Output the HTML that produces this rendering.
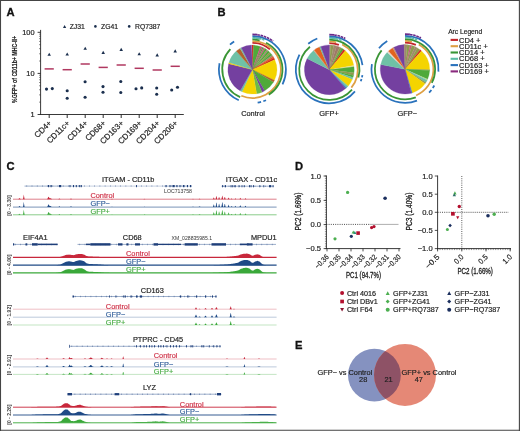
<!DOCTYPE html>
<html><head><meta charset="utf-8"><style>
html,body{margin:0;padding:0;background:#fff;}
svg{display:block;font-family:"Liberation Sans", sans-serif;will-change:transform;filter:blur(0.5px);}
</style></head><body>
<svg width="520" height="431" viewBox="0 0 520 431">
<rect x="0" y="0" width="520" height="431" fill="#fff"/>
<text x="6.5" y="16.1" font-size="11.2" text-anchor="start" fill="#111" font-weight="bold" stroke="#111" stroke-width="0.3">A</text>
<text x="217.5" y="15.9" font-size="11.2" text-anchor="start" fill="#111" font-weight="bold" stroke="#111" stroke-width="0.3">B</text>
<text x="6.6" y="169.6" font-size="11.2" text-anchor="start" fill="#111" font-weight="bold" stroke="#111" stroke-width="0.3">C</text>
<text x="295.1" y="169.7" font-size="11.2" text-anchor="start" fill="#111" font-weight="bold" stroke="#111" stroke-width="0.3">D</text>
<text x="295.1" y="348.6" font-size="11.2" text-anchor="start" fill="#111" font-weight="bold" stroke="#111" stroke-width="0.3">E</text>
<polygon points="62.99999999999999,27.94 66.19999999999999,27.94 64.6,25.06" fill="#1b2f4e"/>
<text x="69.7" y="29.0" font-size="6.8" text-anchor="start" fill="#222" stroke="#222" stroke-width="0.18">ZJ31</text>
<circle cx="95.4" cy="26.4" r="1.3" fill="#1b2f4e"/>
<text x="101" y="29.0" font-size="6.8" text-anchor="start" fill="#222" stroke="#222" stroke-width="0.18">ZG41</text>
<circle cx="129.2" cy="26.4" r="1.3" fill="#1b2f4e"/>
<text x="135" y="29.0" font-size="6.8" text-anchor="start" fill="#222" stroke="#222" stroke-width="0.18">RQ7387</text>
<line x1="40.6" y1="29.9" x2="40.6" y2="114.9" stroke="#222" stroke-width="0.9"/>
<line x1="40.1" y1="114.5" x2="183.8" y2="114.5" stroke="#222" stroke-width="0.9"/>
<line x1="37.6" y1="114.5" x2="40.6" y2="114.5" stroke="#222" stroke-width="0.9"/>
<line x1="37.6" y1="73.4" x2="40.6" y2="73.4" stroke="#222" stroke-width="0.9"/>
<line x1="37.6" y1="32.3" x2="40.6" y2="32.3" stroke="#222" stroke-width="0.9"/>
<line x1="39.1" y1="102.12766717821037" x2="40.6" y2="102.12766717821037" stroke="#333" stroke-width="0.6"/>
<line x1="39.1" y1="94.89031643102187" x2="40.6" y2="94.89031643102187" stroke="#333" stroke-width="0.6"/>
<line x1="39.1" y1="89.75533435642075" x2="40.6" y2="89.75533435642075" stroke="#333" stroke-width="0.6"/>
<line x1="39.1" y1="85.77233282178963" x2="40.6" y2="85.77233282178963" stroke="#333" stroke-width="0.6"/>
<line x1="39.1" y1="82.51798360923225" x2="40.6" y2="82.51798360923225" stroke="#333" stroke-width="0.6"/>
<line x1="39.1" y1="79.76647055541403" x2="40.6" y2="79.76647055541403" stroke="#333" stroke-width="0.6"/>
<line x1="39.1" y1="77.38300153463112" x2="40.6" y2="77.38300153463112" stroke="#333" stroke-width="0.6"/>
<line x1="39.1" y1="75.28063286204375" x2="40.6" y2="75.28063286204375" stroke="#333" stroke-width="0.6"/>
<line x1="39.1" y1="61.027667178210365" x2="40.6" y2="61.027667178210365" stroke="#333" stroke-width="0.6"/>
<line x1="39.1" y1="53.79031643102188" x2="40.6" y2="53.79031643102188" stroke="#333" stroke-width="0.6"/>
<line x1="39.1" y1="48.65533435642074" x2="40.6" y2="48.65533435642074" stroke="#333" stroke-width="0.6"/>
<line x1="39.1" y1="44.672332821789624" x2="40.6" y2="44.672332821789624" stroke="#333" stroke-width="0.6"/>
<line x1="39.1" y1="41.417983609232245" x2="40.6" y2="41.417983609232245" stroke="#333" stroke-width="0.6"/>
<line x1="39.1" y1="38.66647055541404" x2="40.6" y2="38.66647055541404" stroke="#333" stroke-width="0.6"/>
<line x1="39.1" y1="36.28300153463112" x2="40.6" y2="36.28300153463112" stroke="#333" stroke-width="0.6"/>
<line x1="39.1" y1="34.18063286204375" x2="40.6" y2="34.18063286204375" stroke="#333" stroke-width="0.6"/>
<text x="34.6" y="34.9" font-size="7.4" text-anchor="end" fill="#222" stroke="#222" stroke-width="0.18">100</text>
<text x="34.6" y="76.0" font-size="7.4" text-anchor="end" fill="#222" stroke="#222" stroke-width="0.18">10</text>
<text x="34.6" y="117.1" font-size="7.4" text-anchor="end" fill="#222" stroke="#222" stroke-width="0.18">1</text>
<text x="17.3" y="69.4" font-size="7.8" text-anchor="middle" fill="#222" font-weight="bold" transform="rotate(-90 17.3 69.4)" textLength="67" lengthAdjust="spacingAndGlyphs" stroke="#222" stroke-width="0.18">%GFP+ of CD11b+ MHC-II+</text>
<line x1="49.2" y1="114.5" x2="49.2" y2="118.0" stroke="#222" stroke-width="0.95"/>
<polygon points="47.45,55.775000000000006 50.95,55.775000000000006 49.2,52.625" fill="#1b2f4e"/>
<line x1="44.6" y1="68.9" x2="53.800000000000004" y2="68.9" stroke="#b03860" stroke-width="1.5"/>
<circle cx="46.5" cy="89.1" r="1.55" fill="#1b2f4e"/>
<circle cx="52.3" cy="88.6" r="1.55" fill="#1b2f4e"/>
<text x="52.2" y="123.6" font-size="8" text-anchor="end" fill="#222" transform="rotate(-45 52.2 123.6)" stroke="#222" stroke-width="0.18">CD4+</text>
<line x1="67.2" y1="114.5" x2="67.2" y2="118.0" stroke="#222" stroke-width="0.95"/>
<polygon points="65.45,55.575 68.95,55.575 67.2,52.425" fill="#1b2f4e"/>
<line x1="62.6" y1="69.7" x2="71.8" y2="69.7" stroke="#b03860" stroke-width="1.5"/>
<circle cx="67.2" cy="90.8" r="1.55" fill="#1b2f4e"/>
<circle cx="67.2" cy="98.3" r="1.55" fill="#1b2f4e"/>
<text x="70.2" y="123.6" font-size="8" text-anchor="end" fill="#222" transform="rotate(-45 70.2 123.6)" stroke="#222" stroke-width="0.18">CD11c+</text>
<line x1="85.2" y1="114.5" x2="85.2" y2="118.0" stroke="#222" stroke-width="0.95"/>
<polygon points="83.45,49.775000000000006 86.95,49.775000000000006 85.2,46.625" fill="#1b2f4e"/>
<line x1="80.60000000000001" y1="64" x2="89.8" y2="64" stroke="#b03860" stroke-width="1.5"/>
<circle cx="85.1" cy="81.8" r="1.55" fill="#1b2f4e"/>
<circle cx="85.1" cy="97.2" r="1.55" fill="#1b2f4e"/>
<text x="88.2" y="123.6" font-size="8" text-anchor="end" fill="#222" transform="rotate(-45 88.2 123.6)" stroke="#222" stroke-width="0.18">CD14+</text>
<line x1="103.2" y1="114.5" x2="103.2" y2="118.0" stroke="#222" stroke-width="0.95"/>
<polygon points="101.45,53.875 104.95,53.875 103.2,50.724999999999994" fill="#1b2f4e"/>
<line x1="98.60000000000001" y1="67.4" x2="107.8" y2="67.4" stroke="#b03860" stroke-width="1.5"/>
<circle cx="103" cy="86.6" r="1.55" fill="#1b2f4e"/>
<circle cx="103" cy="92.3" r="1.55" fill="#1b2f4e"/>
<text x="106.2" y="123.6" font-size="8" text-anchor="end" fill="#222" transform="rotate(-45 106.2 123.6)" stroke="#222" stroke-width="0.18">CD68+</text>
<line x1="121.2" y1="114.5" x2="121.2" y2="118.0" stroke="#222" stroke-width="0.95"/>
<polygon points="119.45,50.975 122.95,50.975 121.2,47.824999999999996" fill="#1b2f4e"/>
<line x1="116.60000000000001" y1="65" x2="125.8" y2="65" stroke="#b03860" stroke-width="1.5"/>
<circle cx="120.8" cy="81.5" r="1.55" fill="#1b2f4e"/>
<circle cx="120.8" cy="92.5" r="1.55" fill="#1b2f4e"/>
<text x="124.2" y="123.6" font-size="8" text-anchor="end" fill="#222" transform="rotate(-45 124.2 123.6)" stroke="#222" stroke-width="0.18">CD163+</text>
<line x1="139.2" y1="114.5" x2="139.2" y2="118.0" stroke="#222" stroke-width="0.95"/>
<polygon points="137.45,55.275000000000006 140.95,55.275000000000006 139.2,52.125" fill="#1b2f4e"/>
<line x1="134.6" y1="68.3" x2="143.79999999999998" y2="68.3" stroke="#b03860" stroke-width="1.5"/>
<circle cx="136" cy="88.7" r="1.55" fill="#1b2f4e"/>
<circle cx="141.7" cy="87.9" r="1.55" fill="#1b2f4e"/>
<text x="142.2" y="123.6" font-size="8" text-anchor="end" fill="#222" transform="rotate(-45 142.2 123.6)" stroke="#222" stroke-width="0.18">CD169+</text>
<line x1="157.2" y1="114.5" x2="157.2" y2="118.0" stroke="#222" stroke-width="0.95"/>
<polygon points="155.45,56.375 158.95,56.375 157.2,53.224999999999994" fill="#1b2f4e"/>
<line x1="152.6" y1="70" x2="161.79999999999998" y2="70" stroke="#b03860" stroke-width="1.5"/>
<circle cx="156.7" cy="88" r="1.55" fill="#1b2f4e"/>
<circle cx="156.7" cy="94.2" r="1.55" fill="#1b2f4e"/>
<text x="160.2" y="123.6" font-size="8" text-anchor="end" fill="#222" transform="rotate(-45 160.2 123.6)" stroke="#222" stroke-width="0.18">CD204+</text>
<line x1="175.2" y1="114.5" x2="175.2" y2="118.0" stroke="#222" stroke-width="0.95"/>
<polygon points="173.45,52.375 176.95,52.375 175.2,49.224999999999994" fill="#1b2f4e"/>
<line x1="170.6" y1="66.3" x2="179.79999999999998" y2="66.3" stroke="#b03860" stroke-width="1.5"/>
<circle cx="171.7" cy="90" r="1.55" fill="#1b2f4e"/>
<circle cx="177.5" cy="87.3" r="1.55" fill="#1b2f4e"/>
<text x="178.2" y="123.6" font-size="8" text-anchor="end" fill="#222" transform="rotate(-45 178.2 123.6)" stroke="#222" stroke-width="0.18">CD206+</text>
<line x1="326.4" y1="175.5" x2="326.4" y2="249.0" stroke="#222" stroke-width="0.9"/>
<line x1="326.0" y1="248.6" x2="400.5" y2="248.6" stroke="#222" stroke-width="0.9"/>
<line x1="323.59999999999997" y1="176" x2="326.4" y2="176" stroke="#222" stroke-width="0.8"/>
<text x="321.0" y="178.7" font-size="7.6" text-anchor="end" fill="#222" stroke="#222" stroke-width="0.18">1.0</text>
<line x1="323.59999999999997" y1="200.4" x2="326.4" y2="200.4" stroke="#222" stroke-width="0.8"/>
<text x="321.0" y="203.1" font-size="7.6" text-anchor="end" fill="#222" stroke="#222" stroke-width="0.18">0.5</text>
<line x1="323.59999999999997" y1="224.6" x2="326.4" y2="224.6" stroke="#222" stroke-width="0.8"/>
<text x="321.0" y="227.29999999999998" font-size="7.6" text-anchor="end" fill="#222" stroke="#222" stroke-width="0.18">0.0</text>
<line x1="323.59999999999997" y1="248.6" x2="326.4" y2="248.6" stroke="#222" stroke-width="0.8"/>
<text x="321.0" y="251.29999999999998" font-size="7.6" text-anchor="end" fill="#222" stroke="#222" stroke-width="0.18">−0.5</text>
<line x1="324.9" y1="176.0" x2="326.4" y2="176.0" stroke="#222" stroke-width="0.45"/>
<line x1="324.9" y1="178.42" x2="326.4" y2="178.42" stroke="#222" stroke-width="0.45"/>
<line x1="324.9" y1="180.84" x2="326.4" y2="180.84" stroke="#222" stroke-width="0.45"/>
<line x1="324.9" y1="183.26" x2="326.4" y2="183.26" stroke="#222" stroke-width="0.45"/>
<line x1="324.9" y1="185.68" x2="326.4" y2="185.68" stroke="#222" stroke-width="0.45"/>
<line x1="324.9" y1="188.1" x2="326.4" y2="188.1" stroke="#222" stroke-width="0.45"/>
<line x1="324.9" y1="190.52" x2="326.4" y2="190.52" stroke="#222" stroke-width="0.45"/>
<line x1="324.9" y1="192.94" x2="326.4" y2="192.94" stroke="#222" stroke-width="0.45"/>
<line x1="324.9" y1="195.36" x2="326.4" y2="195.36" stroke="#222" stroke-width="0.45"/>
<line x1="324.9" y1="197.78" x2="326.4" y2="197.78" stroke="#222" stroke-width="0.45"/>
<line x1="324.9" y1="200.2" x2="326.4" y2="200.2" stroke="#222" stroke-width="0.45"/>
<line x1="324.9" y1="202.62" x2="326.4" y2="202.62" stroke="#222" stroke-width="0.45"/>
<line x1="324.9" y1="205.04" x2="326.4" y2="205.04" stroke="#222" stroke-width="0.45"/>
<line x1="324.9" y1="207.46" x2="326.4" y2="207.46" stroke="#222" stroke-width="0.45"/>
<line x1="324.9" y1="209.88" x2="326.4" y2="209.88" stroke="#222" stroke-width="0.45"/>
<line x1="324.9" y1="212.3" x2="326.4" y2="212.3" stroke="#222" stroke-width="0.45"/>
<line x1="324.9" y1="214.72" x2="326.4" y2="214.72" stroke="#222" stroke-width="0.45"/>
<line x1="324.9" y1="217.14" x2="326.4" y2="217.14" stroke="#222" stroke-width="0.45"/>
<line x1="324.9" y1="219.56" x2="326.4" y2="219.56" stroke="#222" stroke-width="0.45"/>
<line x1="324.9" y1="221.98" x2="326.4" y2="221.98" stroke="#222" stroke-width="0.45"/>
<line x1="324.9" y1="224.4" x2="326.4" y2="224.4" stroke="#222" stroke-width="0.45"/>
<line x1="324.9" y1="226.82" x2="326.4" y2="226.82" stroke="#222" stroke-width="0.45"/>
<line x1="324.9" y1="229.24" x2="326.4" y2="229.24" stroke="#222" stroke-width="0.45"/>
<line x1="324.9" y1="231.66" x2="326.4" y2="231.66" stroke="#222" stroke-width="0.45"/>
<line x1="324.9" y1="234.07999999999998" x2="326.4" y2="234.07999999999998" stroke="#222" stroke-width="0.45"/>
<line x1="324.9" y1="236.5" x2="326.4" y2="236.5" stroke="#222" stroke-width="0.45"/>
<line x1="324.9" y1="238.92000000000002" x2="326.4" y2="238.92000000000002" stroke="#222" stroke-width="0.45"/>
<line x1="324.9" y1="241.34" x2="326.4" y2="241.34" stroke="#222" stroke-width="0.45"/>
<line x1="324.9" y1="243.76" x2="326.4" y2="243.76" stroke="#222" stroke-width="0.45"/>
<line x1="324.9" y1="246.18" x2="326.4" y2="246.18" stroke="#222" stroke-width="0.45"/>
<line x1="324.9" y1="248.6" x2="326.4" y2="248.6" stroke="#222" stroke-width="0.45"/>
<line x1="327" y1="248.6" x2="327" y2="251.4" stroke="#222" stroke-width="0.8"/>
<text x="329.4" y="257.5" font-size="7.6" text-anchor="end" fill="#222" transform="rotate(-45 329.4 257.5)" textLength="16.5" lengthAdjust="spacingAndGlyphs" stroke="#222" stroke-width="0.18">−0.36</text>
<line x1="339" y1="248.6" x2="339" y2="251.4" stroke="#222" stroke-width="0.8"/>
<text x="341.4" y="257.5" font-size="7.6" text-anchor="end" fill="#222" transform="rotate(-45 341.4 257.5)" textLength="16.5" lengthAdjust="spacingAndGlyphs" stroke="#222" stroke-width="0.18">−0.35</text>
<line x1="351" y1="248.6" x2="351" y2="251.4" stroke="#222" stroke-width="0.8"/>
<text x="353.4" y="257.5" font-size="7.6" text-anchor="end" fill="#222" transform="rotate(-45 353.4 257.5)" textLength="16.5" lengthAdjust="spacingAndGlyphs" stroke="#222" stroke-width="0.18">−0.34</text>
<line x1="363" y1="248.6" x2="363" y2="251.4" stroke="#222" stroke-width="0.8"/>
<text x="365.4" y="257.5" font-size="7.6" text-anchor="end" fill="#222" transform="rotate(-45 365.4 257.5)" textLength="16.5" lengthAdjust="spacingAndGlyphs" stroke="#222" stroke-width="0.18">−0.33</text>
<line x1="375" y1="248.6" x2="375" y2="251.4" stroke="#222" stroke-width="0.8"/>
<text x="377.4" y="257.5" font-size="7.6" text-anchor="end" fill="#222" transform="rotate(-45 377.4 257.5)" textLength="16.5" lengthAdjust="spacingAndGlyphs" stroke="#222" stroke-width="0.18">−0.32</text>
<line x1="387" y1="248.6" x2="387" y2="251.4" stroke="#222" stroke-width="0.8"/>
<text x="389.4" y="257.5" font-size="7.6" text-anchor="end" fill="#222" transform="rotate(-45 389.4 257.5)" textLength="16.5" lengthAdjust="spacingAndGlyphs" stroke="#222" stroke-width="0.18">−0.31</text>
<line x1="399" y1="248.6" x2="399" y2="251.4" stroke="#222" stroke-width="0.8"/>
<text x="401.4" y="257.5" font-size="7.6" text-anchor="end" fill="#222" transform="rotate(-45 401.4 257.5)" textLength="16.5" lengthAdjust="spacingAndGlyphs" stroke="#222" stroke-width="0.18">−0.30</text>
<line x1="326.4" y1="224.4" x2="369.6" y2="224.4" stroke="#222" stroke-width="0.8" stroke-dasharray="1,1.2"/>
<line x1="369.6" y1="224.4" x2="398.5" y2="224.4" stroke="#777" stroke-width="0.6"/>
<text x="301.4" y="211.5" font-size="8.4" text-anchor="middle" fill="#222" transform="rotate(-90 301.4 211.5)" textLength="38" lengthAdjust="spacingAndGlyphs" stroke="#222" stroke-width="0.3">PC2 (1.66%)</text>
<text x="363.5" y="278.4" font-size="8.4" text-anchor="middle" fill="#222" textLength="35" lengthAdjust="spacingAndGlyphs" stroke="#222" stroke-width="0.3">PC1 (94.7%)</text>
<circle cx="347.6" cy="192.4" r="1.6" fill="#4caf50"/>
<circle cx="385.1" cy="198.2" r="1.8" fill="#1b2f5e"/>
<circle cx="371.6" cy="227.6" r="1.6" fill="#b3102e"/>
<circle cx="374" cy="226.6" r="1.6" fill="#b3102e"/>
<polygon points="351.6,233.53 355.0,233.53 353.3,230.47" fill="#4caf50"/>
<polygon points="353.1,234.03 356.5,234.03 354.8,230.97" fill="#2f8f7a"/>
<rect x="356.3" y="231.29999999999998" width="3.6" height="3.6" fill="#b3102e"/>
<circle cx="351.3" cy="236.3" r="1.6" fill="#1b2f5e"/>
<circle cx="335" cy="238.8" r="1.6" fill="#4caf50"/>
<line x1="437.6" y1="175.5" x2="437.6" y2="249.0" stroke="#222" stroke-width="0.9"/>
<line x1="437.20000000000005" y1="248.6" x2="511" y2="248.6" stroke="#222" stroke-width="0.9"/>
<line x1="434.8" y1="176" x2="437.6" y2="176" stroke="#222" stroke-width="0.8"/>
<text x="432.7" y="178.7" font-size="7.6" text-anchor="end" fill="#222" stroke="#222" stroke-width="0.18">1.0</text>
<line x1="434.8" y1="194.2" x2="437.6" y2="194.2" stroke="#222" stroke-width="0.8"/>
<text x="432.7" y="196.89999999999998" font-size="7.6" text-anchor="end" fill="#222" stroke="#222" stroke-width="0.18">0.5</text>
<line x1="434.8" y1="212.3" x2="437.6" y2="212.3" stroke="#222" stroke-width="0.8"/>
<text x="432.7" y="215.0" font-size="7.6" text-anchor="end" fill="#222" stroke="#222" stroke-width="0.18">0.0</text>
<line x1="434.8" y1="230.4" x2="437.6" y2="230.4" stroke="#222" stroke-width="0.8"/>
<text x="432.7" y="233.1" font-size="7.6" text-anchor="end" fill="#222" stroke="#222" stroke-width="0.18">−0.5</text>
<line x1="434.8" y1="248.6" x2="437.6" y2="248.6" stroke="#222" stroke-width="0.8"/>
<text x="432.7" y="251.29999999999998" font-size="7.6" text-anchor="end" fill="#222" stroke="#222" stroke-width="0.18">−1.0</text>
<line x1="437.6" y1="248.6" x2="437.6" y2="251.4" stroke="#222" stroke-width="0.8"/>
<text x="440.0" y="257.5" font-size="7.6" text-anchor="end" fill="#222" transform="rotate(-45 440.0 257.5)" textLength="16.5" lengthAdjust="spacingAndGlyphs" stroke="#222" stroke-width="0.18">−0.5</text>
<line x1="461.8" y1="248.6" x2="461.8" y2="251.4" stroke="#222" stroke-width="0.8"/>
<text x="464.2" y="257.5" font-size="7.6" text-anchor="end" fill="#222" transform="rotate(-45 464.2 257.5)" textLength="10" lengthAdjust="spacingAndGlyphs" stroke="#222" stroke-width="0.18">0.0</text>
<line x1="486" y1="248.6" x2="486" y2="251.4" stroke="#222" stroke-width="0.8"/>
<text x="488.4" y="257.5" font-size="7.6" text-anchor="end" fill="#222" transform="rotate(-45 488.4 257.5)" textLength="10" lengthAdjust="spacingAndGlyphs" stroke="#222" stroke-width="0.18">0.5</text>
<line x1="510.2" y1="248.6" x2="510.2" y2="251.4" stroke="#222" stroke-width="0.8"/>
<text x="512.6" y="257.5" font-size="7.6" text-anchor="end" fill="#222" transform="rotate(-45 512.6 257.5)" textLength="10" lengthAdjust="spacingAndGlyphs" stroke="#222" stroke-width="0.18">1.0</text>
<line x1="437.6" y1="248.6" x2="437.6" y2="250.1" stroke="#222" stroke-width="0.45"/>
<line x1="440.02000000000004" y1="248.6" x2="440.02000000000004" y2="250.1" stroke="#222" stroke-width="0.45"/>
<line x1="442.44" y1="248.6" x2="442.44" y2="250.1" stroke="#222" stroke-width="0.45"/>
<line x1="444.86" y1="248.6" x2="444.86" y2="250.1" stroke="#222" stroke-width="0.45"/>
<line x1="447.28000000000003" y1="248.6" x2="447.28000000000003" y2="250.1" stroke="#222" stroke-width="0.45"/>
<line x1="449.70000000000005" y1="248.6" x2="449.70000000000005" y2="250.1" stroke="#222" stroke-width="0.45"/>
<line x1="452.12" y1="248.6" x2="452.12" y2="250.1" stroke="#222" stroke-width="0.45"/>
<line x1="454.54" y1="248.6" x2="454.54" y2="250.1" stroke="#222" stroke-width="0.45"/>
<line x1="456.96000000000004" y1="248.6" x2="456.96000000000004" y2="250.1" stroke="#222" stroke-width="0.45"/>
<line x1="459.38" y1="248.6" x2="459.38" y2="250.1" stroke="#222" stroke-width="0.45"/>
<line x1="461.8" y1="248.6" x2="461.8" y2="250.1" stroke="#222" stroke-width="0.45"/>
<line x1="464.22" y1="248.6" x2="464.22" y2="250.1" stroke="#222" stroke-width="0.45"/>
<line x1="466.64000000000004" y1="248.6" x2="466.64000000000004" y2="250.1" stroke="#222" stroke-width="0.45"/>
<line x1="469.06" y1="248.6" x2="469.06" y2="250.1" stroke="#222" stroke-width="0.45"/>
<line x1="471.48" y1="248.6" x2="471.48" y2="250.1" stroke="#222" stroke-width="0.45"/>
<line x1="473.90000000000003" y1="248.6" x2="473.90000000000003" y2="250.1" stroke="#222" stroke-width="0.45"/>
<line x1="476.32000000000005" y1="248.6" x2="476.32000000000005" y2="250.1" stroke="#222" stroke-width="0.45"/>
<line x1="478.74" y1="248.6" x2="478.74" y2="250.1" stroke="#222" stroke-width="0.45"/>
<line x1="481.16" y1="248.6" x2="481.16" y2="250.1" stroke="#222" stroke-width="0.45"/>
<line x1="483.58000000000004" y1="248.6" x2="483.58000000000004" y2="250.1" stroke="#222" stroke-width="0.45"/>
<line x1="486.0" y1="248.6" x2="486.0" y2="250.1" stroke="#222" stroke-width="0.45"/>
<line x1="488.42" y1="248.6" x2="488.42" y2="250.1" stroke="#222" stroke-width="0.45"/>
<line x1="490.84000000000003" y1="248.6" x2="490.84000000000003" y2="250.1" stroke="#222" stroke-width="0.45"/>
<line x1="493.26" y1="248.6" x2="493.26" y2="250.1" stroke="#222" stroke-width="0.45"/>
<line x1="495.68" y1="248.6" x2="495.68" y2="250.1" stroke="#222" stroke-width="0.45"/>
<line x1="498.1" y1="248.6" x2="498.1" y2="250.1" stroke="#222" stroke-width="0.45"/>
<line x1="500.52000000000004" y1="248.6" x2="500.52000000000004" y2="250.1" stroke="#222" stroke-width="0.45"/>
<line x1="502.94000000000005" y1="248.6" x2="502.94000000000005" y2="250.1" stroke="#222" stroke-width="0.45"/>
<line x1="505.36" y1="248.6" x2="505.36" y2="250.1" stroke="#222" stroke-width="0.45"/>
<line x1="507.78000000000003" y1="248.6" x2="507.78000000000003" y2="250.1" stroke="#222" stroke-width="0.45"/>
<line x1="510.20000000000005" y1="248.6" x2="510.20000000000005" y2="250.1" stroke="#222" stroke-width="0.45"/>
<line x1="461.8" y1="176" x2="461.8" y2="248.6" stroke="#333" stroke-width="0.8" stroke-dasharray="1,1.2"/>
<line x1="437.6" y1="212.3" x2="462" y2="212.3" stroke="#222" stroke-width="0.8" stroke-dasharray="1,1.2"/>
<line x1="462" y1="212.3" x2="508.5" y2="212.3" stroke="#444" stroke-width="0.7" stroke-dasharray="1.3,0.8"/>
<text x="411.9" y="211.5" font-size="8.4" text-anchor="middle" fill="#222" transform="rotate(-90 411.9 211.5)" textLength="38" lengthAdjust="spacingAndGlyphs" stroke="#222" stroke-width="0.3">PC3 (1.40%)</text>
<text x="475.2" y="273.8" font-size="8.4" text-anchor="middle" fill="#222" textLength="35.5" lengthAdjust="spacingAndGlyphs" stroke="#222" stroke-width="0.3">PC2 (1.66%)</text>
<polygon points="453.2,194.43 456.59999999999997,194.43 454.9,191.37" fill="#4caf50"/>
<polygon points="452.6,196.33 456.0,196.33 454.3,193.27" fill="#2f6f6a"/>
<circle cx="459.3" cy="206.5" r="1.7" fill="#b3102e"/>
<rect x="451.04999999999995" y="211.95000000000002" width="3.7" height="3.7" fill="#b3102e"/>
<polygon points="456.09999999999997,216.26 459.3,216.26 457.7,219.14" fill="#b3102e"/>
<polygon points="450.1,223.7 451.90000000000003,225.5 450.1,227.3 448.3,225.5" fill="#1b2f5e"/>
<circle cx="447.4" cy="229.6" r="1.5" fill="#4caf50"/>
<circle cx="488" cy="215.7" r="1.8" fill="#1b2f5e"/>
<circle cx="494.2" cy="214.3" r="1.7" fill="#4caf50"/>
<text x="346.9" y="295.6" font-size="7.2" text-anchor="start" fill="#222" stroke="#222" stroke-width="0.18">Ctrl 4016</text>
<circle cx="342.1" cy="293.1" r="2.0" fill="#b3102e"/>
<text x="346.9" y="304.0" font-size="7.2" text-anchor="start" fill="#222" stroke="#222" stroke-width="0.18">Ctrl DBv1</text>
<rect x="340.25" y="299.65" width="3.7" height="3.7" fill="#b3102e"/>
<text x="346.9" y="312.3" font-size="7.2" text-anchor="start" fill="#222" stroke="#222" stroke-width="0.18">Ctrl F64</text>
<polygon points="340.1,308.0 344.1,308.0 342.1,311.6" fill="#8a1530"/>
<text x="393.1" y="295.6" font-size="7.2" text-anchor="start" fill="#222" stroke="#222" stroke-width="0.18">GFP+ZJ31</text>
<polygon points="385.7,294.90000000000003 389.7,294.90000000000003 387.7,291.3" fill="#4caf50"/>
<text x="393.1" y="304.0" font-size="7.2" text-anchor="start" fill="#222" stroke="#222" stroke-width="0.18">GFP+ZG41</text>
<polygon points="387.7,299.5 389.7,301.5 387.7,303.5 385.7,301.5" fill="#4caf50"/>
<text x="393.1" y="312.3" font-size="7.2" text-anchor="start" fill="#222" stroke="#222" stroke-width="0.18">GFP+RQ7387</text>
<circle cx="387.7" cy="309.8" r="2.0" fill="#4caf50"/>
<text x="454.6" y="295.6" font-size="7.2" text-anchor="start" fill="#222" stroke="#222" stroke-width="0.18">GFP−ZJ31</text>
<polygon points="447.2,294.90000000000003 451.2,294.90000000000003 449.2,291.3" fill="#1b2f5e"/>
<text x="454.6" y="304.0" font-size="7.2" text-anchor="start" fill="#222" stroke="#222" stroke-width="0.18">GFP−ZG41</text>
<polygon points="449.2,299.5 451.2,301.5 449.2,303.5 447.2,301.5" fill="#1b2f5e"/>
<text x="454.6" y="312.3" font-size="7.2" text-anchor="start" fill="#222" stroke="#222" stroke-width="0.18">GFP−RQ7387</text>
<circle cx="449.2" cy="309.8" r="2.0" fill="#1b2f5e"/>
<defs><clipPath id="vb"><circle cx="374.4" cy="375.2" r="26.4"/></clipPath></defs>
<circle cx="374.4" cy="375.2" r="26.4" fill="#8592c0"/>
<circle cx="405" cy="374.9" r="31" fill="#e58876"/>
<circle cx="405" cy="374.9" r="31" fill="#8e5266" clip-path="url(#vb)"/>
<text x="372.3" y="374.6" font-size="7.4" text-anchor="end" fill="#222" stroke="#222" stroke-width="0.18">GFP− vs Control</text>
<text x="363.2" y="382.0" font-size="7.4" text-anchor="middle" fill="#222" stroke="#222" stroke-width="0.18">28</text>
<text x="388.5" y="382.0" font-size="7.4" text-anchor="middle" fill="#222" stroke="#222" stroke-width="0.18">21</text>
<text x="401.6" y="374.6" font-size="7.4" text-anchor="start" fill="#222" stroke="#222" stroke-width="0.18">GFP+ vs Control</text>
<text x="418.8" y="382.0" font-size="7.4" text-anchor="middle" fill="#222" stroke="#222" stroke-width="0.18">47</text>
<path d="M252.40,69.60 L251.97,45.10 A24.5,24.5 0 0 1 253.68,45.13 Z" fill="#d0281f" stroke="#d0281f" stroke-width="0.25"/>
<path d="M252.40,69.60 L253.68,45.13 A24.5,24.5 0 0 1 260.38,46.43 Z" fill="#4fa93a" stroke="#4fa93a" stroke-width="0.25"/>
<path d="M252.40,69.60 L260.38,46.43 A24.5,24.5 0 0 1 262.37,47.22 Z" fill="#c35a7e" stroke="#c35a7e" stroke-width="0.25"/>
<path d="M252.40,69.60 L262.37,47.22 A24.5,24.5 0 0 1 263.52,47.77 Z" fill="#4fa93a" stroke="#4fa93a" stroke-width="0.25"/>
<path d="M252.40,69.60 L263.52,47.77 A24.5,24.5 0 0 1 265.02,48.60 Z" fill="#c35a7e" stroke="#c35a7e" stroke-width="0.25"/>
<path d="M252.40,69.60 L265.02,48.60 A24.5,24.5 0 0 1 266.80,49.78 Z" fill="#4fa93a" stroke="#4fa93a" stroke-width="0.25"/>
<path d="M252.40,69.60 L266.80,49.78 A24.5,24.5 0 0 1 268.15,50.83 Z" fill="#9f8a6c" stroke="#9f8a6c" stroke-width="0.25"/>
<path d="M252.40,69.60 L268.15,50.83 A24.5,24.5 0 0 1 269.72,52.28 Z" fill="#4fa93a" stroke="#4fa93a" stroke-width="0.25"/>
<path d="M252.40,69.60 L269.72,52.28 A24.5,24.5 0 0 1 270.89,53.53 Z" fill="#8e9b4f" stroke="#8e9b4f" stroke-width="0.25"/>
<path d="M252.40,69.60 L270.89,53.53 A24.5,24.5 0 0 1 272.22,55.20 Z" fill="#4fa93a" stroke="#4fa93a" stroke-width="0.25"/>
<path d="M252.40,69.60 L272.22,55.20 A24.5,24.5 0 0 1 273.18,56.62 Z" fill="#9f8a6c" stroke="#9f8a6c" stroke-width="0.25"/>
<path d="M252.40,69.60 L273.18,56.62 A24.5,24.5 0 0 1 274.03,58.10 Z" fill="#e05a28" stroke="#e05a28" stroke-width="0.25"/>
<path d="M252.40,69.60 L274.03,58.10 A24.5,24.5 0 0 1 274.78,59.63 Z" fill="#d0281f" stroke="#d0281f" stroke-width="0.25"/>
<path d="M252.40,69.60 L274.78,59.63 A24.5,24.5 0 0 1 274.42,80.34 Z" fill="#f4d400" stroke="#f4d400" stroke-width="0.25"/>
<path d="M252.40,69.60 L274.42,80.34 A24.5,24.5 0 0 1 273.40,82.22 Z" fill="#b4622a" stroke="#b4622a" stroke-width="0.25"/>
<path d="M252.40,69.60 L273.40,82.22 A24.5,24.5 0 0 1 264.65,90.82 Z" fill="#4fa93a" stroke="#4fa93a" stroke-width="0.25"/>
<path d="M252.40,69.60 L264.65,90.82 A24.5,24.5 0 0 1 261.97,92.15 Z" fill="#7440a0" stroke="#7440a0" stroke-width="0.25"/>
<path d="M252.40,69.60 L261.97,92.15 A24.5,24.5 0 0 1 256.65,93.73 Z" fill="#6cba48" stroke="#6cba48" stroke-width="0.25"/>
<path d="M252.40,69.60 L256.65,93.73 A24.5,24.5 0 0 1 242.05,91.80 Z" fill="#f4d400" stroke="#f4d400" stroke-width="0.25"/>
<path d="M252.40,69.60 L242.05,91.80 A24.5,24.5 0 0 1 240.15,90.82 Z" fill="#6fc1a6" stroke="#6fc1a6" stroke-width="0.25"/>
<path d="M252.40,69.60 L240.15,90.82 A24.5,24.5 0 0 1 228.63,63.67 Z" fill="#7440a0" stroke="#7440a0" stroke-width="0.25"/>
<path d="M252.40,69.60 L228.63,63.67 A24.5,24.5 0 0 1 228.97,62.44 Z" fill="#f4d400" stroke="#f4d400" stroke-width="0.25"/>
<path d="M252.40,69.60 L228.97,62.44 A24.5,24.5 0 0 1 236.33,51.11 Z" fill="#6fc1a6" stroke="#6fc1a6" stroke-width="0.25"/>
<path d="M252.40,69.60 L236.33,51.11 A24.5,24.5 0 0 1 240.15,48.38 Z" fill="#b4622a" stroke="#b4622a" stroke-width="0.25"/>
<path d="M252.40,69.60 L240.15,48.38 A24.5,24.5 0 0 1 241.28,47.77 Z" fill="#6fc1a6" stroke="#6fc1a6" stroke-width="0.25"/>
<path d="M252.40,69.60 L241.28,47.77 A24.5,24.5 0 0 1 251.54,45.11 Z" fill="#7440a0" stroke="#7440a0" stroke-width="0.25"/>
<path d="M252.40,42.90 A26.7,26.7 0 0 1 269.92,49.45" fill="none" stroke="#c4262a" stroke-width="1.75"/>
<path d="M252.40,41.20 A28.4,28.4 0 1 1 241.30,95.74" fill="none" stroke="#dea044" stroke-width="1.75"/>
<path d="M252.40,39.50 A30.1,30.1 0 0 1 259.68,40.39" fill="none" stroke="#3a9535" stroke-width="1.75"/>
<path d="M266.07,42.78 A30.1,30.1 0 0 1 268.79,94.84" fill="none" stroke="#3a9535" stroke-width="1.75"/>
<path d="M240.16,97.10 A30.1,30.1 0 0 1 230.39,49.07" fill="none" stroke="#3a9535" stroke-width="1.75"/>
<path d="M252.40,37.80 A31.8,31.8 0 0 1 259.01,38.49" fill="none" stroke="#5cbca4" stroke-width="1.75"/>
<path d="M252.40,36.10 A33.5,33.5 0 0 1 282.51,84.29" fill="none" stroke="#2a72bc" stroke-width="1.75"/>
<path d="M238.77,100.20 A33.5,33.5 0 0 1 219.52,63.21" fill="none" stroke="#2a72bc" stroke-width="1.75"/>
<path d="M229.98,44.70 A33.5,33.5 0 0 1 234.15,41.50" fill="none" stroke="#2a72bc" stroke-width="1.75"/>
<path d="M266.03,100.20 A33.5,33.5 0 0 1 263.31,101.27" fill="none" stroke="#2a72bc" stroke-width="1.75"/>
<path d="M261.07,101.96 A33.5,33.5 0 0 1 257.64,102.69" fill="none" stroke="#2a72bc" stroke-width="1.75"/>
<path d="M252.40,34.40 A35.2,35.2 0 0 1 257.30,34.74" fill="none" stroke="#6a2a8a" stroke-width="1.75"/>
<path d="M259.01,38.49 A31.8,31.8 0 0 1 264.31,40.12" fill="none" stroke="#5cbca4" stroke-width="1.6" stroke-dasharray="2.6,0.7"/>
<path d="M257.30,34.74 A35.2,35.2 0 0 1 273.09,41.12" fill="none" stroke="#6a2a8a" stroke-width="1.6" stroke-dasharray="2.6,0.7"/>
<path d="M329.30,69.80 L329.30,44.90 A24.9,24.9 0 0 1 330.60,44.93 Z" fill="#9f8a6c" stroke="#9f8a6c" stroke-width="0.25"/>
<path d="M329.30,69.80 L330.60,44.93 A24.9,24.9 0 0 1 333.62,45.28 Z" fill="#8e9b4f" stroke="#8e9b4f" stroke-width="0.25"/>
<path d="M329.30,69.80 L333.62,45.28 A24.9,24.9 0 0 1 336.58,45.99 Z" fill="#9f8a6c" stroke="#9f8a6c" stroke-width="0.25"/>
<path d="M329.30,69.80 L336.58,45.99 A24.9,24.9 0 0 1 339.82,47.23 Z" fill="#a07868" stroke="#a07868" stroke-width="0.25"/>
<path d="M329.30,69.80 L339.82,47.23 A24.9,24.9 0 0 1 341.75,48.24 Z" fill="#8e9b4f" stroke="#8e9b4f" stroke-width="0.25"/>
<path d="M329.30,69.80 L341.75,48.24 A24.9,24.9 0 0 1 343.58,49.40 Z" fill="#4fa93a" stroke="#4fa93a" stroke-width="0.25"/>
<path d="M329.30,69.80 L343.58,49.40 A24.9,24.9 0 0 1 345.31,50.73 Z" fill="#d0281f" stroke="#d0281f" stroke-width="0.25"/>
<path d="M329.30,69.80 L345.31,50.73 A24.9,24.9 0 0 1 353.82,65.48 Z" fill="#f4d400" stroke="#f4d400" stroke-width="0.25"/>
<path d="M329.30,69.80 L353.82,65.48 A24.9,24.9 0 0 1 354.01,66.77 Z" fill="#e8e0a0" stroke="#e8e0a0" stroke-width="0.25"/>
<path d="M329.30,69.80 L354.01,66.77 A24.9,24.9 0 0 1 354.01,72.83 Z" fill="#4fa93a" stroke="#4fa93a" stroke-width="0.25"/>
<path d="M329.30,69.80 L354.01,72.83 A24.9,24.9 0 0 1 353.56,75.40 Z" fill="#8e9b4f" stroke="#8e9b4f" stroke-width="0.25"/>
<path d="M329.30,69.80 L353.56,75.40 A24.9,24.9 0 0 1 352.98,77.49 Z" fill="#4fa93a" stroke="#4fa93a" stroke-width="0.25"/>
<path d="M329.30,69.80 L352.98,77.49 A24.9,24.9 0 0 1 352.22,79.53 Z" fill="#6fc1a6" stroke="#6fc1a6" stroke-width="0.25"/>
<path d="M329.30,69.80 L352.22,79.53 A24.9,24.9 0 0 1 348.09,86.14 Z" fill="#f4d400" stroke="#f4d400" stroke-width="0.25"/>
<path d="M329.30,69.80 L348.09,86.14 A24.9,24.9 0 0 1 346.60,87.71 Z" fill="#6fc1a6" stroke="#6fc1a6" stroke-width="0.25"/>
<path d="M329.30,69.80 L346.60,87.71 A24.9,24.9 0 0 1 345.64,88.59 Z" fill="#3b7fc6" stroke="#3b7fc6" stroke-width="0.25"/>
<path d="M329.30,69.80 L345.64,88.59 A24.9,24.9 0 0 1 307.11,58.50 Z" fill="#7440a0" stroke="#7440a0" stroke-width="0.25"/>
<path d="M329.30,69.80 L307.11,58.50 A24.9,24.9 0 0 1 313.63,50.45 Z" fill="#6fc1a6" stroke="#6fc1a6" stroke-width="0.25"/>
<path d="M329.30,69.80 L313.63,50.45 A24.9,24.9 0 0 1 314.31,49.91 Z" fill="#e0a080" stroke="#e0a080" stroke-width="0.25"/>
<path d="M329.30,69.80 L314.31,49.91 A24.9,24.9 0 0 1 319.57,46.88 Z" fill="#e3631f" stroke="#e3631f" stroke-width="0.25"/>
<path d="M329.30,69.80 L319.57,46.88 A24.9,24.9 0 0 1 320.78,46.40 Z" fill="#6fc1a6" stroke="#6fc1a6" stroke-width="0.25"/>
<path d="M329.30,69.80 L320.78,46.40 A24.9,24.9 0 0 1 329.30,44.90 Z" fill="#7440a0" stroke="#7440a0" stroke-width="0.25"/>
<path d="M329.30,43.10 A26.7,26.7 0 0 1 338.87,44.87" fill="none" stroke="#c4262a" stroke-width="1.75"/>
<path d="M329.30,41.40 A28.4,28.4 0 0 1 336.17,42.24" fill="none" stroke="#dea044" stroke-width="1.75"/>
<path d="M342.19,44.50 A28.4,28.4 0 0 1 351.37,87.67" fill="none" stroke="#dea044" stroke-width="1.75"/>
<path d="M329.30,39.70 A30.1,30.1 0 0 1 358.37,77.59" fill="none" stroke="#3a9535" stroke-width="1.75"/>
<path d="M352.02,89.55 A30.1,30.1 0 1 1 309.95,46.74" fill="none" stroke="#3a9535" stroke-width="1.75"/>
<path d="M329.30,38.00 A31.8,31.8 0 0 1 335.91,38.69" fill="none" stroke="#5cbca4" stroke-width="1.75"/>
<path d="M329.30,36.30 A33.5,33.5 0 0 1 362.47,65.14" fill="none" stroke="#2a72bc" stroke-width="1.75"/>
<path d="M354.96,91.33 A33.5,33.5 0 0 1 299.45,54.59" fill="none" stroke="#2a72bc" stroke-width="1.75"/>
<path d="M308.22,43.77 A33.5,33.5 0 0 1 317.29,38.53" fill="none" stroke="#2a72bc" stroke-width="1.75"/>
<path d="M362.39,75.04 A33.5,33.5 0 0 1 361.94,77.34" fill="none" stroke="#2a72bc" stroke-width="1.75"/>
<path d="M361.50,79.03 A33.5,33.5 0 0 1 360.78,81.26" fill="none" stroke="#2a72bc" stroke-width="1.75"/>
<path d="M329.30,34.60 A35.2,35.2 0 0 1 334.20,34.94" fill="none" stroke="#6a2a8a" stroke-width="1.75"/>
<path d="M335.91,38.69 A31.8,31.8 0 0 1 342.23,40.75" fill="none" stroke="#5cbca4" stroke-width="1.6" stroke-dasharray="2.6,0.7"/>
<path d="M334.20,34.94 A35.2,35.2 0 0 1 345.28,38.44" fill="none" stroke="#6a2a8a" stroke-width="1.6" stroke-dasharray="2.6,0.7"/>
<path d="M405.00,69.30 L405.00,44.60 A24.7,24.7 0 0 1 407.15,44.69 Z" fill="#9f8a6c" stroke="#9f8a6c" stroke-width="0.25"/>
<path d="M405.00,69.30 L407.15,44.69 A24.7,24.7 0 0 1 410.14,45.14 Z" fill="#8e9b4f" stroke="#8e9b4f" stroke-width="0.25"/>
<path d="M405.00,69.30 L410.14,45.14 A24.7,24.7 0 0 1 411.81,45.56 Z" fill="#c35a7e" stroke="#c35a7e" stroke-width="0.25"/>
<path d="M405.00,69.30 L411.81,45.56 A24.7,24.7 0 0 1 415.05,46.74 Z" fill="#8e9b4f" stroke="#8e9b4f" stroke-width="0.25"/>
<path d="M405.00,69.30 L415.05,46.74 A24.7,24.7 0 0 1 417.35,47.91 Z" fill="#9f8a6c" stroke="#9f8a6c" stroke-width="0.25"/>
<path d="M405.00,69.30 L417.35,47.91 A24.7,24.7 0 0 1 420.21,49.84 Z" fill="#8e9b4f" stroke="#8e9b4f" stroke-width="0.25"/>
<path d="M405.00,69.30 L420.21,49.84 A24.7,24.7 0 0 1 421.53,50.94 Z" fill="#d0281f" stroke="#d0281f" stroke-width="0.25"/>
<path d="M405.00,69.30 L421.53,50.94 A24.7,24.7 0 0 1 429.70,69.73 Z" fill="#f4d400" stroke="#f4d400" stroke-width="0.25"/>
<path d="M405.00,69.30 L429.70,69.73 A24.7,24.7 0 0 1 429.67,70.59 Z" fill="#8e9b4f" stroke="#8e9b4f" stroke-width="0.25"/>
<path d="M405.00,69.30 L429.67,70.59 A24.7,24.7 0 0 1 427.56,79.35 Z" fill="#4fa93a" stroke="#4fa93a" stroke-width="0.25"/>
<path d="M405.00,69.30 L427.56,79.35 A24.7,24.7 0 0 1 427.20,80.13 Z" fill="#b8d890" stroke="#b8d890" stroke-width="0.25"/>
<path d="M405.00,69.30 L427.20,80.13 A24.7,24.7 0 0 1 425.95,82.39 Z" fill="#6fc1a6" stroke="#6fc1a6" stroke-width="0.25"/>
<path d="M405.00,69.30 L425.95,82.39 A24.7,24.7 0 0 1 424.98,83.82 Z" fill="#8e9b4f" stroke="#8e9b4f" stroke-width="0.25"/>
<path d="M405.00,69.30 L424.98,83.82 A24.7,24.7 0 0 1 412.22,92.92 Z" fill="#f4d400" stroke="#f4d400" stroke-width="0.25"/>
<path d="M405.00,69.30 L412.22,92.92 A24.7,24.7 0 0 1 411.39,93.16 Z" fill="#3b7fc6" stroke="#3b7fc6" stroke-width="0.25"/>
<path d="M405.00,69.30 L411.39,93.16 A24.7,24.7 0 0 1 380.75,64.59 Z" fill="#7440a0" stroke="#7440a0" stroke-width="0.25"/>
<path d="M405.00,69.30 L380.75,64.59 A24.7,24.7 0 0 1 387.23,52.14 Z" fill="#6fc1a6" stroke="#6fc1a6" stroke-width="0.25"/>
<path d="M405.00,69.30 L387.23,52.14 A24.7,24.7 0 0 1 388.47,50.94 Z" fill="#e8d8d0" stroke="#e8d8d0" stroke-width="0.25"/>
<path d="M405.00,69.30 L388.47,50.94 A24.7,24.7 0 0 1 392.65,47.91 Z" fill="#e3631f" stroke="#e3631f" stroke-width="0.25"/>
<path d="M405.00,69.30 L392.65,47.91 A24.7,24.7 0 0 1 393.79,47.29 Z" fill="#c89070" stroke="#c89070" stroke-width="0.25"/>
<path d="M405.00,69.30 L393.79,47.29 A24.7,24.7 0 0 1 404.14,44.62 Z" fill="#7440a0" stroke="#7440a0" stroke-width="0.25"/>
<path d="M405.00,69.30 L404.14,44.62 A24.7,24.7 0 0 1 405.00,44.60 Z" fill="#9f8a6c" stroke="#9f8a6c" stroke-width="0.25"/>
<path d="M405.00,42.60 A26.7,26.7 0 0 1 415.86,44.91" fill="none" stroke="#c4262a" stroke-width="1.75"/>
<path d="M405.00,40.90 A28.4,28.4 0 0 1 411.87,41.74" fill="none" stroke="#dea044" stroke-width="1.75"/>
<path d="M418.77,44.46 A28.4,28.4 0 0 1 416.10,95.44" fill="none" stroke="#dea044" stroke-width="1.75"/>
<path d="M405.00,39.20 A30.1,30.1 0 0 1 431.82,82.97" fill="none" stroke="#3a9535" stroke-width="1.75"/>
<path d="M415.79,97.40 A30.1,30.1 0 0 1 381.61,50.36" fill="none" stroke="#3a9535" stroke-width="1.75"/>
<path d="M405.00,37.50 A31.8,31.8 0 0 1 411.61,38.19" fill="none" stroke="#5cbca4" stroke-width="1.75"/>
<path d="M405.00,35.80 A33.5,33.5 0 0 1 438.42,71.64" fill="none" stroke="#2a72bc" stroke-width="1.75"/>
<path d="M417.01,100.57 A33.5,33.5 0 0 1 371.91,64.06" fill="none" stroke="#2a72bc" stroke-width="1.75"/>
<path d="M378.97,48.22 A33.5,33.5 0 0 1 387.25,40.89" fill="none" stroke="#2a72bc" stroke-width="1.75"/>
<path d="M434.30,85.54 A33.5,33.5 0 0 1 432.77,88.03" fill="none" stroke="#2a72bc" stroke-width="1.75"/>
<path d="M431.40,89.92 A33.5,33.5 0 0 1 429.10,92.57" fill="none" stroke="#2a72bc" stroke-width="1.75"/>
<path d="M405.00,34.10 A35.2,35.2 0 0 1 409.90,34.44" fill="none" stroke="#6a2a8a" stroke-width="1.75"/>
<path d="M411.61,38.19 A31.8,31.8 0 0 1 417.93,40.25" fill="none" stroke="#5cbca4" stroke-width="1.6" stroke-dasharray="2.6,0.7"/>
<path d="M409.90,34.44 A35.2,35.2 0 0 1 420.98,37.94" fill="none" stroke="#6a2a8a" stroke-width="1.6" stroke-dasharray="2.6,0.7"/>
<text x="253.1" y="116.2" font-size="7.4" text-anchor="middle" fill="#222" stroke="#222" stroke-width="0.18">Control</text>
<text x="329.0" y="116.2" font-size="7.4" text-anchor="middle" fill="#222" stroke="#222" stroke-width="0.18">GFP+</text>
<text x="407.3" y="116.2" font-size="7.4" text-anchor="middle" fill="#222" stroke="#222" stroke-width="0.18">GFP−</text>
<text x="448.2" y="34.2" font-size="7.0" text-anchor="start" fill="#222" textLength="34" lengthAdjust="spacingAndGlyphs" stroke="#222" stroke-width="0.18">Arc Legend</text>
<line x1="450.6" y1="39.9" x2="458.0" y2="39.9" stroke="#c4262a" stroke-width="2.1"/>
<text x="459" y="42.5" font-size="7.5" text-anchor="start" fill="#222" stroke="#222" stroke-width="0.18">CD4 +</text>
<line x1="450.6" y1="46.199999999999996" x2="458.0" y2="46.199999999999996" stroke="#dea044" stroke-width="2.1"/>
<text x="459" y="48.8" font-size="7.5" text-anchor="start" fill="#222" stroke="#222" stroke-width="0.18">CD11c +</text>
<line x1="450.6" y1="52.5" x2="458.0" y2="52.5" stroke="#3a9535" stroke-width="2.1"/>
<text x="459" y="55.1" font-size="7.5" text-anchor="start" fill="#222" stroke="#222" stroke-width="0.18">CD14 +</text>
<line x1="450.6" y1="58.8" x2="458.0" y2="58.8" stroke="#5cbca4" stroke-width="2.1"/>
<text x="459" y="61.4" font-size="7.5" text-anchor="start" fill="#222" stroke="#222" stroke-width="0.18">CD68 +</text>
<line x1="450.6" y1="65.1" x2="458.0" y2="65.1" stroke="#2a72bc" stroke-width="2.1"/>
<text x="459" y="67.69999999999999" font-size="7.5" text-anchor="start" fill="#222" stroke="#222" stroke-width="0.18">CD163 +</text>
<line x1="450.6" y1="71.4" x2="458.0" y2="71.4" stroke="#8a2a7e" stroke-width="2.1"/>
<text x="459" y="74.0" font-size="7.5" text-anchor="start" fill="#222" stroke="#222" stroke-width="0.18">CD169 +</text>
<text x="102" y="181.9" font-size="7.3" text-anchor="start" fill="#222" textLength="52.4" lengthAdjust="spacingAndGlyphs" stroke="#222" stroke-width="0.18">ITGAM - CD11b</text>
<text x="225.8" y="181.9" font-size="7.3" text-anchor="start" fill="#222" textLength="51.5" lengthAdjust="spacingAndGlyphs" stroke="#222" stroke-width="0.18">ITGAX - CD11c</text>
<line x1="24.5" y1="186.1" x2="82" y2="186.1" stroke="#5a78a8" stroke-width="0.6"/>
<line x1="26.5" y1="186.1" x2="82" y2="186.1" stroke="#1f3f7a" stroke-width="1.5" stroke-dasharray="0.6,4.6" stroke-opacity="0.55"/>
<rect x="48.0" y="185.00" width="1.2" height="2.2" fill="#1f3f7a"/>
<rect x="50.5" y="185.00" width="1.2" height="2.2" fill="#1f3f7a"/>
<rect x="59.0" y="185.00" width="2.2" height="2.2" fill="#1f3f7a"/>
<rect x="69.5" y="185.00" width="1.0" height="2.2" fill="#1f3f7a"/>
<rect x="73.0" y="185.00" width="1.0" height="2.2" fill="#1f3f7a"/>
<rect x="75.8" y="185.00" width="1.0" height="2.2" fill="#1f3f7a"/>
<rect x="79.2" y="185.00" width="1.0" height="2.2" fill="#1f3f7a"/>
<rect x="80.8" y="185.00" width="1.0" height="2.2" fill="#1f3f7a"/>
<line x1="82" y1="186.1" x2="164" y2="186.1" stroke="#8aa0c0" stroke-width="0.5"/>
<line x1="84" y1="186.1" x2="164" y2="186.1" stroke="#1f3f7a" stroke-width="1.5" stroke-dasharray="0.6,4.6" stroke-opacity="0.55"/>
<rect x="136.0" y="185.00" width="0.9" height="2.2" fill="#1f3f7a"/>
<line x1="164" y1="186.1" x2="192" y2="186.1" stroke="#5a78a8" stroke-width="0.6"/>
<line x1="166" y1="186.1" x2="192" y2="186.1" stroke="#1f3f7a" stroke-width="1.5" stroke-dasharray="0.6,4.6" stroke-opacity="0.55"/>
<rect x="165.5" y="185.00" width="1.0" height="2.2" fill="#1f3f7a"/>
<rect x="169.5" y="185.00" width="1.0" height="2.2" fill="#1f3f7a"/>
<rect x="172.5" y="185.00" width="2.2" height="2.2" fill="#1f3f7a"/>
<rect x="176.5" y="185.00" width="1.0" height="2.2" fill="#1f3f7a"/>
<rect x="179.5" y="185.00" width="1.0" height="2.2" fill="#1f3f7a"/>
<rect x="183.0" y="185.00" width="1.5" height="2.2" fill="#1f3f7a"/>
<rect x="187.0" y="185.00" width="1.0" height="2.2" fill="#1f3f7a"/>
<rect x="190.0" y="185.00" width="1.2" height="2.2" fill="#1f3f7a"/>
<line x1="221.5" y1="186.2" x2="274" y2="186.2" stroke="#5a78a8" stroke-width="0.6"/>
<line x1="223.5" y1="186.2" x2="274" y2="186.2" stroke="#1f3f7a" stroke-width="1.5" stroke-dasharray="0.6,4.6" stroke-opacity="0.55"/>
<rect x="222.0" y="185.10" width="0.9" height="2.2" fill="#1f3f7a"/>
<rect x="224.8" y="185.10" width="1.2" height="2.2" fill="#1f3f7a"/>
<rect x="230.6" y="185.10" width="0.9" height="2.2" fill="#1f3f7a"/>
<rect x="232.3" y="185.10" width="0.9" height="2.2" fill="#1f3f7a"/>
<rect x="234.5" y="185.10" width="1.2" height="2.2" fill="#1f3f7a"/>
<rect x="238.6" y="185.10" width="0.8" height="2.2" fill="#1f3f7a"/>
<rect x="241.6" y="185.10" width="0.8" height="2.2" fill="#1f3f7a"/>
<rect x="243.8" y="185.10" width="0.8" height="2.2" fill="#1f3f7a"/>
<rect x="249.0" y="185.10" width="0.9" height="2.2" fill="#1f3f7a"/>
<rect x="250.6" y="185.10" width="0.9" height="2.2" fill="#1f3f7a"/>
<rect x="253.0" y="185.10" width="0.9" height="2.2" fill="#1f3f7a"/>
<rect x="259.4" y="185.10" width="0.8" height="2.2" fill="#1f3f7a"/>
<rect x="263.4" y="185.10" width="0.8" height="2.2" fill="#1f3f7a"/>
<rect x="269.0" y="185.10" width="2.2" height="2.2" fill="#1f3f7a"/>
<rect x="272.6" y="185.10" width="0.9" height="2.2" fill="#1f3f7a"/>
<text x="164" y="192.6" font-size="4.6" text-anchor="start" fill="#333" textLength="28" lengthAdjust="spacingAndGlyphs">LOC713758</text>
<polygon points="13.0,199.20 13.0,199.20 13.4,199.20 13.8,199.20 14.2,199.20 14.6,199.20 15.0,199.20 15.4,199.20 15.8,199.20 16.2,199.20 16.6,199.20 17.0,199.20 17.4,199.20 17.8,199.20 18.2,199.17 18.6,199.01 19.0,198.60 19.4,198.22 19.8,198.37 20.2,198.83 20.6,199.12 21.0,199.19 21.4,199.20 21.8,199.20 22.2,199.20 22.6,199.20 23.0,199.00 23.4,197.02 23.8,194.40 24.2,197.02 24.6,199.00 25.0,199.20 25.4,199.20 25.8,199.20 26.2,199.20 26.6,199.20 27.0,199.20 27.4,199.20 27.8,199.20 28.2,199.20 28.6,199.20 29.0,199.20 29.4,199.20 29.8,199.20 30.2,199.20 30.6,199.20 31.0,199.20 31.4,199.20 31.8,199.20 32.2,199.20 32.6,199.20 33.0,199.20 33.4,199.20 33.8,199.20 34.2,199.20 34.6,199.20 35.0,199.20 35.4,199.20 35.8,199.20 36.2,199.20 36.6,199.20 37.0,199.20 37.4,199.20 37.8,199.20 38.2,199.20 38.6,199.20 39.0,199.20 39.4,199.20 39.8,199.20 40.2,199.20 40.6,199.20 41.0,199.20 41.4,199.20 41.8,199.20 42.2,199.20 42.6,199.20 43.0,199.20 43.4,199.20 43.8,199.20 44.2,199.20 44.6,199.20 45.0,199.20 45.4,199.20 45.8,199.20 46.2,199.20 46.6,199.19 47.0,199.13 47.4,198.83 47.8,198.07 48.2,197.05 48.6,196.67 49.0,197.21 49.4,197.88 49.8,198.13 50.2,198.17 50.6,198.30 51.0,198.56 51.4,198.83 51.8,199.03 52.2,199.14 52.6,199.18 53.0,199.20 53.4,199.20 53.8,199.20 54.2,199.20 54.6,199.20 55.0,199.20 55.4,199.20 55.8,199.20 56.2,199.20 56.6,199.20 57.0,199.20 57.4,199.20 57.8,199.20 58.2,199.19 58.6,199.08 59.0,198.75 59.4,198.50 59.8,198.75 60.2,199.08 60.6,199.19 61.0,199.20 61.4,199.20 61.8,199.20 62.2,199.20 62.6,199.20 63.0,199.20 63.4,199.20 63.8,199.20 64.2,199.20 64.6,199.20 65.0,199.20 65.4,199.20 65.8,199.20 66.2,199.20 66.6,199.20 67.0,199.20 67.4,199.20 67.8,199.20 68.2,199.20 68.6,199.20 69.0,199.20 69.4,199.20 69.8,199.19 70.2,199.06 70.6,198.69 71.0,198.40 71.4,198.69 71.8,199.06 72.2,199.19 72.6,199.20 73.0,199.20 73.4,199.20 73.8,199.20 74.2,199.20 74.6,199.20 75.0,199.20 75.4,199.20 75.8,199.20 76.2,199.20 76.6,199.20 77.0,199.20 77.4,199.20 77.8,199.20 78.2,199.20 78.6,199.20 79.0,199.20 79.4,199.20 79.8,199.20 80.2,199.20 80.6,199.20 81.0,199.20 81.4,199.20 81.8,199.20 82.2,199.20 82.6,199.20 83.0,199.20 83.4,199.20 83.8,199.20 84.2,199.20 84.6,199.20 85.0,199.20 85.4,199.20 85.8,199.20 86.2,199.20 86.6,199.20 87.0,199.20 87.4,199.20 87.8,199.20 88.2,199.20 88.6,199.20 89.0,199.20 89.4,199.20 89.8,199.20 90.2,199.20 90.6,199.20 91.0,199.20 91.4,199.20 91.8,199.20 92.2,199.20 92.6,199.20 93.0,199.20 93.4,199.20 93.8,199.20 94.2,199.20 94.6,199.20 95.0,199.20 95.4,199.20 95.8,199.20 96.2,199.20 96.6,199.20 97.0,199.20 97.4,199.20 97.8,199.20 98.2,199.20 98.6,199.20 99.0,199.20 99.4,199.20 99.8,199.20 100.2,199.20 100.6,199.20 101.0,199.20 101.4,199.20 101.8,199.20 102.2,199.20 102.6,199.20 103.0,199.20 103.4,199.20 103.8,199.20 104.2,199.20 104.6,199.20 105.0,199.20 105.4,199.20 105.8,199.20 106.2,199.20 106.6,199.20 107.0,199.20 107.4,199.20 107.8,199.20 108.2,199.20 108.6,199.20 109.0,199.20 109.4,199.20 109.8,199.20 110.2,199.20 110.6,199.20 111.0,199.18 111.4,199.05 111.8,198.84 112.2,198.84 112.6,199.05 113.0,199.18 113.4,199.20 113.8,199.20 114.2,199.20 114.6,199.20 115.0,199.20 115.4,199.20 115.8,199.20 116.2,199.20 116.6,199.20 117.0,199.20 117.4,199.20 117.8,199.20 118.2,199.20 118.6,199.20 119.0,199.20 119.4,199.20 119.8,199.20 120.2,199.20 120.6,199.20 121.0,199.20 121.4,199.20 121.8,199.20 122.2,199.20 122.6,199.20 123.0,199.20 123.4,199.20 123.8,199.20 124.2,199.20 124.6,199.20 125.0,199.20 125.4,199.20 125.8,199.20 126.2,199.20 126.6,199.20 127.0,199.20 127.4,199.20 127.8,199.20 128.2,199.20 128.6,199.20 129.0,199.20 129.4,199.20 129.8,199.20 130.2,199.20 130.6,199.20 131.0,199.20 131.4,199.20 131.8,199.20 132.2,199.20 132.6,199.20 133.0,199.20 133.4,199.20 133.8,199.20 134.2,199.20 134.6,199.20 135.0,199.20 135.4,199.20 135.8,199.20 136.2,199.20 136.6,199.20 137.0,199.20 137.4,199.20 137.8,199.20 138.2,199.20 138.6,199.20 139.0,199.20 139.4,199.20 139.8,199.20 140.2,199.20 140.6,199.20 141.0,199.20 141.4,199.20 141.8,199.20 142.2,199.20 142.6,199.20 143.0,199.20 143.4,199.19 143.8,199.10 144.2,198.89 144.6,198.81 145.0,199.00 145.4,199.16 145.8,199.20 146.2,199.20 146.6,199.20 147.0,199.20 147.4,199.20 147.8,199.20 148.2,199.20 148.6,199.20 149.0,199.20 149.4,199.20 149.8,199.20 150.2,199.20 150.6,199.20 151.0,199.20 151.4,199.20 151.8,199.20 152.2,199.20 152.6,199.20 153.0,199.20 153.4,199.20 153.8,199.20 154.2,199.20 154.6,199.20 155.0,199.20 155.4,199.20 155.8,199.20 156.2,199.20 156.6,199.20 157.0,199.20 157.4,199.20 157.8,199.20 158.2,199.20 158.6,199.20 159.0,199.20 159.4,199.20 159.8,199.20 160.2,199.20 160.6,199.20 161.0,199.20 161.4,199.20 161.8,199.20 162.2,199.20 162.6,199.20 163.0,199.20 163.4,199.20 163.8,199.20 164.2,199.20 164.6,199.20 165.0,199.20 165.4,199.20 165.8,199.20 166.2,199.20 166.6,199.20 167.0,199.20 167.4,199.20 167.8,199.20 168.2,199.20 168.6,199.20 169.0,199.20 169.4,199.20 169.8,199.20 170.2,199.20 170.6,199.20 171.0,199.20 171.4,199.20 171.8,199.20 172.2,199.20 172.6,199.20 173.0,199.20 173.4,199.20 173.8,199.20 174.2,199.20 174.6,199.20 175.0,199.20 175.4,199.20 175.8,199.20 176.2,199.20 176.6,199.20 177.0,199.20 177.4,199.20 177.8,199.20 178.2,199.20 178.6,199.20 179.0,199.20 179.4,199.20 179.8,199.20 180.2,199.20 180.6,199.20 181.0,199.20 181.4,199.20 181.8,199.20 182.2,199.20 182.6,199.20 183.0,199.20 183.4,199.20 183.8,199.20 184.2,199.20 184.6,199.20 185.0,199.20 185.4,199.20 185.8,199.20 186.2,199.20 186.6,199.20 187.0,199.20 187.4,199.20 187.8,199.20 188.2,199.20 188.6,199.20 189.0,199.20 189.4,199.20 189.8,199.20 190.2,199.20 190.6,199.20 191.0,199.20 191.4,199.20 191.8,199.19 192.2,199.13 192.6,198.94 193.0,198.80 193.4,198.94 193.8,199.13 194.2,199.19 194.6,199.20 195.0,199.20 195.4,199.20 195.8,199.20 196.2,199.20 196.6,199.20 197.0,199.20 197.4,199.20 197.8,199.20 198.2,199.20 198.6,199.16 199.0,198.98 199.4,198.66 199.8,198.66 200.2,198.98 200.6,199.16 201.0,199.20 201.4,199.20 201.8,199.20 202.2,199.20 202.6,199.20 203.0,199.20 203.4,199.20 203.8,199.20 204.2,199.20 204.6,199.20 205.0,199.20 205.4,199.20 205.8,199.20 206.2,199.20 206.6,199.20 207.0,199.20 207.4,199.20 207.8,199.20 208.2,199.20 208.6,199.20 209.0,199.20 209.4,199.20 209.8,199.20 210.2,199.20 210.6,199.20 211.0,199.20 211.4,199.20 211.8,199.20 212.2,199.20 212.6,199.19 213.0,199.05 213.4,198.15 213.8,197.20 214.2,198.15 214.6,199.05 215.0,199.19 215.4,199.14 215.8,198.37 216.2,196.22 216.6,196.22 217.0,198.37 217.4,199.14 217.8,199.20 218.2,199.10 218.6,198.24 219.0,196.70 219.4,197.39 219.8,198.83 220.2,199.18 220.6,199.20 221.0,199.19 221.4,198.95 221.8,197.58 222.2,195.62 222.6,196.45 223.0,198.47 223.4,199.13 223.8,199.15 224.2,198.58 224.6,196.98 225.0,196.98 225.4,198.58 225.8,199.15 226.2,199.20 226.6,199.20 227.0,199.20 227.4,199.19 227.8,199.06 228.2,198.25 228.6,197.40 229.0,198.25 229.4,199.06 229.8,199.19 230.2,199.20 230.6,199.19 231.0,199.03 231.4,198.60 231.8,198.60 232.2,199.03 232.6,199.19 233.0,199.20 233.4,199.20 233.8,199.20 234.2,199.20 234.6,199.13 235.0,198.73 235.4,198.30 235.8,198.73 236.2,199.13 236.6,199.20 237.0,199.20 237.4,199.20 237.8,199.20 238.2,199.20 238.6,199.20 239.0,199.20 239.4,199.15 239.8,198.68 240.2,197.85 240.6,198.22 241.0,199.00 241.4,199.19 241.8,199.20 242.2,199.20 242.6,199.20 243.0,199.20 243.4,199.20 243.8,199.20 244.2,199.20 244.6,199.16 245.0,198.83 245.4,198.24 245.8,198.50 246.2,199.06 246.6,199.19 247.0,199.20 247.4,199.20 247.8,199.20 248.2,199.20 248.6,199.20 249.0,199.20 249.4,199.20 249.8,199.20 250.2,199.20 250.6,199.20 251.0,199.20 251.4,199.20 251.8,199.20 252.2,199.20 252.6,199.20 253.0,199.20 253.4,199.20 253.8,199.20 254.2,199.20 254.6,199.20 255.0,199.20 255.4,199.20 255.8,199.20 256.2,199.20 256.6,199.20 257.0,199.20 257.4,199.20 257.8,199.20 258.2,199.20 258.6,199.20 259.0,199.20 259.4,199.20 259.8,199.20 260.2,199.20 260.6,199.20 261.0,199.20 261.4,199.20 261.8,199.20 262.2,199.20 262.6,199.20 263.0,199.20 263.4,199.20 263.8,199.20 264.2,199.20 264.6,199.20 265.0,199.20 265.4,199.20 265.8,199.20 266.2,199.20 266.6,199.20 267.0,199.20 267.4,199.20 267.8,199.20 268.2,199.20 268.6,199.20 269.0,199.20 269.4,199.20 269.8,199.20 270.2,199.20 270.6,199.20 271.0,199.20 271.4,199.20 271.8,199.20 272.2,199.20 272.6,199.20 273.0,199.20 273.4,199.20 273.8,199.20 274.2,199.20 274.6,199.20 275.0,199.20 275.4,199.20 275.8,199.20 276.2,199.20 276.6,199.20" fill="#c8283c"/>
<line x1="13" y1="199.2" x2="276.6" y2="199.2" stroke="#c8283c" stroke-width="0.6" stroke-opacity="1.0"/>
<polygon points="13.0,207.10 13.0,207.10 13.4,207.10 13.8,207.10 14.2,207.10 14.6,207.10 15.0,207.10 15.4,207.10 15.8,207.10 16.2,207.10 16.6,207.10 17.0,207.10 17.4,207.10 17.8,207.10 18.2,207.07 18.6,206.89 19.0,206.44 19.4,206.02 19.8,206.18 20.2,206.70 20.6,207.01 21.0,207.09 21.4,207.10 21.8,207.10 22.2,207.10 22.6,207.10 23.0,206.88 23.4,204.70 23.8,201.82 24.2,204.70 24.6,206.88 25.0,207.10 25.4,207.10 25.8,207.10 26.2,207.10 26.6,207.10 27.0,207.10 27.4,207.10 27.8,207.10 28.2,207.10 28.6,207.10 29.0,207.10 29.4,207.10 29.8,207.10 30.2,207.10 30.6,207.10 31.0,207.10 31.4,207.10 31.8,207.10 32.2,207.10 32.6,207.10 33.0,207.10 33.4,207.10 33.8,207.10 34.2,207.10 34.6,207.10 35.0,207.10 35.4,207.10 35.8,207.10 36.2,207.10 36.6,207.10 37.0,207.10 37.4,207.10 37.8,207.10 38.2,207.10 38.6,207.10 39.0,207.10 39.4,207.10 39.8,207.10 40.2,207.10 40.6,207.10 41.0,207.10 41.4,207.10 41.8,207.10 42.2,207.10 42.6,207.10 43.0,207.10 43.4,207.10 43.8,207.10 44.2,207.10 44.6,207.10 45.0,207.10 45.4,207.10 45.8,207.10 46.2,207.10 46.6,207.09 47.0,207.02 47.4,206.70 47.8,205.85 48.2,204.74 48.6,204.32 49.0,204.91 49.4,205.65 49.8,205.93 50.2,205.97 50.6,206.11 51.0,206.39 51.4,206.70 51.8,206.91 52.2,207.03 52.6,207.08 53.0,207.10 53.4,207.10 53.8,207.10 54.2,207.10 54.6,207.10 55.0,207.10 55.4,207.10 55.8,207.10 56.2,207.10 56.6,207.10 57.0,207.10 57.4,207.10 57.8,207.10 58.2,207.09 58.6,206.97 59.0,206.61 59.4,206.33 59.8,206.61 60.2,206.97 60.6,207.09 61.0,207.10 61.4,207.10 61.8,207.10 62.2,207.10 62.6,207.10 63.0,207.10 63.4,207.10 63.8,207.10 64.2,207.10 64.6,207.10 65.0,207.10 65.4,207.10 65.8,207.10 66.2,207.10 66.6,207.10 67.0,207.10 67.4,207.10 67.8,207.10 68.2,207.10 68.6,207.10 69.0,207.10 69.4,207.10 69.8,207.08 70.2,206.95 70.6,206.54 71.0,206.22 71.4,206.54 71.8,206.95 72.2,207.08 72.6,207.10 73.0,207.10 73.4,207.10 73.8,207.10 74.2,207.10 74.6,207.10 75.0,207.10 75.4,207.10 75.8,207.10 76.2,207.10 76.6,207.10 77.0,207.10 77.4,207.10 77.8,207.10 78.2,207.10 78.6,207.10 79.0,207.10 79.4,207.10 79.8,207.10 80.2,207.10 80.6,207.10 81.0,207.10 81.4,207.10 81.8,207.10 82.2,207.10 82.6,207.10 83.0,207.10 83.4,207.10 83.8,207.10 84.2,207.10 84.6,207.10 85.0,207.10 85.4,207.10 85.8,207.10 86.2,207.10 86.6,207.10 87.0,207.10 87.4,207.10 87.8,207.10 88.2,207.10 88.6,207.10 89.0,207.10 89.4,207.10 89.8,207.10 90.2,207.10 90.6,207.10 91.0,207.10 91.4,207.10 91.8,207.10 92.2,207.10 92.6,207.10 93.0,207.10 93.4,207.10 93.8,207.10 94.2,207.10 94.6,207.10 95.0,207.10 95.4,207.10 95.8,207.10 96.2,207.10 96.6,207.10 97.0,207.10 97.4,207.10 97.8,207.10 98.2,207.10 98.6,207.10 99.0,207.10 99.4,207.10 99.8,207.10 100.2,207.10 100.6,207.10 101.0,207.10 101.4,207.10 101.8,207.10 102.2,207.10 102.6,207.10 103.0,207.10 103.4,207.10 103.8,207.10 104.2,207.10 104.6,207.10 105.0,207.10 105.4,207.10 105.8,207.10 106.2,207.10 106.6,207.10 107.0,207.10 107.4,207.10 107.8,207.10 108.2,207.10 108.6,207.10 109.0,207.10 109.4,207.10 109.8,207.10 110.2,207.10 110.6,207.10 111.0,207.07 111.4,206.94 111.8,206.71 112.2,206.71 112.6,206.94 113.0,207.07 113.4,207.10 113.8,207.10 114.2,207.10 114.6,207.10 115.0,207.10 115.4,207.10 115.8,207.10 116.2,207.10 116.6,207.10 117.0,207.10 117.4,207.10 117.8,207.10 118.2,207.10 118.6,207.10 119.0,207.10 119.4,207.10 119.8,207.10 120.2,207.10 120.6,207.10 121.0,207.10 121.4,207.10 121.8,207.10 122.2,207.10 122.6,207.10 123.0,207.10 123.4,207.10 123.8,207.10 124.2,207.10 124.6,207.10 125.0,207.10 125.4,207.10 125.8,207.10 126.2,207.10 126.6,207.10 127.0,207.10 127.4,207.10 127.8,207.10 128.2,207.10 128.6,207.10 129.0,207.10 129.4,207.10 129.8,207.10 130.2,207.10 130.6,207.10 131.0,207.10 131.4,207.10 131.8,207.10 132.2,207.10 132.6,207.10 133.0,207.10 133.4,207.10 133.8,207.10 134.2,207.10 134.6,207.10 135.0,207.10 135.4,207.10 135.8,207.10 136.2,207.10 136.6,207.10 137.0,207.10 137.4,207.10 137.8,207.10 138.2,207.10 138.6,207.10 139.0,207.10 139.4,207.10 139.8,207.10 140.2,207.10 140.6,207.10 141.0,207.10 141.4,207.10 141.8,207.10 142.2,207.10 142.6,207.10 143.0,207.10 143.4,207.08 143.8,206.99 144.2,206.76 144.6,206.67 145.0,206.88 145.4,207.05 145.8,207.10 146.2,207.10 146.6,207.10 147.0,207.10 147.4,207.10 147.8,207.10 148.2,207.10 148.6,207.10 149.0,207.10 149.4,207.10 149.8,207.10 150.2,207.10 150.6,207.10 151.0,207.10 151.4,207.10 151.8,207.10 152.2,207.10 152.6,207.10 153.0,207.10 153.4,207.10 153.8,207.10 154.2,207.10 154.6,207.10 155.0,207.10 155.4,207.10 155.8,207.10 156.2,207.10 156.6,207.10 157.0,207.10 157.4,207.10 157.8,207.10 158.2,207.10 158.6,207.10 159.0,207.10 159.4,207.10 159.8,207.10 160.2,207.10 160.6,207.10 161.0,207.10 161.4,207.10 161.8,207.10 162.2,207.10 162.6,207.10 163.0,207.10 163.4,207.10 163.8,207.10 164.2,207.10 164.6,207.10 165.0,207.10 165.4,207.10 165.8,207.10 166.2,207.10 166.6,207.10 167.0,207.10 167.4,207.10 167.8,207.10 168.2,207.10 168.6,207.10 169.0,207.10 169.4,207.10 169.8,207.10 170.2,207.10 170.6,207.10 171.0,207.10 171.4,207.10 171.8,207.10 172.2,207.10 172.6,207.10 173.0,207.10 173.4,207.10 173.8,207.10 174.2,207.10 174.6,207.10 175.0,207.10 175.4,207.10 175.8,207.10 176.2,207.10 176.6,207.10 177.0,207.10 177.4,207.10 177.8,207.10 178.2,207.10 178.6,207.10 179.0,207.10 179.4,207.10 179.8,207.10 180.2,207.10 180.6,207.10 181.0,207.10 181.4,207.10 181.8,207.10 182.2,207.10 182.6,207.10 183.0,207.10 183.4,207.10 183.8,207.10 184.2,207.10 184.6,207.10 185.0,207.10 185.4,207.10 185.8,207.10 186.2,207.10 186.6,207.10 187.0,207.10 187.4,207.10 187.8,207.10 188.2,207.10 188.6,207.10 189.0,207.10 189.4,207.10 189.8,207.10 190.2,207.10 190.6,207.10 191.0,207.10 191.4,207.10 191.8,207.09 192.2,207.03 192.6,206.82 193.0,206.66 193.4,206.82 193.8,207.03 194.2,207.09 194.6,207.10 195.0,207.10 195.4,207.10 195.8,207.10 196.2,207.10 196.6,207.10 197.0,207.10 197.4,207.10 197.8,207.10 198.2,207.10 198.6,207.06 199.0,206.86 199.4,206.51 199.8,206.51 200.2,206.86 200.6,207.06 201.0,207.10 201.4,207.10 201.8,207.10 202.2,207.10 202.6,207.10 203.0,207.10 203.4,207.10 203.8,207.10 204.2,207.10 204.6,207.10 205.0,207.10 205.4,207.10 205.8,207.10 206.2,207.10 206.6,207.10 207.0,207.10 207.4,207.10 207.8,207.10 208.2,207.10 208.6,207.10 209.0,207.10 209.4,207.10 209.8,207.10 210.2,207.10 210.6,207.10 211.0,207.10 211.4,207.10 211.8,207.10 212.2,207.10 212.6,207.09 213.0,206.88 213.4,205.57 213.8,204.20 214.2,205.57 214.6,206.88 215.0,207.09 215.4,207.01 215.8,205.90 216.2,202.78 216.6,202.78 217.0,205.90 217.4,207.01 217.8,207.09 218.2,206.95 218.6,205.71 219.0,203.48 219.4,204.47 219.8,206.57 220.2,207.07 220.6,207.10 221.0,207.08 221.4,206.73 221.8,204.75 222.2,201.91 222.6,203.12 223.0,206.04 223.4,207.00 223.8,207.03 224.2,206.21 224.6,203.89 225.0,203.89 225.4,206.21 225.8,207.03 226.2,207.10 226.6,207.10 227.0,207.10 227.4,207.09 227.8,206.90 228.2,205.72 228.6,204.49 229.0,205.72 229.4,206.90 229.8,207.09 230.2,207.10 230.6,207.08 231.0,206.86 231.4,206.24 231.8,206.24 232.2,206.86 232.6,207.08 233.0,207.10 233.4,207.10 233.8,207.10 234.2,207.10 234.6,207.00 235.0,206.41 235.4,205.79 235.8,206.41 236.2,207.00 236.6,207.10 237.0,207.10 237.4,207.10 237.8,207.10 238.2,207.10 238.6,207.10 239.0,207.10 239.4,207.02 239.8,206.35 240.2,205.15 240.6,205.68 241.0,206.81 241.4,207.08 241.8,207.10 242.2,207.10 242.6,207.10 243.0,207.10 243.4,207.10 243.8,207.10 244.2,207.10 244.6,207.04 245.0,206.57 245.4,205.71 245.8,206.09 246.2,206.90 246.6,207.09 247.0,207.10 247.4,207.10 247.8,207.10 248.2,207.10 248.6,207.10 249.0,207.10 249.4,207.10 249.8,207.10 250.2,207.10 250.6,207.10 251.0,207.10 251.4,207.10 251.8,207.10 252.2,207.10 252.6,207.10 253.0,207.10 253.4,207.10 253.8,207.10 254.2,207.10 254.6,207.10 255.0,207.10 255.4,207.10 255.8,207.10 256.2,207.10 256.6,207.10 257.0,207.10 257.4,207.10 257.8,207.10 258.2,207.10 258.6,207.10 259.0,207.10 259.4,207.10 259.8,207.10 260.2,207.10 260.6,207.10 261.0,207.10 261.4,207.10 261.8,207.10 262.2,207.10 262.6,207.10 263.0,207.10 263.4,207.10 263.8,207.10 264.2,207.10 264.6,207.10 265.0,207.10 265.4,207.10 265.8,207.10 266.2,207.10 266.6,207.10 267.0,207.10 267.4,207.10 267.8,207.10 268.2,207.10 268.6,207.10 269.0,207.10 269.4,207.10 269.8,207.10 270.2,207.10 270.6,207.10 271.0,207.10 271.4,207.10 271.8,207.10 272.2,207.10 272.6,207.10 273.0,207.10 273.4,207.10 273.8,207.10 274.2,207.10 274.6,207.10 275.0,207.10 275.4,207.10 275.8,207.10 276.2,207.10 276.6,207.10" fill="#1f4a86"/>
<line x1="13" y1="207.1" x2="276.6" y2="207.1" stroke="#1f4a86" stroke-width="0.6" stroke-opacity="1.0"/>
<polygon points="13.0,214.80 13.0,214.80 13.4,214.80 13.8,214.80 14.2,214.80 14.6,214.80 15.0,214.80 15.4,214.80 15.8,214.80 16.2,214.80 16.6,214.80 17.0,214.80 17.4,214.80 17.8,214.80 18.2,214.77 18.6,214.59 19.0,214.14 19.4,213.72 19.8,213.88 20.2,214.40 20.6,214.71 21.0,214.79 21.4,214.80 21.8,214.80 22.2,214.80 22.6,214.80 23.0,214.58 23.4,212.40 23.8,209.52 24.2,212.40 24.6,214.58 25.0,214.80 25.4,214.80 25.8,214.80 26.2,214.80 26.6,214.80 27.0,214.80 27.4,214.80 27.8,214.80 28.2,214.80 28.6,214.80 29.0,214.80 29.4,214.80 29.8,214.80 30.2,214.80 30.6,214.80 31.0,214.80 31.4,214.80 31.8,214.80 32.2,214.80 32.6,214.80 33.0,214.80 33.4,214.80 33.8,214.80 34.2,214.80 34.6,214.80 35.0,214.80 35.4,214.80 35.8,214.80 36.2,214.80 36.6,214.80 37.0,214.80 37.4,214.80 37.8,214.80 38.2,214.80 38.6,214.80 39.0,214.80 39.4,214.80 39.8,214.80 40.2,214.80 40.6,214.80 41.0,214.80 41.4,214.80 41.8,214.80 42.2,214.80 42.6,214.80 43.0,214.80 43.4,214.80 43.8,214.80 44.2,214.80 44.6,214.80 45.0,214.80 45.4,214.80 45.8,214.80 46.2,214.80 46.6,214.79 47.0,214.72 47.4,214.40 47.8,213.55 48.2,212.44 48.6,212.02 49.0,212.61 49.4,213.35 49.8,213.63 50.2,213.67 50.6,213.81 51.0,214.09 51.4,214.40 51.8,214.61 52.2,214.73 52.6,214.78 53.0,214.80 53.4,214.80 53.8,214.80 54.2,214.80 54.6,214.80 55.0,214.80 55.4,214.80 55.8,214.80 56.2,214.80 56.6,214.80 57.0,214.80 57.4,214.80 57.8,214.80 58.2,214.79 58.6,214.67 59.0,214.31 59.4,214.03 59.8,214.31 60.2,214.67 60.6,214.79 61.0,214.80 61.4,214.80 61.8,214.80 62.2,214.80 62.6,214.80 63.0,214.80 63.4,214.80 63.8,214.80 64.2,214.80 64.6,214.80 65.0,214.80 65.4,214.80 65.8,214.80 66.2,214.80 66.6,214.80 67.0,214.80 67.4,214.80 67.8,214.80 68.2,214.80 68.6,214.80 69.0,214.80 69.4,214.80 69.8,214.78 70.2,214.65 70.6,214.24 71.0,213.92 71.4,214.24 71.8,214.65 72.2,214.78 72.6,214.80 73.0,214.80 73.4,214.80 73.8,214.80 74.2,214.80 74.6,214.80 75.0,214.80 75.4,214.80 75.8,214.80 76.2,214.80 76.6,214.80 77.0,214.80 77.4,214.80 77.8,214.80 78.2,214.80 78.6,214.80 79.0,214.80 79.4,214.80 79.8,214.80 80.2,214.80 80.6,214.80 81.0,214.80 81.4,214.80 81.8,214.80 82.2,214.80 82.6,214.80 83.0,214.80 83.4,214.80 83.8,214.80 84.2,214.80 84.6,214.80 85.0,214.80 85.4,214.80 85.8,214.80 86.2,214.80 86.6,214.80 87.0,214.80 87.4,214.80 87.8,214.80 88.2,214.80 88.6,214.80 89.0,214.80 89.4,214.80 89.8,214.80 90.2,214.80 90.6,214.80 91.0,214.80 91.4,214.80 91.8,214.80 92.2,214.80 92.6,214.80 93.0,214.80 93.4,214.80 93.8,214.80 94.2,214.80 94.6,214.80 95.0,214.80 95.4,214.80 95.8,214.80 96.2,214.80 96.6,214.80 97.0,214.80 97.4,214.80 97.8,214.80 98.2,214.80 98.6,214.80 99.0,214.80 99.4,214.80 99.8,214.80 100.2,214.80 100.6,214.80 101.0,214.80 101.4,214.80 101.8,214.80 102.2,214.80 102.6,214.80 103.0,214.80 103.4,214.80 103.8,214.80 104.2,214.80 104.6,214.80 105.0,214.80 105.4,214.80 105.8,214.80 106.2,214.80 106.6,214.80 107.0,214.80 107.4,214.80 107.8,214.80 108.2,214.80 108.6,214.80 109.0,214.80 109.4,214.80 109.8,214.80 110.2,214.80 110.6,214.80 111.0,214.77 111.4,214.64 111.8,214.41 112.2,214.41 112.6,214.64 113.0,214.77 113.4,214.80 113.8,214.80 114.2,214.80 114.6,214.80 115.0,214.80 115.4,214.80 115.8,214.80 116.2,214.80 116.6,214.80 117.0,214.80 117.4,214.80 117.8,214.80 118.2,214.80 118.6,214.80 119.0,214.80 119.4,214.80 119.8,214.80 120.2,214.80 120.6,214.80 121.0,214.80 121.4,214.80 121.8,214.80 122.2,214.80 122.6,214.80 123.0,214.80 123.4,214.80 123.8,214.80 124.2,214.80 124.6,214.80 125.0,214.80 125.4,214.80 125.8,214.80 126.2,214.80 126.6,214.80 127.0,214.80 127.4,214.80 127.8,214.80 128.2,214.80 128.6,214.80 129.0,214.80 129.4,214.80 129.8,214.80 130.2,214.80 130.6,214.80 131.0,214.80 131.4,214.80 131.8,214.80 132.2,214.80 132.6,214.80 133.0,214.80 133.4,214.80 133.8,214.80 134.2,214.80 134.6,214.80 135.0,214.80 135.4,214.80 135.8,214.80 136.2,214.80 136.6,214.80 137.0,214.80 137.4,214.80 137.8,214.80 138.2,214.80 138.6,214.80 139.0,214.80 139.4,214.80 139.8,214.80 140.2,214.80 140.6,214.80 141.0,214.80 141.4,214.80 141.8,214.80 142.2,214.80 142.6,214.80 143.0,214.80 143.4,214.78 143.8,214.69 144.2,214.46 144.6,214.37 145.0,214.58 145.4,214.75 145.8,214.80 146.2,214.80 146.6,214.80 147.0,214.80 147.4,214.80 147.8,214.80 148.2,214.80 148.6,214.80 149.0,214.80 149.4,214.80 149.8,214.80 150.2,214.80 150.6,214.80 151.0,214.80 151.4,214.80 151.8,214.80 152.2,214.80 152.6,214.80 153.0,214.80 153.4,214.80 153.8,214.80 154.2,214.80 154.6,214.80 155.0,214.80 155.4,214.80 155.8,214.80 156.2,214.80 156.6,214.80 157.0,214.80 157.4,214.80 157.8,214.80 158.2,214.80 158.6,214.80 159.0,214.80 159.4,214.80 159.8,214.80 160.2,214.80 160.6,214.80 161.0,214.80 161.4,214.80 161.8,214.80 162.2,214.80 162.6,214.80 163.0,214.80 163.4,214.80 163.8,214.80 164.2,214.80 164.6,214.80 165.0,214.80 165.4,214.80 165.8,214.80 166.2,214.80 166.6,214.80 167.0,214.80 167.4,214.80 167.8,214.80 168.2,214.80 168.6,214.80 169.0,214.80 169.4,214.80 169.8,214.80 170.2,214.80 170.6,214.80 171.0,214.80 171.4,214.80 171.8,214.80 172.2,214.80 172.6,214.80 173.0,214.80 173.4,214.80 173.8,214.80 174.2,214.80 174.6,214.80 175.0,214.80 175.4,214.80 175.8,214.80 176.2,214.80 176.6,214.80 177.0,214.80 177.4,214.80 177.8,214.80 178.2,214.80 178.6,214.80 179.0,214.80 179.4,214.80 179.8,214.80 180.2,214.80 180.6,214.80 181.0,214.80 181.4,214.80 181.8,214.80 182.2,214.80 182.6,214.80 183.0,214.80 183.4,214.80 183.8,214.80 184.2,214.80 184.6,214.80 185.0,214.80 185.4,214.80 185.8,214.80 186.2,214.80 186.6,214.80 187.0,214.80 187.4,214.80 187.8,214.80 188.2,214.80 188.6,214.80 189.0,214.80 189.4,214.80 189.8,214.80 190.2,214.80 190.6,214.80 191.0,214.80 191.4,214.80 191.8,214.79 192.2,214.73 192.6,214.52 193.0,214.36 193.4,214.52 193.8,214.73 194.2,214.79 194.6,214.80 195.0,214.80 195.4,214.80 195.8,214.80 196.2,214.80 196.6,214.80 197.0,214.80 197.4,214.80 197.8,214.80 198.2,214.80 198.6,214.76 199.0,214.56 199.4,214.21 199.8,214.21 200.2,214.56 200.6,214.76 201.0,214.80 201.4,214.80 201.8,214.80 202.2,214.80 202.6,214.80 203.0,214.80 203.4,214.80 203.8,214.80 204.2,214.80 204.6,214.80 205.0,214.80 205.4,214.80 205.8,214.80 206.2,214.80 206.6,214.80 207.0,214.80 207.4,214.80 207.8,214.80 208.2,214.80 208.6,214.80 209.0,214.80 209.4,214.80 209.8,214.80 210.2,214.80 210.6,214.80 211.0,214.80 211.4,214.80 211.8,214.80 212.2,214.80 212.6,214.79 213.0,214.58 213.4,213.32 213.8,212.00 214.2,213.32 214.6,214.58 215.0,214.79 215.4,214.71 215.8,213.64 216.2,210.62 216.6,210.62 217.0,213.64 217.4,214.71 217.8,214.79 218.2,214.66 218.6,213.46 219.0,211.30 219.4,212.26 219.8,214.29 220.2,214.77 220.6,214.80 221.0,214.78 221.4,214.44 221.8,212.53 222.2,209.79 222.6,210.95 223.0,213.77 223.4,214.70 223.8,214.73 224.2,213.94 224.6,211.70 225.0,211.70 225.4,213.94 225.8,214.73 226.2,214.80 226.6,214.80 227.0,214.80 227.4,214.79 227.8,214.61 228.2,213.47 228.6,212.28 229.0,213.47 229.4,214.61 229.8,214.79 230.2,214.80 230.6,214.78 231.0,214.57 231.4,213.96 231.8,213.96 232.2,214.57 232.6,214.78 233.0,214.80 233.4,214.80 233.8,214.80 234.2,214.80 234.6,214.70 235.0,214.14 235.4,213.54 235.8,214.14 236.2,214.70 236.6,214.80 237.0,214.80 237.4,214.80 237.8,214.80 238.2,214.80 238.6,214.80 239.0,214.80 239.4,214.72 239.8,214.08 240.2,212.92 240.6,213.43 241.0,214.52 241.4,214.78 241.8,214.80 242.2,214.80 242.6,214.80 243.0,214.80 243.4,214.80 243.8,214.80 244.2,214.80 244.6,214.75 245.0,214.28 245.4,213.45 245.8,213.82 246.2,214.60 246.6,214.79 247.0,214.80 247.4,214.80 247.8,214.80 248.2,214.80 248.6,214.80 249.0,214.80 249.4,214.80 249.8,214.80 250.2,214.80 250.6,214.80 251.0,214.80 251.4,214.80 251.8,214.80 252.2,214.80 252.6,214.80 253.0,214.80 253.4,214.80 253.8,214.80 254.2,214.80 254.6,214.80 255.0,214.80 255.4,214.80 255.8,214.80 256.2,214.80 256.6,214.80 257.0,214.80 257.4,214.80 257.8,214.80 258.2,214.80 258.6,214.80 259.0,214.80 259.4,214.80 259.8,214.80 260.2,214.80 260.6,214.80 261.0,214.80 261.4,214.80 261.8,214.80 262.2,214.80 262.6,214.80 263.0,214.80 263.4,214.80 263.8,214.80 264.2,214.80 264.6,214.80 265.0,214.80 265.4,214.80 265.8,214.80 266.2,214.80 266.6,214.80 267.0,214.80 267.4,214.80 267.8,214.80 268.2,214.80 268.6,214.80 269.0,214.80 269.4,214.80 269.8,214.80 270.2,214.80 270.6,214.80 271.0,214.80 271.4,214.80 271.8,214.80 272.2,214.80 272.6,214.80 273.0,214.80 273.4,214.80 273.8,214.80 274.2,214.80 274.6,214.80 275.0,214.80 275.4,214.80 275.8,214.80 276.2,214.80 276.6,214.80" fill="#3aa83a"/>
<line x1="13" y1="214.8" x2="276.6" y2="214.8" stroke="#3aa83a" stroke-width="0.6" stroke-opacity="1.0"/>
<text x="90.4" y="198.29999999999998" font-size="7.4" text-anchor="start" fill="#d0364c" stroke="#d0364c" stroke-width="0.18">Control</text>
<text x="90.4" y="206.0" font-size="7.4" text-anchor="start" fill="#38649e" stroke="#38649e" stroke-width="0.18">GFP−</text>
<text x="90.4" y="214.4" font-size="7.4" text-anchor="start" fill="#4cae48" stroke="#4cae48" stroke-width="0.18">GFP+</text>
<text x="11.4" y="205.5" font-size="5.0" text-anchor="middle" fill="#444" font-weight="bold" transform="rotate(-90 11.4 205.5)">[0 - 3.30]</text>
<text x="23" y="240.0" font-size="7.4" text-anchor="start" fill="#222" stroke="#222" stroke-width="0.18">EIF4A1</text>
<text x="122.8" y="239.6" font-size="7.4" text-anchor="start" fill="#222" stroke="#222" stroke-width="0.18">CD68</text>
<text x="171.6" y="240.3" font-size="5.4" text-anchor="start" fill="#333" textLength="40.4" lengthAdjust="spacingAndGlyphs">XM_028835985.1</text>
<text x="250.9" y="239.6" font-size="7.4" text-anchor="start" fill="#222" textLength="25.8" lengthAdjust="spacingAndGlyphs" stroke="#222" stroke-width="0.18">MPDU1</text>
<line x1="13" y1="244.4" x2="57.6" y2="244.4" stroke="#5a78a8" stroke-width="0.6"/>
<line x1="15" y1="244.4" x2="57.6" y2="244.4" stroke="#1f3f7a" stroke-width="1.5" stroke-dasharray="0.6,4.6" stroke-opacity="0.55"/>
<rect x="13.0" y="243.30" width="1.2" height="2.2" fill="#1f3f7a"/>
<rect x="25.6" y="243.30" width="1.7" height="2.2" fill="#1f3f7a"/>
<rect x="32.0" y="243.20" width="5.7" height="2.4" fill="#1f3f7a"/>
<rect x="37.7" y="243.65" width="19.9" height="1.5" fill="#1f3f7a"/>
<line x1="77.5" y1="244.4" x2="276" y2="244.4" stroke="#5a78a8" stroke-width="0.6"/>
<line x1="79.5" y1="244.4" x2="276" y2="244.4" stroke="#1f3f7a" stroke-width="1.5" stroke-dasharray="0.6,4.6" stroke-opacity="0.55"/>
<rect x="86.0" y="243.65" width="4.4" height="1.5" fill="#1f3f7a"/>
<rect x="90.4" y="243.20" width="20.1" height="2.4" fill="#1f3f7a"/>
<rect x="118.0" y="243.30" width="4.5" height="2.2" fill="#1f3f7a"/>
<rect x="126.5" y="243.30" width="2.0" height="2.2" fill="#1f3f7a"/>
<rect x="135.0" y="243.30" width="5.0" height="2.2" fill="#1f3f7a"/>
<rect x="153.5" y="243.20" width="4.5" height="2.4" fill="#1f3f7a"/>
<rect x="158.0" y="243.75" width="23.0" height="1.3" fill="#1f3f7a"/>
<rect x="184.6" y="243.20" width="13.2" height="2.4" fill="#1f3f7a"/>
<rect x="211.5" y="243.20" width="14.5" height="2.4" fill="#1f3f7a"/>
<rect x="239.8" y="243.60" width="9.0" height="1.6" fill="#1f3f7a"/>
<rect x="247.0" y="243.30" width="5.6" height="2.2" fill="#1f3f7a"/>
<polygon points="13.0,257.40 13.0,257.40 13.5,257.40 14.0,257.40 14.5,257.40 15.0,257.40 15.5,257.40 16.0,257.40 16.5,257.40 17.0,257.40 17.5,257.40 18.0,257.40 18.5,257.40 19.0,257.40 19.5,257.40 20.0,257.40 20.5,257.40 21.0,257.40 21.5,257.40 22.0,257.40 22.5,257.40 23.0,257.40 23.5,257.40 24.0,257.40 24.5,257.40 25.0,257.40 25.5,257.40 26.0,257.40 26.5,257.40 27.0,257.40 27.5,257.40 28.0,257.40 28.5,257.40 29.0,257.40 29.5,257.40 30.0,257.40 30.5,257.40 31.0,257.40 31.5,257.40 32.0,257.40 32.5,257.40 33.0,257.40 33.5,257.40 34.0,257.40 34.5,257.40 35.0,257.40 35.5,257.40 36.0,257.40 36.5,257.40 37.0,257.40 37.5,257.40 38.0,257.40 38.5,257.40 39.0,257.40 39.5,257.40 40.0,257.40 40.5,257.40 41.0,257.40 41.5,257.40 42.0,257.40 42.5,257.40 43.0,257.40 43.5,257.40 44.0,257.40 44.5,257.40 45.0,257.40 45.5,257.40 46.0,257.40 46.5,257.40 47.0,257.40 47.5,257.40 48.0,257.40 48.5,257.40 49.0,257.40 49.5,257.40 50.0,257.40 50.5,257.40 51.0,257.40 51.5,257.40 52.0,257.40 52.5,257.40 53.0,257.40 53.5,257.40 54.0,257.40 54.5,257.40 55.0,257.40 55.5,257.40 56.0,257.40 56.5,257.35 57.0,257.30 57.5,257.25 58.0,257.20 58.5,257.15 59.0,257.10 59.5,257.05 60.0,257.00 60.5,256.83 61.0,256.67 61.5,256.50 62.0,256.33 62.5,256.17 63.0,256.00 63.5,255.82 64.0,255.63 64.5,255.45 65.0,255.27 65.5,255.08 66.0,254.90 66.5,254.85 67.0,254.80 67.5,254.75 68.0,254.70 68.5,254.65 69.0,254.60 69.5,254.66 70.0,254.72 70.5,254.78 71.0,254.84 71.5,254.90 72.0,254.97 72.5,255.05 73.0,255.12 73.5,255.20 74.0,255.04 74.5,254.88 75.0,254.72 75.5,254.56 76.0,254.40 76.5,254.32 77.0,254.23 77.5,254.15 78.0,254.07 78.5,253.98 79.0,253.90 79.5,253.92 80.0,253.93 80.5,253.95 81.0,253.97 81.5,253.98 82.0,254.00 82.5,254.16 83.0,254.32 83.5,254.48 84.0,254.64 84.5,254.80 85.0,255.10 85.5,255.40 86.0,255.70 86.5,256.00 87.0,256.10 87.5,256.20 88.0,256.30 88.5,256.40 89.0,256.50 89.5,256.52 90.0,256.53 90.5,256.55 91.0,256.57 91.5,256.58 92.0,256.60 92.5,256.62 93.0,256.63 93.5,256.65 94.0,256.67 94.5,256.68 95.0,256.70 95.5,256.72 96.0,256.74 96.5,256.76 97.0,256.78 97.5,256.80 98.0,256.82 98.5,256.84 99.0,256.86 99.5,256.88 100.0,256.90 100.5,256.94 101.0,256.97 101.5,257.01 102.0,257.05 102.5,257.09 103.0,257.12 103.5,257.16 104.0,257.20 104.5,257.22 105.0,257.23 105.5,257.25 106.0,257.27 106.5,257.28 107.0,257.30 107.5,257.32 108.0,257.33 108.5,257.35 109.0,257.37 109.5,257.38 110.0,257.40 110.5,257.40 111.0,257.40 111.5,257.40 112.0,257.40 112.5,257.40 113.0,257.40 113.5,257.40 114.0,257.40 114.5,257.40 115.0,257.40 115.5,257.40 116.0,257.40 116.5,257.40 117.0,257.40 117.5,257.40 118.0,257.40 118.5,257.40 119.0,257.40 119.5,257.40 120.0,257.40 120.5,257.40 121.0,257.40 121.5,257.40 122.0,257.40 122.5,257.40 123.0,257.40 123.5,257.40 124.0,257.40 124.5,257.40 125.0,257.40 125.5,257.40 126.0,257.40 126.5,257.40 127.0,257.40 127.5,257.40 128.0,257.40 128.5,257.40 129.0,257.40 129.5,257.40 130.0,257.40 130.5,257.40 131.0,257.40 131.5,257.40 132.0,257.40 132.5,257.40 133.0,257.40 133.5,257.40 134.0,257.40 134.5,257.40 135.0,257.40 135.5,257.40 136.0,257.40 136.5,257.40 137.0,257.40 137.5,257.40 138.0,257.40 138.5,257.40 139.0,257.40 139.5,257.40 140.0,257.40 140.5,257.40 141.0,257.40 141.5,257.40 142.0,257.40 142.5,257.40 143.0,257.40 143.5,257.40 144.0,257.40 144.5,257.40 145.0,257.40 145.5,257.40 146.0,257.40 146.5,257.40 147.0,257.40 147.5,257.40 148.0,257.40 148.5,257.40 149.0,257.40 149.5,257.40 150.0,257.40 150.5,257.40 151.0,257.40 151.5,257.40 152.0,257.40 152.5,257.40 153.0,257.40 153.5,257.40 154.0,257.40 154.5,257.40 155.0,257.40 155.5,257.40 156.0,257.40 156.5,257.40 157.0,257.40 157.5,257.40 158.0,257.40 158.5,257.40 159.0,257.40 159.5,257.40 160.0,257.40 160.5,257.40 161.0,257.40 161.5,257.40 162.0,257.40 162.5,257.40 163.0,257.40 163.5,257.40 164.0,257.40 164.5,257.40 165.0,257.40 165.5,257.40 166.0,257.40 166.5,257.40 167.0,257.40 167.5,257.40 168.0,257.40 168.5,257.40 169.0,257.40 169.5,257.40 170.0,257.40 170.5,257.40 171.0,257.40 171.5,257.40 172.0,257.40 172.5,257.40 173.0,257.40 173.5,257.40 174.0,257.40 174.5,257.40 175.0,257.40 175.5,257.40 176.0,257.40 176.5,257.40 177.0,257.40 177.5,257.40 178.0,257.40 178.5,257.40 179.0,257.40 179.5,257.40 180.0,257.40 180.5,257.40 181.0,257.40 181.5,257.40 182.0,257.40 182.5,257.40 183.0,257.40 183.5,257.40 184.0,257.40 184.5,257.40 185.0,257.40 185.5,257.40 186.0,257.40 186.5,257.40 187.0,257.40 187.5,257.40 188.0,257.40 188.5,257.40 189.0,257.40 189.5,257.40 190.0,257.40 190.5,257.40 191.0,257.40 191.5,257.40 192.0,257.40 192.5,257.40 193.0,257.40 193.5,257.40 194.0,257.40 194.5,257.40 195.0,257.40 195.5,257.40 196.0,257.40 196.5,257.40 197.0,257.40 197.5,257.40 198.0,257.40 198.5,257.40 199.0,257.40 199.5,257.40 200.0,257.40 200.5,257.40 201.0,257.40 201.5,257.40 202.0,257.40 202.5,257.40 203.0,257.40 203.5,257.40 204.0,257.40 204.5,257.40 205.0,257.40 205.5,257.40 206.0,257.40 206.5,257.40 207.0,257.40 207.5,257.40 208.0,257.40 208.5,257.40 209.0,257.40 209.5,257.40 210.0,257.40 210.5,257.40 211.0,257.40 211.5,257.40 212.0,257.40 212.5,257.38 213.0,257.37 213.5,257.35 214.0,257.34 214.5,257.32 215.0,257.31 215.5,257.29 216.0,257.28 216.5,257.26 217.0,257.25 217.5,257.23 218.0,257.22 218.5,257.20 219.0,257.19 219.5,257.17 220.0,257.16 220.5,257.14 221.0,257.13 221.5,257.11 222.0,257.10 222.5,257.07 223.0,257.05 223.5,257.02 224.0,257.00 224.5,256.97 225.0,256.95 225.5,256.92 226.0,256.90 226.5,256.88 227.0,256.85 227.5,256.82 228.0,256.80 228.5,256.75 229.0,256.70 229.5,256.65 230.0,256.60 230.5,256.55 231.0,256.50 231.5,256.45 232.0,256.40 232.5,256.35 233.0,256.30 233.5,256.25 234.0,256.20 234.5,256.12 235.0,256.05 235.5,255.97 236.0,255.90 236.5,255.82 237.0,255.75 237.5,255.67 238.0,255.60 238.5,255.40 239.0,255.20 239.5,255.00 240.0,254.80 240.5,254.60 241.0,254.40 241.5,254.28 242.0,254.17 242.5,254.05 243.0,253.93 243.5,253.82 244.0,253.70 244.5,253.68 245.0,253.67 245.5,253.65 246.0,253.63 246.5,253.62 247.0,253.60 247.5,253.72 248.0,253.84 248.5,253.96 249.0,254.08 249.5,254.20 250.0,254.50 250.5,254.80 251.0,255.10 251.5,255.40 252.0,255.53 252.5,255.67 253.0,255.80 253.5,255.55 254.0,255.30 254.5,255.05 255.0,254.80 255.5,254.70 256.0,254.60 256.5,254.50 257.0,254.40 257.5,254.30 258.0,254.42 258.5,254.55 259.0,254.67 259.5,254.80 260.0,255.15 260.5,255.50 261.0,255.85 261.5,256.20 262.0,256.42 262.5,256.65 263.0,256.88 263.5,257.10 264.0,257.16 264.5,257.22 265.0,257.28 265.5,257.34 266.0,257.40 266.5,257.40 267.0,257.40 267.5,257.40 268.0,257.40 268.5,257.40 269.0,257.40 269.5,257.40 270.0,257.40 270.5,257.40 271.0,257.40 271.5,257.40 272.0,257.40 272.5,257.40 273.0,257.40 273.5,257.40 274.0,257.40 274.5,257.40 275.0,257.40 275.5,257.40 276.0,257.40 276.5,257.40 276.6,257.40" fill="#c8283c"/>
<line x1="13" y1="257.4" x2="276.6" y2="257.4" stroke="#c8283c" stroke-width="1.2" stroke-opacity="1.0"/>
<polygon points="13.0,265.20 13.0,265.20 13.5,265.20 14.0,265.20 14.5,265.20 15.0,265.20 15.5,265.20 16.0,265.20 16.5,265.20 17.0,265.20 17.5,265.20 18.0,265.20 18.5,265.20 19.0,265.20 19.5,265.20 20.0,265.20 20.5,265.20 21.0,265.20 21.5,265.20 22.0,265.20 22.5,265.20 23.0,265.20 23.5,265.20 24.0,265.20 24.5,265.20 25.0,265.20 25.5,265.20 26.0,265.20 26.5,265.20 27.0,265.20 27.5,265.20 28.0,265.20 28.5,265.20 29.0,265.20 29.5,265.20 30.0,265.20 30.5,265.20 31.0,265.20 31.5,265.20 32.0,265.20 32.5,265.20 33.0,265.20 33.5,265.20 34.0,265.20 34.5,265.20 35.0,265.20 35.5,265.20 36.0,265.20 36.5,265.20 37.0,265.20 37.5,265.20 38.0,265.20 38.5,265.20 39.0,265.20 39.5,265.20 40.0,265.20 40.5,265.20 41.0,265.20 41.5,265.20 42.0,265.20 42.5,265.20 43.0,265.20 43.5,265.20 44.0,265.20 44.5,265.20 45.0,265.20 45.5,265.20 46.0,265.20 46.5,265.20 47.0,265.20 47.5,265.20 48.0,265.20 48.5,265.20 49.0,265.20 49.5,265.20 50.0,265.20 50.5,265.20 51.0,265.20 51.5,265.20 52.0,265.20 52.5,265.20 53.0,265.20 53.5,265.20 54.0,265.20 54.5,265.20 55.0,265.20 55.5,265.20 56.0,265.20 56.5,265.13 57.0,265.06 57.5,264.99 58.0,264.92 58.5,264.85 59.0,264.78 59.5,264.71 60.0,264.64 60.5,264.41 61.0,264.17 61.5,263.94 62.0,263.71 62.5,263.47 63.0,263.24 63.5,262.98 64.0,262.73 64.5,262.47 65.0,262.21 65.5,261.96 66.0,261.70 66.5,261.63 67.0,261.56 67.5,261.49 68.0,261.42 68.5,261.35 69.0,261.28 69.5,261.36 70.0,261.45 70.5,261.53 71.0,261.62 71.5,261.70 72.0,261.81 72.5,261.91 73.0,262.01 73.5,262.12 74.0,261.90 74.5,261.67 75.0,261.45 75.5,261.22 76.0,261.00 76.5,260.88 77.0,260.77 77.5,260.65 78.0,260.53 78.5,260.42 79.0,260.30 79.5,260.32 80.0,260.35 80.5,260.37 81.0,260.39 81.5,260.42 82.0,260.44 82.5,260.66 83.0,260.89 83.5,261.11 84.0,261.34 84.5,261.56 85.0,261.98 85.5,262.40 86.0,262.82 86.5,263.24 87.0,263.38 87.5,263.52 88.0,263.66 88.5,263.80 89.0,263.94 89.5,263.96 90.0,263.99 90.5,264.01 91.0,264.03 91.5,264.06 92.0,264.08 92.5,264.10 93.0,264.13 93.5,264.15 94.0,264.17 94.5,264.20 95.0,264.22 95.5,264.25 96.0,264.28 96.5,264.30 97.0,264.33 97.5,264.36 98.0,264.39 98.5,264.42 99.0,264.44 99.5,264.47 100.0,264.50 100.5,264.55 101.0,264.60 101.5,264.66 102.0,264.71 102.5,264.76 103.0,264.81 103.5,264.87 104.0,264.92 104.5,264.94 105.0,264.97 105.5,264.99 106.0,265.01 106.5,265.04 107.0,265.06 107.5,265.08 108.0,265.11 108.5,265.13 109.0,265.15 109.5,265.18 110.0,265.20 110.5,265.20 111.0,265.20 111.5,265.20 112.0,265.20 112.5,265.20 113.0,265.20 113.5,265.20 114.0,265.20 114.5,265.20 115.0,265.20 115.5,265.20 116.0,265.20 116.5,265.20 117.0,265.20 117.5,265.20 118.0,265.20 118.5,265.20 119.0,265.20 119.5,265.20 120.0,265.20 120.5,265.20 121.0,265.20 121.5,265.20 122.0,265.20 122.5,265.20 123.0,265.20 123.5,265.20 124.0,265.20 124.5,265.20 125.0,265.20 125.5,265.20 126.0,265.20 126.5,265.20 127.0,265.20 127.5,265.20 128.0,265.20 128.5,265.20 129.0,265.20 129.5,265.20 130.0,265.20 130.5,265.20 131.0,265.20 131.5,265.20 132.0,265.20 132.5,265.20 133.0,265.20 133.5,265.20 134.0,265.20 134.5,265.20 135.0,265.20 135.5,265.20 136.0,265.20 136.5,265.20 137.0,265.20 137.5,265.20 138.0,265.20 138.5,265.20 139.0,265.20 139.5,265.20 140.0,265.20 140.5,265.20 141.0,265.20 141.5,265.20 142.0,265.20 142.5,265.20 143.0,265.20 143.5,265.20 144.0,265.20 144.5,265.20 145.0,265.20 145.5,265.20 146.0,265.20 146.5,265.20 147.0,265.20 147.5,265.20 148.0,265.20 148.5,265.20 149.0,265.20 149.5,265.20 150.0,265.20 150.5,265.20 151.0,265.20 151.5,265.20 152.0,265.20 152.5,265.20 153.0,265.20 153.5,265.20 154.0,265.20 154.5,265.20 155.0,265.20 155.5,265.20 156.0,265.20 156.5,265.20 157.0,265.20 157.5,265.20 158.0,265.20 158.5,265.20 159.0,265.20 159.5,265.20 160.0,265.20 160.5,265.20 161.0,265.20 161.5,265.20 162.0,265.20 162.5,265.20 163.0,265.20 163.5,265.20 164.0,265.20 164.5,265.20 165.0,265.20 165.5,265.20 166.0,265.20 166.5,265.20 167.0,265.20 167.5,265.20 168.0,265.20 168.5,265.20 169.0,265.20 169.5,265.20 170.0,265.20 170.5,265.20 171.0,265.20 171.5,265.20 172.0,265.20 172.5,265.20 173.0,265.20 173.5,265.20 174.0,265.20 174.5,265.20 175.0,265.20 175.5,265.20 176.0,265.20 176.5,265.20 177.0,265.20 177.5,265.20 178.0,265.20 178.5,265.20 179.0,265.20 179.5,265.20 180.0,265.20 180.5,265.20 181.0,265.20 181.5,265.20 182.0,265.20 182.5,265.20 183.0,265.20 183.5,265.20 184.0,265.20 184.5,265.20 185.0,265.20 185.5,265.20 186.0,265.20 186.5,265.20 187.0,265.20 187.5,265.20 188.0,265.20 188.5,265.20 189.0,265.20 189.5,265.20 190.0,265.20 190.5,265.20 191.0,265.20 191.5,265.20 192.0,265.20 192.5,265.20 193.0,265.20 193.5,265.20 194.0,265.20 194.5,265.20 195.0,265.20 195.5,265.20 196.0,265.20 196.5,265.20 197.0,265.20 197.5,265.20 198.0,265.20 198.5,265.20 199.0,265.20 199.5,265.20 200.0,265.20 200.5,265.20 201.0,265.20 201.5,265.20 202.0,265.20 202.5,265.20 203.0,265.20 203.5,265.20 204.0,265.20 204.5,265.20 205.0,265.20 205.5,265.20 206.0,265.20 206.5,265.20 207.0,265.20 207.5,265.20 208.0,265.20 208.5,265.20 209.0,265.20 209.5,265.20 210.0,265.20 210.5,265.20 211.0,265.20 211.5,265.20 212.0,265.20 212.5,265.18 213.0,265.16 213.5,265.14 214.0,265.12 214.5,265.09 215.0,265.07 215.5,265.05 216.0,265.03 216.5,265.01 217.0,264.99 217.5,264.97 218.0,264.95 218.5,264.93 219.0,264.91 219.5,264.88 220.0,264.86 220.5,264.84 221.0,264.82 221.5,264.80 222.0,264.78 222.5,264.75 223.0,264.71 223.5,264.68 224.0,264.64 224.5,264.60 225.0,264.57 225.5,264.53 226.0,264.50 226.5,264.46 227.0,264.43 227.5,264.39 228.0,264.36 228.5,264.29 229.0,264.22 229.5,264.15 230.0,264.08 230.5,264.01 231.0,263.94 231.5,263.87 232.0,263.80 232.5,263.73 233.0,263.66 233.5,263.59 234.0,263.52 234.5,263.41 235.0,263.31 235.5,263.20 236.0,263.10 236.5,263.00 237.0,262.89 237.5,262.78 238.0,262.68 238.5,262.40 239.0,262.12 239.5,261.84 240.0,261.56 240.5,261.28 241.0,261.00 241.5,260.84 242.0,260.67 242.5,260.51 243.0,260.35 243.5,260.18 244.0,260.02 244.5,260.00 245.0,259.97 245.5,259.95 246.0,259.93 246.5,259.90 247.0,259.88 247.5,260.05 248.0,260.22 248.5,260.38 249.0,260.55 249.5,260.72 250.0,261.14 250.5,261.56 251.0,261.98 251.5,262.40 252.0,262.59 252.5,262.77 253.0,262.96 253.5,262.61 254.0,262.26 254.5,261.91 255.0,261.56 255.5,261.42 256.0,261.28 256.5,261.14 257.0,261.00 257.5,260.86 258.0,261.03 258.5,261.21 259.0,261.38 259.5,261.56 260.0,262.05 260.5,262.54 261.0,263.03 261.5,263.52 262.0,263.83 262.5,264.15 263.0,264.46 263.5,264.78 264.0,264.86 264.5,264.95 265.0,265.03 265.5,265.12 266.0,265.20 266.5,265.20 267.0,265.20 267.5,265.20 268.0,265.20 268.5,265.20 269.0,265.20 269.5,265.20 270.0,265.20 270.5,265.20 271.0,265.20 271.5,265.20 272.0,265.20 272.5,265.20 273.0,265.20 273.5,265.20 274.0,265.20 274.5,265.20 275.0,265.20 275.5,265.20 276.0,265.20 276.5,265.20 276.6,265.20" fill="#1f4a86"/>
<line x1="13" y1="265.2" x2="276.6" y2="265.2" stroke="#1f4a86" stroke-width="1.2" stroke-opacity="1.0"/>
<polygon points="13.0,272.90 13.0,272.90 13.5,272.90 14.0,272.90 14.5,272.90 15.0,272.90 15.5,272.90 16.0,272.90 16.5,272.90 17.0,272.90 17.5,272.90 18.0,272.90 18.5,272.90 19.0,272.90 19.5,272.90 20.0,272.90 20.5,272.90 21.0,272.90 21.5,272.90 22.0,272.90 22.5,272.90 23.0,272.90 23.5,272.90 24.0,272.90 24.5,272.90 25.0,272.90 25.5,272.90 26.0,272.90 26.5,272.90 27.0,272.90 27.5,272.90 28.0,272.90 28.5,272.90 29.0,272.90 29.5,272.90 30.0,272.90 30.5,272.90 31.0,272.90 31.5,272.90 32.0,272.90 32.5,272.90 33.0,272.90 33.5,272.90 34.0,272.90 34.5,272.90 35.0,272.90 35.5,272.90 36.0,272.90 36.5,272.90 37.0,272.90 37.5,272.90 38.0,272.90 38.5,272.90 39.0,272.90 39.5,272.90 40.0,272.90 40.5,272.90 41.0,272.90 41.5,272.90 42.0,272.90 42.5,272.90 43.0,272.90 43.5,272.90 44.0,272.90 44.5,272.90 45.0,272.90 45.5,272.90 46.0,272.90 46.5,272.90 47.0,272.90 47.5,272.90 48.0,272.90 48.5,272.90 49.0,272.90 49.5,272.90 50.0,272.90 50.5,272.90 51.0,272.90 51.5,272.90 52.0,272.90 52.5,272.90 53.0,272.90 53.5,272.90 54.0,272.90 54.5,272.90 55.0,272.90 55.5,272.90 56.0,272.90 56.5,272.83 57.0,272.76 57.5,272.70 58.0,272.63 58.5,272.56 59.0,272.50 59.5,272.43 60.0,272.36 60.5,272.13 61.0,271.91 61.5,271.69 62.0,271.46 62.5,271.23 63.0,271.01 63.5,270.76 64.0,270.51 64.5,270.27 65.0,270.02 65.5,269.77 66.0,269.52 66.5,269.46 67.0,269.39 67.5,269.32 68.0,269.25 68.5,269.19 69.0,269.12 69.5,269.20 70.0,269.28 70.5,269.36 71.0,269.44 71.5,269.52 72.0,269.63 72.5,269.73 73.0,269.83 73.5,269.93 74.0,269.71 74.5,269.50 75.0,269.28 75.5,269.07 76.0,268.85 76.5,268.74 77.0,268.62 77.5,268.51 78.0,268.40 78.5,268.29 79.0,268.17 79.5,268.20 80.0,268.22 80.5,268.24 81.0,268.26 81.5,268.29 82.0,268.31 82.5,268.53 83.0,268.74 83.5,268.96 84.0,269.17 84.5,269.39 85.0,269.79 85.5,270.20 86.0,270.60 86.5,271.01 87.0,271.14 87.5,271.28 88.0,271.41 88.5,271.55 89.0,271.69 89.5,271.71 90.0,271.73 90.5,271.75 91.0,271.77 91.5,271.80 92.0,271.82 92.5,271.84 93.0,271.86 93.5,271.89 94.0,271.91 94.5,271.93 95.0,271.95 95.5,271.98 96.0,272.01 96.5,272.04 97.0,272.06 97.5,272.09 98.0,272.12 98.5,272.14 99.0,272.17 99.5,272.20 100.0,272.22 100.5,272.28 101.0,272.33 101.5,272.38 102.0,272.43 102.5,272.48 103.0,272.53 103.5,272.58 104.0,272.63 104.5,272.65 105.0,272.67 105.5,272.70 106.0,272.72 106.5,272.74 107.0,272.76 107.5,272.79 108.0,272.81 108.5,272.83 109.0,272.85 109.5,272.88 110.0,272.90 110.5,272.90 111.0,272.90 111.5,272.90 112.0,272.90 112.5,272.90 113.0,272.90 113.5,272.90 114.0,272.90 114.5,272.90 115.0,272.90 115.5,272.90 116.0,272.90 116.5,272.90 117.0,272.90 117.5,272.90 118.0,272.90 118.5,272.90 119.0,272.90 119.5,272.90 120.0,272.90 120.5,272.90 121.0,272.90 121.5,272.90 122.0,272.90 122.5,272.90 123.0,272.90 123.5,272.90 124.0,272.90 124.5,272.90 125.0,272.90 125.5,272.90 126.0,272.90 126.5,272.90 127.0,272.90 127.5,272.90 128.0,272.90 128.5,272.90 129.0,272.90 129.5,272.90 130.0,272.90 130.5,272.90 131.0,272.90 131.5,272.90 132.0,272.90 132.5,272.90 133.0,272.90 133.5,272.90 134.0,272.90 134.5,272.90 135.0,272.90 135.5,272.90 136.0,272.90 136.5,272.90 137.0,272.90 137.5,272.90 138.0,272.90 138.5,272.90 139.0,272.90 139.5,272.90 140.0,272.90 140.5,272.90 141.0,272.90 141.5,272.90 142.0,272.90 142.5,272.90 143.0,272.90 143.5,272.90 144.0,272.90 144.5,272.90 145.0,272.90 145.5,272.90 146.0,272.90 146.5,272.90 147.0,272.90 147.5,272.90 148.0,272.90 148.5,272.90 149.0,272.90 149.5,272.90 150.0,272.90 150.5,272.90 151.0,272.90 151.5,272.90 152.0,272.90 152.5,272.90 153.0,272.90 153.5,272.90 154.0,272.90 154.5,272.90 155.0,272.90 155.5,272.90 156.0,272.90 156.5,272.90 157.0,272.90 157.5,272.90 158.0,272.90 158.5,272.90 159.0,272.90 159.5,272.90 160.0,272.90 160.5,272.90 161.0,272.90 161.5,272.90 162.0,272.90 162.5,272.90 163.0,272.90 163.5,272.90 164.0,272.90 164.5,272.90 165.0,272.90 165.5,272.90 166.0,272.90 166.5,272.90 167.0,272.90 167.5,272.90 168.0,272.90 168.5,272.90 169.0,272.90 169.5,272.90 170.0,272.90 170.5,272.90 171.0,272.90 171.5,272.90 172.0,272.90 172.5,272.90 173.0,272.90 173.5,272.90 174.0,272.90 174.5,272.90 175.0,272.90 175.5,272.90 176.0,272.90 176.5,272.90 177.0,272.90 177.5,272.90 178.0,272.90 178.5,272.90 179.0,272.90 179.5,272.90 180.0,272.90 180.5,272.90 181.0,272.90 181.5,272.90 182.0,272.90 182.5,272.90 183.0,272.90 183.5,272.90 184.0,272.90 184.5,272.90 185.0,272.90 185.5,272.90 186.0,272.90 186.5,272.90 187.0,272.90 187.5,272.90 188.0,272.90 188.5,272.90 189.0,272.90 189.5,272.90 190.0,272.90 190.5,272.90 191.0,272.90 191.5,272.90 192.0,272.90 192.5,272.90 193.0,272.90 193.5,272.90 194.0,272.90 194.5,272.90 195.0,272.90 195.5,272.90 196.0,272.90 196.5,272.90 197.0,272.90 197.5,272.90 198.0,272.90 198.5,272.90 199.0,272.90 199.5,272.90 200.0,272.90 200.5,272.90 201.0,272.90 201.5,272.90 202.0,272.90 202.5,272.90 203.0,272.90 203.5,272.90 204.0,272.90 204.5,272.90 205.0,272.90 205.5,272.90 206.0,272.90 206.5,272.90 207.0,272.90 207.5,272.90 208.0,272.90 208.5,272.90 209.0,272.90 209.5,272.90 210.0,272.90 210.5,272.90 211.0,272.90 211.5,272.90 212.0,272.90 212.5,272.88 213.0,272.86 213.5,272.84 214.0,272.82 214.5,272.80 215.0,272.78 215.5,272.76 216.0,272.74 216.5,272.72 217.0,272.70 217.5,272.68 218.0,272.66 218.5,272.64 219.0,272.62 219.5,272.60 220.0,272.58 220.5,272.56 221.0,272.54 221.5,272.52 222.0,272.50 222.5,272.46 223.0,272.43 223.5,272.39 224.0,272.36 224.5,272.33 225.0,272.29 225.5,272.26 226.0,272.22 226.5,272.19 227.0,272.16 227.5,272.12 228.0,272.09 228.5,272.02 229.0,271.95 229.5,271.89 230.0,271.82 230.5,271.75 231.0,271.69 231.5,271.62 232.0,271.55 232.5,271.48 233.0,271.41 233.5,271.35 234.0,271.28 234.5,271.18 235.0,271.08 235.5,270.98 236.0,270.88 236.5,270.77 237.0,270.67 237.5,270.57 238.0,270.47 238.5,270.20 239.0,269.93 239.5,269.66 240.0,269.39 240.5,269.12 241.0,268.85 241.5,268.69 242.0,268.53 242.5,268.38 243.0,268.22 243.5,268.06 244.0,267.90 244.5,267.88 245.0,267.86 245.5,267.84 246.0,267.81 246.5,267.79 247.0,267.77 247.5,267.93 248.0,268.09 248.5,268.26 249.0,268.42 249.5,268.58 250.0,268.98 250.5,269.39 251.0,269.79 251.5,270.20 252.0,270.38 252.5,270.56 253.0,270.74 253.5,270.40 254.0,270.06 254.5,269.73 255.0,269.39 255.5,269.25 256.0,269.12 256.5,268.98 257.0,268.85 257.5,268.71 258.0,268.88 258.5,269.05 259.0,269.22 259.5,269.39 260.0,269.86 260.5,270.33 261.0,270.81 261.5,271.28 262.0,271.58 262.5,271.89 263.0,272.19 263.5,272.50 264.0,272.58 264.5,272.66 265.0,272.74 265.5,272.82 266.0,272.90 266.5,272.90 267.0,272.90 267.5,272.90 268.0,272.90 268.5,272.90 269.0,272.90 269.5,272.90 270.0,272.90 270.5,272.90 271.0,272.90 271.5,272.90 272.0,272.90 272.5,272.90 273.0,272.90 273.5,272.90 274.0,272.90 274.5,272.90 275.0,272.90 275.5,272.90 276.0,272.90 276.5,272.90 276.6,272.90" fill="#3aa83a"/>
<line x1="13" y1="272.9" x2="276.6" y2="272.9" stroke="#3aa83a" stroke-width="1.2" stroke-opacity="1.0"/>
<text x="126" y="255.79999999999998" font-size="7.4" text-anchor="start" fill="#d0364c" stroke="#d0364c" stroke-width="0.18">Control</text>
<text x="126" y="263.8" font-size="7.4" text-anchor="start" fill="#38649e" stroke="#38649e" stroke-width="0.18">GFP−</text>
<text x="126" y="272.1" font-size="7.4" text-anchor="start" fill="#4cae48" stroke="#4cae48" stroke-width="0.18">GFP+</text>
<text x="11.4" y="264.7" font-size="5.0" text-anchor="middle" fill="#444" font-weight="bold" transform="rotate(-90 11.4 264.7)">[0 - 4.00]</text>
<text x="140.8" y="293.3" font-size="7.4" text-anchor="start" fill="#222" stroke="#222" stroke-width="0.18">CD163</text>
<line x1="73" y1="296.5" x2="216.5" y2="296.5" stroke="#5a78a8" stroke-width="0.6"/>
<line x1="75" y1="296.5" x2="216.5" y2="296.5" stroke="#1f3f7a" stroke-width="1.5" stroke-dasharray="0.6,4.6" stroke-opacity="0.55"/>
<rect x="72.5" y="295.50" width="1.6" height="2" fill="#1f3f7a"/>
<rect x="109.0" y="295.40" width="0.8" height="2.2" fill="#1f3f7a"/>
<rect x="115.5" y="295.40" width="0.8" height="2.2" fill="#1f3f7a"/>
<rect x="123.3" y="295.40" width="1.0" height="2.2" fill="#1f3f7a"/>
<rect x="124.8" y="295.40" width="1.0" height="2.2" fill="#1f3f7a"/>
<rect x="130.5" y="295.40" width="1.2" height="2.2" fill="#1f3f7a"/>
<rect x="136.0" y="295.40" width="1.5" height="2.2" fill="#1f3f7a"/>
<rect x="139.8" y="295.40" width="2.2" height="2.2" fill="#1f3f7a"/>
<rect x="180.0" y="295.40" width="1.2" height="2.2" fill="#1f3f7a"/>
<rect x="187.3" y="295.40" width="1.2" height="2.2" fill="#1f3f7a"/>
<rect x="196.0" y="295.40" width="1.2" height="2.2" fill="#1f3f7a"/>
<rect x="205.0" y="295.40" width="1.2" height="2.2" fill="#1f3f7a"/>
<rect x="212.0" y="295.40" width="1.0" height="2.2" fill="#1f3f7a"/>
<rect x="215.5" y="295.40" width="1.0" height="2.2" fill="#1f3f7a"/>
<polygon points="13.0,309.20 13.0,309.20 13.4,309.20 13.8,309.20 14.2,309.20 14.6,309.20 15.0,309.20 15.4,309.20 15.8,309.20 16.2,309.20 16.6,309.20 17.0,309.20 17.4,309.20 17.8,309.20 18.2,309.20 18.6,309.20 19.0,309.20 19.4,309.20 19.8,309.20 20.2,309.20 20.6,309.20 21.0,309.20 21.4,309.20 21.8,309.20 22.2,309.20 22.6,309.20 23.0,309.20 23.4,309.20 23.8,309.20 24.2,309.20 24.6,309.20 25.0,309.20 25.4,309.20 25.8,309.20 26.2,309.20 26.6,309.20 27.0,309.20 27.4,309.20 27.8,309.20 28.2,309.20 28.6,309.20 29.0,309.20 29.4,309.20 29.8,309.20 30.2,309.20 30.6,309.20 31.0,309.20 31.4,309.20 31.8,309.20 32.2,309.20 32.6,309.20 33.0,309.20 33.4,309.20 33.8,309.20 34.2,309.20 34.6,309.20 35.0,309.20 35.4,309.20 35.8,309.20 36.2,309.20 36.6,309.20 37.0,309.20 37.4,309.20 37.8,309.20 38.2,309.20 38.6,309.20 39.0,309.20 39.4,309.20 39.8,309.20 40.2,309.20 40.6,309.20 41.0,309.20 41.4,309.20 41.8,309.20 42.2,309.20 42.6,309.20 43.0,309.20 43.4,309.20 43.8,309.20 44.2,309.20 44.6,309.20 45.0,309.20 45.4,309.20 45.8,309.20 46.2,309.20 46.6,309.20 47.0,309.20 47.4,309.20 47.8,309.20 48.2,309.20 48.6,309.20 49.0,309.20 49.4,309.20 49.8,309.20 50.2,309.20 50.6,309.20 51.0,309.20 51.4,309.20 51.8,309.20 52.2,309.20 52.6,309.20 53.0,309.20 53.4,309.20 53.8,309.20 54.2,309.20 54.6,309.20 55.0,309.20 55.4,309.20 55.8,309.20 56.2,309.20 56.6,309.20 57.0,309.20 57.4,309.20 57.8,309.20 58.2,309.20 58.6,309.20 59.0,309.20 59.4,309.20 59.8,309.20 60.2,309.20 60.6,309.20 61.0,309.20 61.4,309.20 61.8,309.20 62.2,309.20 62.6,309.20 63.0,309.20 63.4,309.20 63.8,309.20 64.2,309.20 64.6,309.20 65.0,309.20 65.4,309.20 65.8,309.20 66.2,309.20 66.6,309.20 67.0,309.20 67.4,309.20 67.8,309.20 68.2,309.20 68.6,309.20 69.0,309.20 69.4,309.20 69.8,309.20 70.2,309.20 70.6,309.20 71.0,309.20 71.4,309.20 71.8,309.20 72.2,309.20 72.6,309.20 73.0,309.20 73.4,309.20 73.8,309.20 74.2,309.20 74.6,309.20 75.0,309.20 75.4,309.20 75.8,309.20 76.2,309.20 76.6,309.20 77.0,309.20 77.4,309.20 77.8,309.20 78.2,309.20 78.6,309.20 79.0,309.20 79.4,309.20 79.8,309.20 80.2,309.20 80.6,309.20 81.0,309.20 81.4,309.20 81.8,309.20 82.2,309.20 82.6,309.20 83.0,309.20 83.4,309.20 83.8,309.20 84.2,309.20 84.6,309.20 85.0,309.20 85.4,309.20 85.8,309.20 86.2,309.20 86.6,309.20 87.0,309.20 87.4,309.20 87.8,309.20 88.2,309.20 88.6,309.20 89.0,309.20 89.4,309.20 89.8,309.20 90.2,309.20 90.6,309.20 91.0,309.20 91.4,309.20 91.8,309.20 92.2,309.20 92.6,309.20 93.0,309.20 93.4,309.20 93.8,309.20 94.2,309.20 94.6,309.20 95.0,309.20 95.4,309.20 95.8,309.20 96.2,309.20 96.6,309.20 97.0,309.20 97.4,309.20 97.8,309.20 98.2,309.20 98.6,309.20 99.0,309.20 99.4,309.20 99.8,309.20 100.2,309.20 100.6,309.20 101.0,309.20 101.4,309.20 101.8,309.20 102.2,309.20 102.6,309.20 103.0,309.20 103.4,309.20 103.8,309.20 104.2,309.20 104.6,309.20 105.0,309.20 105.4,309.20 105.8,309.20 106.2,309.20 106.6,309.20 107.0,309.20 107.4,309.20 107.8,309.20 108.2,309.20 108.6,309.20 109.0,309.20 109.4,309.20 109.8,309.20 110.2,309.20 110.6,309.20 111.0,309.20 111.4,309.20 111.8,309.20 112.2,309.20 112.6,309.20 113.0,309.20 113.4,309.20 113.8,309.20 114.2,309.20 114.6,309.20 115.0,309.20 115.4,309.20 115.8,309.20 116.2,309.20 116.6,309.20 117.0,309.20 117.4,309.20 117.8,309.20 118.2,309.20 118.6,309.20 119.0,309.20 119.4,309.20 119.8,309.20 120.2,309.20 120.6,309.20 121.0,309.20 121.4,309.20 121.8,309.20 122.2,309.20 122.6,309.20 123.0,309.20 123.4,309.20 123.8,309.20 124.2,309.20 124.6,309.20 125.0,309.20 125.4,309.20 125.8,309.20 126.2,309.20 126.6,309.20 127.0,309.20 127.4,309.20 127.8,309.20 128.2,309.20 128.6,309.20 129.0,309.20 129.4,309.20 129.8,309.20 130.2,309.20 130.6,309.20 131.0,309.20 131.4,309.20 131.8,309.20 132.2,309.20 132.6,309.20 133.0,309.20 133.4,309.20 133.8,309.20 134.2,309.20 134.6,309.20 135.0,309.20 135.4,309.20 135.8,309.20 136.2,309.20 136.6,309.20 137.0,309.20 137.4,309.20 137.8,309.20 138.2,309.20 138.6,309.20 139.0,309.20 139.4,309.20 139.8,309.20 140.2,309.20 140.6,309.20 141.0,309.20 141.4,309.20 141.8,309.20 142.2,309.20 142.6,309.20 143.0,309.20 143.4,309.20 143.8,309.20 144.2,309.20 144.6,309.20 145.0,309.20 145.4,309.20 145.8,309.20 146.2,309.20 146.6,309.20 147.0,309.20 147.4,309.20 147.8,309.20 148.2,309.20 148.6,309.20 149.0,309.20 149.4,309.20 149.8,309.20 150.2,309.20 150.6,309.20 151.0,309.20 151.4,309.20 151.8,309.20 152.2,309.20 152.6,309.20 153.0,309.20 153.4,309.20 153.8,309.20 154.2,309.20 154.6,309.20 155.0,309.20 155.4,309.20 155.8,309.20 156.2,309.20 156.6,309.20 157.0,309.20 157.4,309.20 157.8,309.20 158.2,309.20 158.6,309.20 159.0,309.20 159.4,309.20 159.8,309.20 160.2,309.20 160.6,309.20 161.0,309.20 161.4,309.20 161.8,309.20 162.2,309.20 162.6,309.20 163.0,309.20 163.4,309.20 163.8,309.20 164.2,309.20 164.6,309.20 165.0,309.20 165.4,309.20 165.8,309.20 166.2,309.20 166.6,309.20 167.0,309.20 167.4,309.20 167.8,309.20 168.2,309.20 168.6,309.20 169.0,309.20 169.4,309.20 169.8,309.20 170.2,309.20 170.6,309.20 171.0,309.20 171.4,309.20 171.8,309.20 172.2,309.20 172.6,309.20 173.0,309.20 173.4,309.20 173.8,309.20 174.2,309.20 174.6,309.20 175.0,309.20 175.4,309.20 175.8,309.20 176.2,309.20 176.6,309.20 177.0,309.20 177.4,309.20 177.8,309.20 178.2,309.20 178.6,309.20 179.0,309.20 179.4,309.20 179.8,309.20 180.2,309.20 180.6,309.20 181.0,309.20 181.4,309.20 181.8,309.20 182.2,309.20 182.6,309.20 183.0,309.20 183.4,309.20 183.8,309.20 184.2,309.20 184.6,309.20 185.0,309.20 185.4,309.20 185.8,309.20 186.2,309.20 186.6,309.20 187.0,309.20 187.4,309.20 187.8,309.20 188.2,309.20 188.6,309.20 189.0,309.20 189.4,309.20 189.8,309.20 190.2,309.20 190.6,309.20 191.0,309.20 191.4,309.20 191.8,309.20 192.2,309.20 192.6,309.20 193.0,309.20 193.4,309.20 193.8,309.20 194.2,309.19 194.6,309.14 195.0,308.89 195.4,308.24 195.8,307.50 196.2,307.50 196.6,308.24 197.0,308.89 197.4,309.14 197.8,309.19 198.2,309.19 198.6,309.13 199.0,308.93 199.4,308.68 199.8,308.68 200.2,308.93 200.6,309.13 201.0,309.19 201.4,309.20 201.8,309.20 202.2,309.20 202.6,309.20 203.0,309.20 203.4,309.20 203.8,309.19 204.2,309.14 204.6,308.93 205.0,308.48 205.4,308.10 205.8,308.25 206.2,308.73 206.6,309.07 207.0,309.18 207.4,309.20 207.8,309.20 208.2,309.20 208.6,309.20 209.0,309.20 209.4,309.20 209.8,309.20 210.2,309.20 210.6,309.16 211.0,308.99 211.4,308.54 211.8,308.03 212.2,308.03 212.6,308.54 213.0,308.99 213.4,309.16 213.8,309.20 214.2,309.20 214.6,309.19 215.0,309.14 215.4,308.85 215.8,308.09 216.2,307.24 216.6,307.24 217.0,308.09 217.4,308.85 217.8,309.14 218.2,309.19 218.6,309.20 219.0,309.20 219.4,309.20 219.8,309.20 220.2,309.20 220.6,309.20 221.0,309.20 221.4,309.20 221.8,309.20 222.2,309.20 222.6,309.20 223.0,309.20 223.4,309.20 223.8,309.20 224.2,309.20 224.6,309.20 225.0,309.20 225.4,309.20 225.8,309.20 226.2,309.20 226.6,309.20 227.0,309.20 227.4,309.20 227.8,309.20 228.2,309.20 228.6,309.20 229.0,309.20 229.4,309.17 229.8,308.87 230.2,307.63 230.6,306.14 231.0,306.75 231.4,308.39 231.8,309.09 232.2,309.19 232.6,309.19 233.0,309.13 233.4,308.93 233.8,308.68 234.2,308.68 234.6,308.93 235.0,309.13 235.4,309.19 235.8,309.20 236.2,309.20 236.6,309.20 237.0,309.20 237.4,309.20 237.8,309.20 238.2,309.20 238.6,309.20 239.0,309.20 239.4,309.20 239.8,309.20 240.2,309.20 240.6,309.20 241.0,309.20 241.4,309.20 241.8,309.20 242.2,309.20 242.6,309.20 243.0,309.20 243.4,309.20 243.8,309.20 244.2,309.20 244.6,309.20 245.0,309.20 245.4,309.20 245.8,309.20 246.2,309.20 246.6,309.20 247.0,309.20 247.4,309.20 247.8,309.20 248.2,309.20 248.6,309.20 249.0,309.20 249.4,309.20 249.8,309.20 250.2,309.20 250.6,309.20 251.0,309.20 251.4,309.20 251.8,309.20 252.2,309.20 252.6,309.20 253.0,309.20 253.4,309.20 253.8,309.20 254.2,309.20 254.6,309.20 255.0,309.20 255.4,309.20 255.8,309.20 256.2,309.20 256.6,309.20 257.0,309.20 257.4,309.20 257.8,309.20 258.2,309.20 258.6,309.20 259.0,309.20 259.4,309.20 259.8,309.20 260.2,309.20 260.6,309.20 261.0,309.20 261.4,309.20 261.8,309.20 262.2,309.20 262.6,309.20 263.0,309.20 263.4,309.20 263.8,309.20 264.2,309.20 264.6,309.20 265.0,309.20 265.4,309.20 265.8,309.20 266.2,309.20 266.6,309.20 267.0,309.20 267.4,309.20 267.8,309.20 268.2,309.20 268.6,309.20 269.0,309.20 269.4,309.20 269.8,309.20 270.2,309.20 270.6,309.20 271.0,309.20 271.4,309.20 271.8,309.20 272.2,309.20 272.6,309.20 273.0,309.20 273.4,309.20 273.8,309.20 274.2,309.20 274.6,309.20 275.0,309.20 275.4,309.20 275.8,309.20 276.2,309.20 276.6,309.20" fill="#c8283c"/>
<line x1="13" y1="309.2" x2="276.6" y2="309.2" stroke="#c8283c" stroke-width="0.5" stroke-opacity="0.6"/>
<polygon points="13.0,317.20 13.0,317.20 13.4,317.20 13.8,317.20 14.2,317.20 14.6,317.20 15.0,317.20 15.4,317.20 15.8,317.20 16.2,317.20 16.6,317.20 17.0,317.20 17.4,317.20 17.8,317.20 18.2,317.20 18.6,317.20 19.0,317.20 19.4,317.20 19.8,317.20 20.2,317.20 20.6,317.20 21.0,317.20 21.4,317.20 21.8,317.20 22.2,317.20 22.6,317.20 23.0,317.20 23.4,317.20 23.8,317.20 24.2,317.20 24.6,317.20 25.0,317.20 25.4,317.20 25.8,317.20 26.2,317.20 26.6,317.20 27.0,317.20 27.4,317.20 27.8,317.20 28.2,317.20 28.6,317.20 29.0,317.20 29.4,317.20 29.8,317.20 30.2,317.20 30.6,317.20 31.0,317.20 31.4,317.20 31.8,317.20 32.2,317.20 32.6,317.20 33.0,317.20 33.4,317.20 33.8,317.20 34.2,317.20 34.6,317.20 35.0,317.20 35.4,317.20 35.8,317.20 36.2,317.20 36.6,317.20 37.0,317.20 37.4,317.20 37.8,317.20 38.2,317.20 38.6,317.20 39.0,317.20 39.4,317.20 39.8,317.20 40.2,317.20 40.6,317.20 41.0,317.20 41.4,317.20 41.8,317.20 42.2,317.20 42.6,317.20 43.0,317.20 43.4,317.20 43.8,317.20 44.2,317.20 44.6,317.20 45.0,317.20 45.4,317.20 45.8,317.20 46.2,317.20 46.6,317.20 47.0,317.20 47.4,317.20 47.8,317.20 48.2,317.20 48.6,317.20 49.0,317.20 49.4,317.20 49.8,317.20 50.2,317.20 50.6,317.20 51.0,317.20 51.4,317.20 51.8,317.20 52.2,317.20 52.6,317.20 53.0,317.20 53.4,317.20 53.8,317.20 54.2,317.20 54.6,317.20 55.0,317.20 55.4,317.20 55.8,317.20 56.2,317.20 56.6,317.20 57.0,317.20 57.4,317.20 57.8,317.20 58.2,317.20 58.6,317.20 59.0,317.20 59.4,317.20 59.8,317.20 60.2,317.20 60.6,317.20 61.0,317.20 61.4,317.20 61.8,317.20 62.2,317.20 62.6,317.20 63.0,317.20 63.4,317.20 63.8,317.20 64.2,317.20 64.6,317.20 65.0,317.20 65.4,317.20 65.8,317.20 66.2,317.20 66.6,317.20 67.0,317.20 67.4,317.20 67.8,317.20 68.2,317.20 68.6,317.20 69.0,317.20 69.4,317.20 69.8,317.20 70.2,317.20 70.6,317.20 71.0,317.20 71.4,317.20 71.8,317.20 72.2,317.20 72.6,317.20 73.0,317.20 73.4,317.20 73.8,317.20 74.2,317.20 74.6,317.20 75.0,317.20 75.4,317.20 75.8,317.20 76.2,317.20 76.6,317.20 77.0,317.20 77.4,317.20 77.8,317.20 78.2,317.20 78.6,317.20 79.0,317.20 79.4,317.20 79.8,317.20 80.2,317.20 80.6,317.20 81.0,317.20 81.4,317.20 81.8,317.20 82.2,317.20 82.6,317.20 83.0,317.20 83.4,317.20 83.8,317.20 84.2,317.20 84.6,317.20 85.0,317.20 85.4,317.20 85.8,317.20 86.2,317.20 86.6,317.20 87.0,317.20 87.4,317.20 87.8,317.20 88.2,317.20 88.6,317.20 89.0,317.20 89.4,317.20 89.8,317.20 90.2,317.20 90.6,317.20 91.0,317.20 91.4,317.20 91.8,317.20 92.2,317.20 92.6,317.20 93.0,317.20 93.4,317.20 93.8,317.20 94.2,317.20 94.6,317.20 95.0,317.20 95.4,317.20 95.8,317.20 96.2,317.20 96.6,317.20 97.0,317.20 97.4,317.20 97.8,317.20 98.2,317.20 98.6,317.20 99.0,317.20 99.4,317.20 99.8,317.20 100.2,317.20 100.6,317.20 101.0,317.20 101.4,317.20 101.8,317.20 102.2,317.20 102.6,317.20 103.0,317.20 103.4,317.20 103.8,317.20 104.2,317.20 104.6,317.20 105.0,317.20 105.4,317.20 105.8,317.20 106.2,317.20 106.6,317.20 107.0,317.20 107.4,317.20 107.8,317.20 108.2,317.20 108.6,317.20 109.0,317.20 109.4,317.20 109.8,317.20 110.2,317.20 110.6,317.20 111.0,317.20 111.4,317.20 111.8,317.20 112.2,317.20 112.6,317.20 113.0,317.20 113.4,317.20 113.8,317.20 114.2,317.20 114.6,317.20 115.0,317.20 115.4,317.20 115.8,317.20 116.2,317.20 116.6,317.20 117.0,317.20 117.4,317.20 117.8,317.20 118.2,317.20 118.6,317.20 119.0,317.20 119.4,317.20 119.8,317.20 120.2,317.20 120.6,317.20 121.0,317.20 121.4,317.20 121.8,317.20 122.2,317.20 122.6,317.20 123.0,317.20 123.4,317.20 123.8,317.20 124.2,317.20 124.6,317.20 125.0,317.20 125.4,317.20 125.8,317.20 126.2,317.20 126.6,317.20 127.0,317.20 127.4,317.20 127.8,317.20 128.2,317.20 128.6,317.20 129.0,317.20 129.4,317.20 129.8,317.20 130.2,317.20 130.6,317.20 131.0,317.20 131.4,317.20 131.8,317.20 132.2,317.20 132.6,317.20 133.0,317.20 133.4,317.20 133.8,317.20 134.2,317.20 134.6,317.20 135.0,317.20 135.4,317.20 135.8,317.20 136.2,317.20 136.6,317.20 137.0,317.20 137.4,317.20 137.8,317.20 138.2,317.20 138.6,317.20 139.0,317.20 139.4,317.20 139.8,317.20 140.2,317.20 140.6,317.20 141.0,317.20 141.4,317.20 141.8,317.20 142.2,317.20 142.6,317.20 143.0,317.20 143.4,317.20 143.8,317.20 144.2,317.20 144.6,317.20 145.0,317.20 145.4,317.20 145.8,317.20 146.2,317.20 146.6,317.20 147.0,317.20 147.4,317.20 147.8,317.20 148.2,317.20 148.6,317.20 149.0,317.20 149.4,317.20 149.8,317.20 150.2,317.20 150.6,317.20 151.0,317.20 151.4,317.20 151.8,317.20 152.2,317.20 152.6,317.20 153.0,317.20 153.4,317.20 153.8,317.20 154.2,317.20 154.6,317.20 155.0,317.20 155.4,317.20 155.8,317.20 156.2,317.20 156.6,317.20 157.0,317.20 157.4,317.20 157.8,317.20 158.2,317.20 158.6,317.20 159.0,317.20 159.4,317.20 159.8,317.20 160.2,317.20 160.6,317.20 161.0,317.20 161.4,317.20 161.8,317.20 162.2,317.20 162.6,317.20 163.0,317.20 163.4,317.20 163.8,317.20 164.2,317.20 164.6,317.20 165.0,317.20 165.4,317.20 165.8,317.20 166.2,317.20 166.6,317.20 167.0,317.20 167.4,317.20 167.8,317.20 168.2,317.20 168.6,317.20 169.0,317.20 169.4,317.20 169.8,317.20 170.2,317.20 170.6,317.20 171.0,317.20 171.4,317.20 171.8,317.20 172.2,317.20 172.6,317.20 173.0,317.20 173.4,317.20 173.8,317.20 174.2,317.20 174.6,317.20 175.0,317.20 175.4,317.20 175.8,317.20 176.2,317.20 176.6,317.20 177.0,317.20 177.4,317.20 177.8,317.20 178.2,317.20 178.6,317.20 179.0,317.20 179.4,317.20 179.8,317.20 180.2,317.20 180.6,317.20 181.0,317.20 181.4,317.20 181.8,317.20 182.2,317.20 182.6,317.20 183.0,317.20 183.4,317.20 183.8,317.20 184.2,317.20 184.6,317.20 185.0,317.20 185.4,317.20 185.8,317.20 186.2,317.20 186.6,317.20 187.0,317.20 187.4,317.20 187.8,317.20 188.2,317.20 188.6,317.20 189.0,317.20 189.4,317.20 189.8,317.20 190.2,317.20 190.6,317.20 191.0,317.20 191.4,317.20 191.8,317.20 192.2,317.20 192.6,317.20 193.0,317.20 193.4,317.20 193.8,317.20 194.2,317.19 194.6,317.12 195.0,316.76 195.4,315.83 195.8,314.78 196.2,314.78 196.6,315.83 197.0,316.76 197.4,317.12 197.8,317.19 198.2,317.18 198.6,317.10 199.0,316.82 199.4,316.46 199.8,316.46 200.2,316.82 200.6,317.10 201.0,317.19 201.4,317.20 201.8,317.20 202.2,317.20 202.6,317.20 203.0,317.20 203.4,317.20 203.8,317.19 204.2,317.12 204.6,316.82 205.0,316.17 205.4,315.63 205.8,315.84 206.2,316.53 206.6,317.01 207.0,317.17 207.4,317.20 207.8,317.20 208.2,317.20 208.6,317.20 209.0,317.20 209.4,317.20 209.8,317.20 210.2,317.19 210.6,317.14 211.0,316.90 211.4,316.25 211.8,315.52 212.2,315.52 212.6,316.25 213.0,316.90 213.4,317.14 213.8,317.19 214.2,317.20 214.6,317.19 215.0,317.11 215.4,316.69 215.8,315.62 216.2,314.41 216.6,314.41 217.0,315.62 217.4,316.69 217.8,317.11 218.2,317.19 218.6,317.20 219.0,317.20 219.4,317.20 219.8,317.20 220.2,317.20 220.6,317.20 221.0,317.20 221.4,317.20 221.8,317.20 222.2,317.20 222.6,317.20 223.0,317.20 223.4,317.20 223.8,317.20 224.2,317.20 224.6,317.20 225.0,317.20 225.4,317.20 225.8,317.20 226.2,317.20 226.6,317.20 227.0,317.20 227.4,317.20 227.8,317.20 228.2,317.20 228.6,317.20 229.0,317.20 229.4,317.16 229.8,316.73 230.2,314.95 230.6,312.82 231.0,313.70 231.4,316.05 231.8,317.04 232.2,317.19 232.6,317.19 233.0,317.10 233.4,316.82 233.8,316.46 234.2,316.46 234.6,316.82 235.0,317.10 235.4,317.19 235.8,317.20 236.2,317.20 236.6,317.20 237.0,317.20 237.4,317.20 237.8,317.20 238.2,317.20 238.6,317.20 239.0,317.20 239.4,317.20 239.8,317.20 240.2,317.20 240.6,317.20 241.0,317.20 241.4,317.20 241.8,317.20 242.2,317.20 242.6,317.20 243.0,317.20 243.4,317.20 243.8,317.20 244.2,317.20 244.6,317.20 245.0,317.20 245.4,317.20 245.8,317.20 246.2,317.20 246.6,317.20 247.0,317.20 247.4,317.20 247.8,317.20 248.2,317.20 248.6,317.20 249.0,317.20 249.4,317.20 249.8,317.20 250.2,317.20 250.6,317.20 251.0,317.20 251.4,317.20 251.8,317.20 252.2,317.20 252.6,317.20 253.0,317.20 253.4,317.20 253.8,317.20 254.2,317.20 254.6,317.20 255.0,317.20 255.4,317.20 255.8,317.20 256.2,317.20 256.6,317.20 257.0,317.20 257.4,317.20 257.8,317.20 258.2,317.20 258.6,317.20 259.0,317.20 259.4,317.20 259.8,317.20 260.2,317.20 260.6,317.20 261.0,317.20 261.4,317.20 261.8,317.20 262.2,317.20 262.6,317.20 263.0,317.20 263.4,317.20 263.8,317.20 264.2,317.20 264.6,317.20 265.0,317.20 265.4,317.20 265.8,317.20 266.2,317.20 266.6,317.20 267.0,317.20 267.4,317.20 267.8,317.20 268.2,317.20 268.6,317.20 269.0,317.20 269.4,317.20 269.8,317.20 270.2,317.20 270.6,317.20 271.0,317.20 271.4,317.20 271.8,317.20 272.2,317.20 272.6,317.20 273.0,317.20 273.4,317.20 273.8,317.20 274.2,317.20 274.6,317.20 275.0,317.20 275.4,317.20 275.8,317.20 276.2,317.20 276.6,317.20" fill="#1f4a86"/>
<line x1="13" y1="317.2" x2="276.6" y2="317.2" stroke="#1f4a86" stroke-width="0.5" stroke-opacity="0.6"/>
<polygon points="13.0,325.00 13.0,325.00 13.4,325.00 13.8,325.00 14.2,325.00 14.6,325.00 15.0,325.00 15.4,325.00 15.8,325.00 16.2,325.00 16.6,325.00 17.0,325.00 17.4,325.00 17.8,325.00 18.2,325.00 18.6,325.00 19.0,325.00 19.4,325.00 19.8,325.00 20.2,325.00 20.6,325.00 21.0,325.00 21.4,325.00 21.8,325.00 22.2,325.00 22.6,325.00 23.0,325.00 23.4,325.00 23.8,325.00 24.2,325.00 24.6,325.00 25.0,325.00 25.4,325.00 25.8,325.00 26.2,325.00 26.6,325.00 27.0,325.00 27.4,325.00 27.8,325.00 28.2,325.00 28.6,325.00 29.0,325.00 29.4,325.00 29.8,325.00 30.2,325.00 30.6,325.00 31.0,325.00 31.4,325.00 31.8,325.00 32.2,325.00 32.6,325.00 33.0,325.00 33.4,325.00 33.8,325.00 34.2,325.00 34.6,325.00 35.0,325.00 35.4,325.00 35.8,325.00 36.2,325.00 36.6,325.00 37.0,325.00 37.4,325.00 37.8,325.00 38.2,325.00 38.6,325.00 39.0,325.00 39.4,325.00 39.8,325.00 40.2,325.00 40.6,325.00 41.0,325.00 41.4,325.00 41.8,325.00 42.2,325.00 42.6,325.00 43.0,325.00 43.4,325.00 43.8,325.00 44.2,325.00 44.6,325.00 45.0,325.00 45.4,325.00 45.8,325.00 46.2,325.00 46.6,325.00 47.0,325.00 47.4,325.00 47.8,325.00 48.2,325.00 48.6,325.00 49.0,325.00 49.4,325.00 49.8,325.00 50.2,325.00 50.6,325.00 51.0,325.00 51.4,325.00 51.8,325.00 52.2,325.00 52.6,325.00 53.0,325.00 53.4,325.00 53.8,325.00 54.2,325.00 54.6,325.00 55.0,325.00 55.4,325.00 55.8,325.00 56.2,325.00 56.6,325.00 57.0,325.00 57.4,325.00 57.8,325.00 58.2,325.00 58.6,325.00 59.0,325.00 59.4,325.00 59.8,325.00 60.2,325.00 60.6,325.00 61.0,325.00 61.4,325.00 61.8,325.00 62.2,325.00 62.6,325.00 63.0,325.00 63.4,325.00 63.8,325.00 64.2,325.00 64.6,325.00 65.0,325.00 65.4,325.00 65.8,325.00 66.2,325.00 66.6,325.00 67.0,325.00 67.4,325.00 67.8,325.00 68.2,325.00 68.6,325.00 69.0,325.00 69.4,325.00 69.8,325.00 70.2,325.00 70.6,325.00 71.0,325.00 71.4,325.00 71.8,325.00 72.2,325.00 72.6,325.00 73.0,325.00 73.4,325.00 73.8,325.00 74.2,325.00 74.6,325.00 75.0,325.00 75.4,325.00 75.8,325.00 76.2,325.00 76.6,325.00 77.0,325.00 77.4,325.00 77.8,325.00 78.2,325.00 78.6,325.00 79.0,325.00 79.4,325.00 79.8,325.00 80.2,325.00 80.6,325.00 81.0,325.00 81.4,325.00 81.8,325.00 82.2,325.00 82.6,325.00 83.0,325.00 83.4,325.00 83.8,325.00 84.2,325.00 84.6,325.00 85.0,325.00 85.4,325.00 85.8,325.00 86.2,325.00 86.6,325.00 87.0,325.00 87.4,325.00 87.8,325.00 88.2,325.00 88.6,325.00 89.0,325.00 89.4,325.00 89.8,325.00 90.2,325.00 90.6,325.00 91.0,325.00 91.4,325.00 91.8,325.00 92.2,325.00 92.6,325.00 93.0,325.00 93.4,325.00 93.8,325.00 94.2,325.00 94.6,325.00 95.0,325.00 95.4,325.00 95.8,325.00 96.2,325.00 96.6,325.00 97.0,325.00 97.4,325.00 97.8,325.00 98.2,325.00 98.6,325.00 99.0,325.00 99.4,325.00 99.8,325.00 100.2,325.00 100.6,325.00 101.0,325.00 101.4,325.00 101.8,325.00 102.2,325.00 102.6,325.00 103.0,325.00 103.4,325.00 103.8,325.00 104.2,325.00 104.6,325.00 105.0,325.00 105.4,325.00 105.8,325.00 106.2,325.00 106.6,325.00 107.0,325.00 107.4,325.00 107.8,325.00 108.2,325.00 108.6,325.00 109.0,325.00 109.4,325.00 109.8,325.00 110.2,325.00 110.6,325.00 111.0,325.00 111.4,325.00 111.8,325.00 112.2,325.00 112.6,325.00 113.0,325.00 113.4,325.00 113.8,325.00 114.2,325.00 114.6,325.00 115.0,325.00 115.4,325.00 115.8,325.00 116.2,325.00 116.6,325.00 117.0,325.00 117.4,325.00 117.8,325.00 118.2,325.00 118.6,325.00 119.0,325.00 119.4,325.00 119.8,325.00 120.2,325.00 120.6,325.00 121.0,325.00 121.4,325.00 121.8,325.00 122.2,325.00 122.6,325.00 123.0,325.00 123.4,325.00 123.8,325.00 124.2,325.00 124.6,325.00 125.0,325.00 125.4,325.00 125.8,325.00 126.2,325.00 126.6,325.00 127.0,325.00 127.4,325.00 127.8,325.00 128.2,325.00 128.6,325.00 129.0,325.00 129.4,325.00 129.8,325.00 130.2,325.00 130.6,325.00 131.0,325.00 131.4,325.00 131.8,325.00 132.2,325.00 132.6,325.00 133.0,325.00 133.4,325.00 133.8,325.00 134.2,325.00 134.6,325.00 135.0,325.00 135.4,325.00 135.8,325.00 136.2,325.00 136.6,325.00 137.0,325.00 137.4,325.00 137.8,325.00 138.2,325.00 138.6,325.00 139.0,325.00 139.4,325.00 139.8,325.00 140.2,325.00 140.6,325.00 141.0,325.00 141.4,325.00 141.8,325.00 142.2,325.00 142.6,325.00 143.0,325.00 143.4,325.00 143.8,325.00 144.2,325.00 144.6,325.00 145.0,325.00 145.4,325.00 145.8,325.00 146.2,325.00 146.6,325.00 147.0,325.00 147.4,325.00 147.8,325.00 148.2,325.00 148.6,325.00 149.0,325.00 149.4,325.00 149.8,325.00 150.2,325.00 150.6,325.00 151.0,325.00 151.4,325.00 151.8,325.00 152.2,325.00 152.6,325.00 153.0,325.00 153.4,325.00 153.8,325.00 154.2,325.00 154.6,325.00 155.0,325.00 155.4,325.00 155.8,325.00 156.2,325.00 156.6,325.00 157.0,325.00 157.4,325.00 157.8,325.00 158.2,325.00 158.6,325.00 159.0,325.00 159.4,325.00 159.8,325.00 160.2,325.00 160.6,325.00 161.0,325.00 161.4,325.00 161.8,325.00 162.2,325.00 162.6,325.00 163.0,325.00 163.4,325.00 163.8,325.00 164.2,325.00 164.6,325.00 165.0,325.00 165.4,325.00 165.8,325.00 166.2,325.00 166.6,325.00 167.0,325.00 167.4,325.00 167.8,325.00 168.2,325.00 168.6,325.00 169.0,325.00 169.4,325.00 169.8,325.00 170.2,325.00 170.6,325.00 171.0,325.00 171.4,325.00 171.8,325.00 172.2,325.00 172.6,325.00 173.0,325.00 173.4,325.00 173.8,325.00 174.2,325.00 174.6,325.00 175.0,325.00 175.4,325.00 175.8,325.00 176.2,325.00 176.6,325.00 177.0,325.00 177.4,325.00 177.8,325.00 178.2,325.00 178.6,325.00 179.0,325.00 179.4,325.00 179.8,325.00 180.2,325.00 180.6,325.00 181.0,325.00 181.4,325.00 181.8,325.00 182.2,325.00 182.6,325.00 183.0,325.00 183.4,325.00 183.8,325.00 184.2,325.00 184.6,325.00 185.0,325.00 185.4,325.00 185.8,325.00 186.2,325.00 186.6,325.00 187.0,325.00 187.4,325.00 187.8,325.00 188.2,325.00 188.6,325.00 189.0,325.00 189.4,325.00 189.8,325.00 190.2,325.00 190.6,325.00 191.0,325.00 191.4,325.00 191.8,325.00 192.2,325.00 192.6,325.00 193.0,325.00 193.4,325.00 193.8,325.00 194.2,324.99 194.6,324.93 195.0,324.60 195.4,323.77 195.8,322.82 196.2,322.82 196.6,323.77 197.0,324.60 197.4,324.93 197.8,324.99 198.2,324.99 198.6,324.91 199.0,324.65 199.4,324.34 199.8,324.34 200.2,324.65 200.6,324.91 201.0,324.99 201.4,325.00 201.8,325.00 202.2,325.00 202.6,325.00 203.0,325.00 203.4,325.00 203.8,324.99 204.2,324.93 204.6,324.66 205.0,324.08 205.4,323.59 205.8,323.77 206.2,324.40 206.6,324.83 207.0,324.97 207.4,325.00 207.8,325.00 208.2,325.00 208.6,325.00 209.0,325.00 209.4,325.00 209.8,325.00 210.2,324.99 210.6,324.95 211.0,324.73 211.4,324.15 211.8,323.49 212.2,323.49 212.6,324.15 213.0,324.73 213.4,324.95 213.8,324.99 214.2,325.00 214.6,324.99 215.0,324.92 215.4,324.54 215.8,323.58 216.2,322.49 216.6,322.49 217.0,323.58 217.4,324.54 217.8,324.92 218.2,324.99 218.6,325.00 219.0,325.00 219.4,325.00 219.8,325.00 220.2,325.00 220.6,325.00 221.0,325.00 221.4,325.00 221.8,325.00 222.2,325.00 222.6,325.00 223.0,325.00 223.4,325.00 223.8,325.00 224.2,325.00 224.6,325.00 225.0,325.00 225.4,325.00 225.8,325.00 226.2,325.00 226.6,325.00 227.0,325.00 227.4,325.00 227.8,325.00 228.2,325.00 228.6,325.00 229.0,325.00 229.4,324.96 229.8,324.57 230.2,322.98 230.6,321.06 231.0,321.85 231.4,323.96 231.8,324.86 232.2,324.99 232.6,324.99 233.0,324.91 233.4,324.65 233.8,324.34 234.2,324.34 234.6,324.65 235.0,324.91 235.4,324.99 235.8,325.00 236.2,325.00 236.6,325.00 237.0,325.00 237.4,325.00 237.8,325.00 238.2,325.00 238.6,325.00 239.0,325.00 239.4,325.00 239.8,325.00 240.2,325.00 240.6,325.00 241.0,325.00 241.4,325.00 241.8,325.00 242.2,325.00 242.6,325.00 243.0,325.00 243.4,325.00 243.8,325.00 244.2,325.00 244.6,325.00 245.0,325.00 245.4,325.00 245.8,325.00 246.2,325.00 246.6,325.00 247.0,325.00 247.4,325.00 247.8,325.00 248.2,325.00 248.6,325.00 249.0,325.00 249.4,325.00 249.8,325.00 250.2,325.00 250.6,325.00 251.0,325.00 251.4,325.00 251.8,325.00 252.2,325.00 252.6,325.00 253.0,325.00 253.4,325.00 253.8,325.00 254.2,325.00 254.6,325.00 255.0,325.00 255.4,325.00 255.8,325.00 256.2,325.00 256.6,325.00 257.0,325.00 257.4,325.00 257.8,325.00 258.2,325.00 258.6,325.00 259.0,325.00 259.4,325.00 259.8,325.00 260.2,325.00 260.6,325.00 261.0,325.00 261.4,325.00 261.8,325.00 262.2,325.00 262.6,325.00 263.0,325.00 263.4,325.00 263.8,325.00 264.2,325.00 264.6,325.00 265.0,325.00 265.4,325.00 265.8,325.00 266.2,325.00 266.6,325.00 267.0,325.00 267.4,325.00 267.8,325.00 268.2,325.00 268.6,325.00 269.0,325.00 269.4,325.00 269.8,325.00 270.2,325.00 270.6,325.00 271.0,325.00 271.4,325.00 271.8,325.00 272.2,325.00 272.6,325.00 273.0,325.00 273.4,325.00 273.8,325.00 274.2,325.00 274.6,325.00 275.0,325.00 275.4,325.00 275.8,325.00 276.2,325.00 276.6,325.00" fill="#3aa83a"/>
<line x1="13" y1="325.0" x2="276.6" y2="325.0" stroke="#3aa83a" stroke-width="0.5" stroke-opacity="0.6"/>
<text x="105.8" y="308.6" font-size="7.4" text-anchor="start" fill="#d0364c" stroke="#d0364c" stroke-width="0.18">Control</text>
<text x="105.8" y="316.6" font-size="7.4" text-anchor="start" fill="#38649e" stroke="#38649e" stroke-width="0.18">GFP−</text>
<text x="105.8" y="324.6" font-size="7.4" text-anchor="start" fill="#4cae48" stroke="#4cae48" stroke-width="0.18">GFP+</text>
<text x="11.4" y="315.3" font-size="5.0" text-anchor="middle" fill="#444" font-weight="bold" transform="rotate(-90 11.4 315.3)">[0 - 1.92]</text>
<text x="132.9" y="342.2" font-size="7.4" text-anchor="start" fill="#222" textLength="50.3" lengthAdjust="spacingAndGlyphs" stroke="#222" stroke-width="0.18">PTPRC - CD45</text>
<line x1="69.5" y1="346.3" x2="221" y2="346.3" stroke="#5a78a8" stroke-width="0.6"/>
<line x1="71.5" y1="346.3" x2="221" y2="346.3" stroke="#1f3f7a" stroke-width="1.5" stroke-dasharray="0.6,4.6" stroke-opacity="0.55"/>
<rect x="69.2" y="344.80" width="0.7" height="3" fill="#1f3f7a"/>
<rect x="136.0" y="345.20" width="0.9" height="2.2" fill="#1f3f7a"/>
<rect x="140.0" y="345.20" width="0.9" height="2.2" fill="#1f3f7a"/>
<rect x="143.5" y="345.20" width="0.9" height="2.2" fill="#1f3f7a"/>
<rect x="146.0" y="345.20" width="0.9" height="2.2" fill="#1f3f7a"/>
<rect x="149.0" y="345.20" width="0.9" height="2.2" fill="#1f3f7a"/>
<rect x="151.5" y="345.20" width="0.9" height="2.2" fill="#1f3f7a"/>
<rect x="154.0" y="345.20" width="0.9" height="2.2" fill="#1f3f7a"/>
<rect x="158.0" y="345.20" width="0.9" height="2.2" fill="#1f3f7a"/>
<rect x="160.5" y="345.20" width="0.9" height="2.2" fill="#1f3f7a"/>
<rect x="163.0" y="345.20" width="0.9" height="2.2" fill="#1f3f7a"/>
<rect x="166.5" y="345.20" width="0.9" height="2.2" fill="#1f3f7a"/>
<rect x="170.0" y="345.20" width="0.9" height="2.2" fill="#1f3f7a"/>
<rect x="173.0" y="345.20" width="0.9" height="2.2" fill="#1f3f7a"/>
<rect x="176.0" y="345.20" width="0.9" height="2.2" fill="#1f3f7a"/>
<rect x="179.0" y="345.20" width="0.9" height="2.2" fill="#1f3f7a"/>
<rect x="186.0" y="345.20" width="0.9" height="2.2" fill="#1f3f7a"/>
<rect x="190.5" y="345.20" width="0.9" height="2.2" fill="#1f3f7a"/>
<rect x="192.3" y="345.20" width="0.9" height="2.2" fill="#1f3f7a"/>
<rect x="201.5" y="345.20" width="0.9" height="2.2" fill="#1f3f7a"/>
<rect x="203.3" y="345.20" width="0.9" height="2.2" fill="#1f3f7a"/>
<rect x="208.8" y="345.20" width="0.9" height="2.2" fill="#1f3f7a"/>
<rect x="213.3" y="345.20" width="0.9" height="2.2" fill="#1f3f7a"/>
<rect x="216.4" y="345.20" width="0.9" height="2.2" fill="#1f3f7a"/>
<rect x="219.5" y="345.20" width="0.9" height="2.2" fill="#1f3f7a"/>
<polygon points="13.0,359.00 13.0,359.00 13.4,359.00 13.8,359.00 14.2,359.00 14.6,359.00 15.0,359.00 15.4,359.00 15.8,359.00 16.2,359.00 16.6,359.00 17.0,359.00 17.4,359.00 17.8,359.00 18.2,359.00 18.6,359.00 19.0,359.00 19.4,359.00 19.8,359.00 20.2,359.00 20.6,359.00 21.0,359.00 21.4,359.00 21.8,359.00 22.2,359.00 22.6,359.00 23.0,359.00 23.4,359.00 23.8,359.00 24.2,359.00 24.6,359.00 25.0,359.00 25.4,359.00 25.8,359.00 26.2,359.00 26.6,359.00 27.0,359.00 27.4,359.00 27.8,359.00 28.2,359.00 28.6,359.00 29.0,359.00 29.4,359.00 29.8,359.00 30.2,359.00 30.6,359.00 31.0,359.00 31.4,359.00 31.8,359.00 32.2,359.00 32.6,359.00 33.0,359.00 33.4,359.00 33.8,359.00 34.2,359.00 34.6,359.00 35.0,359.00 35.4,359.00 35.8,358.99 36.2,358.96 36.6,358.85 37.0,358.69 37.4,358.60 37.8,358.69 38.2,358.85 38.6,358.96 39.0,358.99 39.4,359.00 39.8,359.00 40.2,359.00 40.6,359.00 41.0,359.00 41.4,359.00 41.8,359.00 42.2,359.00 42.6,359.00 43.0,359.00 43.4,359.00 43.8,359.00 44.2,359.00 44.6,359.00 45.0,359.00 45.4,358.97 45.8,358.83 46.2,358.41 46.6,357.75 47.0,357.40 47.4,357.75 47.8,358.41 48.2,358.83 48.6,358.97 49.0,359.00 49.4,359.00 49.8,359.00 50.2,359.00 50.6,359.00 51.0,359.00 51.4,359.00 51.8,359.00 52.2,359.00 52.6,359.00 53.0,359.00 53.4,359.00 53.8,359.00 54.2,359.00 54.6,359.00 55.0,359.00 55.4,359.00 55.8,359.00 56.2,359.00 56.6,359.00 57.0,359.00 57.4,359.00 57.8,359.00 58.2,359.00 58.6,359.00 59.0,359.00 59.4,359.00 59.8,359.00 60.2,359.00 60.6,359.00 61.0,359.00 61.4,359.00 61.8,358.99 62.2,358.96 62.6,358.83 63.0,358.54 63.4,358.25 63.8,358.25 64.2,358.54 64.6,358.83 65.0,358.96 65.4,358.99 65.8,359.00 66.2,359.00 66.6,359.00 67.0,359.00 67.4,359.00 67.8,358.99 68.2,358.92 68.6,358.63 69.0,358.00 69.4,357.35 69.8,357.33 70.2,357.92 70.6,358.32 71.0,358.16 71.4,357.89 71.8,358.03 72.2,358.48 72.6,358.83 73.0,358.97 73.4,359.00 73.8,359.00 74.2,359.00 74.6,359.00 75.0,359.00 75.4,359.00 75.8,359.00 76.2,359.00 76.6,359.00 77.0,359.00 77.4,359.00 77.8,359.00 78.2,359.00 78.6,359.00 79.0,359.00 79.4,359.00 79.8,359.00 80.2,359.00 80.6,359.00 81.0,359.00 81.4,359.00 81.8,359.00 82.2,359.00 82.6,359.00 83.0,359.00 83.4,358.99 83.8,358.94 84.2,358.79 84.6,358.56 85.0,358.44 85.4,358.56 85.8,358.79 86.2,358.94 86.6,358.99 87.0,359.00 87.4,359.00 87.8,358.98 88.2,358.95 88.6,358.86 89.0,358.69 89.4,358.41 89.8,358.04 90.2,357.67 90.6,357.43 91.0,357.43 91.4,357.67 91.8,358.04 92.2,358.41 92.6,358.69 93.0,358.86 93.4,358.95 93.8,358.98 94.2,359.00 94.6,359.00 95.0,359.00 95.4,359.00 95.8,359.00 96.2,359.00 96.6,359.00 97.0,359.00 97.4,359.00 97.8,359.00 98.2,359.00 98.6,359.00 99.0,359.00 99.4,359.00 99.8,358.99 100.2,358.93 100.6,358.78 101.0,358.47 101.4,358.07 101.8,357.81 102.2,357.90 102.6,358.26 103.0,358.64 103.4,358.87 103.8,358.97 104.2,358.99 104.6,359.00 105.0,359.00 105.4,358.99 105.8,358.95 106.2,358.82 106.6,358.63 107.0,358.52 107.4,358.63 107.8,358.82 108.2,358.95 108.6,358.99 109.0,359.00 109.4,359.00 109.8,359.00 110.2,358.98 110.6,358.90 111.0,358.73 111.4,358.55 111.8,358.55 112.2,358.73 112.6,358.90 113.0,358.98 113.4,359.00 113.8,359.00 114.2,359.00 114.6,359.00 115.0,359.00 115.4,359.00 115.8,359.00 116.2,359.00 116.6,359.00 117.0,359.00 117.4,359.00 117.8,359.00 118.2,359.00 118.6,359.00 119.0,359.00 119.4,359.00 119.8,359.00 120.2,359.00 120.6,359.00 121.0,359.00 121.4,359.00 121.8,359.00 122.2,358.99 122.6,358.66 123.0,356.51 123.4,356.51 123.8,358.66 124.2,358.99 124.6,359.00 125.0,359.00 125.4,359.00 125.8,359.00 126.2,359.00 126.6,359.00 127.0,359.00 127.4,359.00 127.8,359.00 128.2,359.00 128.6,359.00 129.0,359.00 129.4,359.00 129.8,359.00 130.2,359.00 130.6,359.00 131.0,359.00 131.4,359.00 131.8,359.00 132.2,359.00 132.6,359.00 133.0,359.00 133.4,359.00 133.8,359.00 134.2,359.00 134.6,359.00 135.0,359.00 135.4,359.00 135.8,359.00 136.2,359.00 136.6,359.00 137.0,359.00 137.4,359.00 137.8,359.00 138.2,359.00 138.6,359.00 139.0,359.00 139.4,359.00 139.8,359.00 140.2,359.00 140.6,359.00 141.0,359.00 141.4,359.00 141.8,359.00 142.2,359.00 142.6,359.00 143.0,359.00 143.4,359.00 143.8,359.00 144.2,359.00 144.6,359.00 145.0,359.00 145.4,359.00 145.8,359.00 146.2,359.00 146.6,359.00 147.0,359.00 147.4,359.00 147.8,359.00 148.2,359.00 148.6,359.00 149.0,359.00 149.4,359.00 149.8,359.00 150.2,359.00 150.6,359.00 151.0,359.00 151.4,359.00 151.8,359.00 152.2,359.00 152.6,359.00 153.0,359.00 153.4,359.00 153.8,359.00 154.2,359.00 154.6,359.00 155.0,359.00 155.4,359.00 155.8,359.00 156.2,359.00 156.6,359.00 157.0,359.00 157.4,359.00 157.8,359.00 158.2,359.00 158.6,359.00 159.0,359.00 159.4,359.00 159.8,359.00 160.2,359.00 160.6,359.00 161.0,359.00 161.4,359.00 161.8,359.00 162.2,359.00 162.6,359.00 163.0,359.00 163.4,359.00 163.8,359.00 164.2,359.00 164.6,359.00 165.0,359.00 165.4,359.00 165.8,359.00 166.2,359.00 166.6,359.00 167.0,359.00 167.4,359.00 167.8,359.00 168.2,359.00 168.6,359.00 169.0,359.00 169.4,359.00 169.8,359.00 170.2,359.00 170.6,359.00 171.0,359.00 171.4,359.00 171.8,359.00 172.2,359.00 172.6,359.00 173.0,359.00 173.4,359.00 173.8,359.00 174.2,359.00 174.6,359.00 175.0,359.00 175.4,359.00 175.8,359.00 176.2,359.00 176.6,359.00 177.0,359.00 177.4,359.00 177.8,359.00 178.2,359.00 178.6,359.00 179.0,359.00 179.4,359.00 179.8,359.00 180.2,359.00 180.6,359.00 181.0,359.00 181.4,359.00 181.8,359.00 182.2,359.00 182.6,359.00 183.0,359.00 183.4,359.00 183.8,359.00 184.2,359.00 184.6,359.00 185.0,359.00 185.4,359.00 185.8,359.00 186.2,359.00 186.6,359.00 187.0,359.00 187.4,359.00 187.8,359.00 188.2,359.00 188.6,359.00 189.0,359.00 189.4,359.00 189.8,359.00 190.2,359.00 190.6,359.00 191.0,359.00 191.4,359.00 191.8,359.00 192.2,359.00 192.6,359.00 193.0,359.00 193.4,359.00 193.8,359.00 194.2,359.00 194.6,359.00 195.0,359.00 195.4,359.00 195.8,359.00 196.2,359.00 196.6,359.00 197.0,359.00 197.4,359.00 197.8,359.00 198.2,359.00 198.6,359.00 199.0,359.00 199.4,359.00 199.8,359.00 200.2,359.00 200.6,359.00 201.0,359.00 201.4,359.00 201.8,359.00 202.2,359.00 202.6,359.00 203.0,359.00 203.4,359.00 203.8,359.00 204.2,359.00 204.6,359.00 205.0,359.00 205.4,359.00 205.8,359.00 206.2,359.00 206.6,359.00 207.0,359.00 207.4,359.00 207.8,359.00 208.2,359.00 208.6,359.00 209.0,359.00 209.4,359.00 209.8,359.00 210.2,359.00 210.6,359.00 211.0,359.00 211.4,359.00 211.8,359.00 212.2,359.00 212.6,359.00 213.0,359.00 213.4,359.00 213.8,359.00 214.2,359.00 214.6,359.00 215.0,359.00 215.4,359.00 215.8,359.00 216.2,359.00 216.6,359.00 217.0,359.00 217.4,359.00 217.8,359.00 218.2,359.00 218.6,359.00 219.0,359.00 219.4,359.00 219.8,359.00 220.2,359.00 220.6,359.00 221.0,359.00 221.4,359.00 221.8,359.00 222.2,359.00 222.6,359.00 223.0,359.00 223.4,359.00 223.8,359.00 224.2,359.00 224.6,359.00 225.0,359.00 225.4,358.99 225.8,358.96 226.2,358.85 226.6,358.69 227.0,358.60 227.4,358.69 227.8,358.85 228.2,358.96 228.6,358.99 229.0,359.00 229.4,359.00 229.8,359.00 230.2,359.00 230.6,359.00 231.0,359.00 231.4,359.00 231.8,359.00 232.2,359.00 232.6,359.00 233.0,359.00 233.4,359.00 233.8,359.00 234.2,359.00 234.6,359.00 235.0,359.00 235.4,359.00 235.8,359.00 236.2,359.00 236.6,359.00 237.0,359.00 237.4,359.00 237.8,359.00 238.2,359.00 238.6,359.00 239.0,359.00 239.4,359.00 239.8,359.00 240.2,359.00 240.6,359.00 241.0,359.00 241.4,359.00 241.8,359.00 242.2,359.00 242.6,359.00 243.0,359.00 243.4,358.98 243.8,358.59 244.2,357.03 244.6,357.03 245.0,358.59 245.4,358.98 245.8,359.00 246.2,359.00 246.6,359.00 247.0,359.00 247.4,359.00 247.8,359.00 248.2,359.00 248.6,359.00 249.0,359.00 249.4,359.00 249.8,359.00 250.2,359.00 250.6,359.00 251.0,359.00 251.4,359.00 251.8,359.00 252.2,359.00 252.6,359.00 253.0,359.00 253.4,359.00 253.8,359.00 254.2,359.00 254.6,359.00 255.0,359.00 255.4,359.00 255.8,359.00 256.2,359.00 256.6,359.00 257.0,359.00 257.4,358.99 257.8,358.96 258.2,358.85 258.6,358.69 259.0,358.60 259.4,358.69 259.8,358.85 260.2,358.96 260.6,358.99 261.0,359.00 261.4,359.00 261.8,359.00 262.2,359.00 262.6,359.00 263.0,359.00 263.4,359.00 263.8,359.00 264.2,359.00 264.6,359.00 265.0,359.00 265.4,359.00 265.8,359.00 266.2,359.00 266.6,359.00 267.0,359.00 267.4,359.00 267.8,359.00 268.2,359.00 268.6,359.00 269.0,359.00 269.4,359.00 269.8,359.00 270.2,359.00 270.6,359.00 271.0,359.00 271.4,359.00 271.8,359.00 272.2,359.00 272.6,359.00 273.0,359.00 273.4,359.00 273.8,359.00 274.2,359.00 274.6,359.00 275.0,359.00 275.4,359.00 275.8,359.00 276.2,359.00 276.6,359.00" fill="#c8283c"/>
<line x1="13" y1="359.0" x2="276.6" y2="359.0" stroke="#c8283c" stroke-width="0.5" stroke-opacity="0.6"/>
<polygon points="13.0,366.90 13.0,366.90 13.4,366.90 13.8,366.90 14.2,366.90 14.6,366.90 15.0,366.90 15.4,366.90 15.8,366.90 16.2,366.90 16.6,366.90 17.0,366.90 17.4,366.90 17.8,366.90 18.2,366.90 18.6,366.90 19.0,366.90 19.4,366.90 19.8,366.90 20.2,366.90 20.6,366.90 21.0,366.90 21.4,366.90 21.8,366.90 22.2,366.90 22.6,366.90 23.0,366.90 23.4,366.90 23.8,366.90 24.2,366.90 24.6,366.90 25.0,366.90 25.4,366.90 25.8,366.90 26.2,366.90 26.6,366.90 27.0,366.90 27.4,366.90 27.8,366.90 28.2,366.90 28.6,366.90 29.0,366.90 29.4,366.90 29.8,366.90 30.2,366.90 30.6,366.90 31.0,366.90 31.4,366.90 31.8,366.90 32.2,366.90 32.6,366.90 33.0,366.90 33.4,366.90 33.8,366.90 34.2,366.90 34.6,366.90 35.0,366.90 35.4,366.90 35.8,366.89 36.2,366.85 36.6,366.72 37.0,366.51 37.4,366.40 37.8,366.51 38.2,366.72 38.6,366.85 39.0,366.89 39.4,366.90 39.8,366.90 40.2,366.90 40.6,366.90 41.0,366.90 41.4,366.90 41.8,366.90 42.2,366.90 42.6,366.90 43.0,366.90 43.4,366.90 43.8,366.90 44.2,366.90 44.6,366.90 45.0,366.90 45.4,366.86 45.8,366.69 46.2,366.16 46.6,365.34 47.0,364.90 47.4,365.34 47.8,366.16 48.2,366.69 48.6,366.86 49.0,366.90 49.4,366.90 49.8,366.90 50.2,366.90 50.6,366.90 51.0,366.90 51.4,366.90 51.8,366.90 52.2,366.90 52.6,366.90 53.0,366.90 53.4,366.90 53.8,366.90 54.2,366.90 54.6,366.90 55.0,366.90 55.4,366.90 55.8,366.90 56.2,366.90 56.6,366.90 57.0,366.90 57.4,366.90 57.8,366.90 58.2,366.90 58.6,366.90 59.0,366.90 59.4,366.90 59.8,366.90 60.2,366.90 60.6,366.90 61.0,366.90 61.4,366.90 61.8,366.89 62.2,366.85 62.6,366.69 63.0,366.33 63.4,365.96 63.8,365.96 64.2,366.33 64.6,366.69 65.0,366.85 65.4,366.89 65.8,366.90 66.2,366.90 66.6,366.90 67.0,366.90 67.4,366.90 67.8,366.89 68.2,366.80 68.6,366.44 69.0,365.65 69.4,364.83 69.8,364.82 70.2,365.55 70.6,366.04 71.0,365.85 71.4,365.51 71.8,365.68 72.2,366.25 72.6,366.69 73.0,366.86 73.4,366.90 73.8,366.90 74.2,366.90 74.6,366.90 75.0,366.90 75.4,366.90 75.8,366.90 76.2,366.90 76.6,366.90 77.0,366.90 77.4,366.90 77.8,366.90 78.2,366.90 78.6,366.90 79.0,366.90 79.4,366.90 79.8,366.90 80.2,366.90 80.6,366.90 81.0,366.90 81.4,366.90 81.8,366.90 82.2,366.90 82.6,366.90 83.0,366.90 83.4,366.89 83.8,366.83 84.2,366.64 84.6,366.35 85.0,366.20 85.4,366.35 85.8,366.64 86.2,366.83 86.6,366.89 87.0,366.90 87.4,366.89 87.8,366.88 88.2,366.84 88.6,366.73 89.0,366.52 89.4,366.16 89.8,365.70 90.2,365.24 90.6,364.94 91.0,364.94 91.4,365.24 91.8,365.70 92.2,366.16 92.6,366.52 93.0,366.73 93.4,366.84 93.8,366.88 94.2,366.89 94.6,366.90 95.0,366.90 95.4,366.90 95.8,366.90 96.2,366.90 96.6,366.90 97.0,366.90 97.4,366.90 97.8,366.90 98.2,366.90 98.6,366.90 99.0,366.90 99.4,366.90 99.8,366.88 100.2,366.82 100.6,366.62 101.0,366.23 101.4,365.73 101.8,365.41 102.2,365.53 102.6,365.98 103.0,366.45 103.4,366.74 103.8,366.86 104.2,366.89 104.6,366.90 105.0,366.90 105.4,366.89 105.8,366.84 106.2,366.68 106.6,366.43 107.0,366.30 107.4,366.43 107.8,366.68 108.2,366.84 108.6,366.89 109.0,366.90 109.4,366.90 109.8,366.90 110.2,366.87 110.6,366.77 111.0,366.56 111.4,366.34 111.8,366.34 112.2,366.56 112.6,366.77 113.0,366.87 113.4,366.90 113.8,366.90 114.2,366.90 114.6,366.90 115.0,366.90 115.4,366.90 115.8,366.90 116.2,366.90 116.6,366.90 117.0,366.90 117.4,366.90 117.8,366.90 118.2,366.90 118.6,366.90 119.0,366.90 119.4,366.90 119.8,366.90 120.2,366.90 120.6,366.90 121.0,366.90 121.4,366.90 121.8,366.90 122.2,366.89 122.6,366.48 123.0,363.78 123.4,363.78 123.8,366.48 124.2,366.89 124.6,366.90 125.0,366.90 125.4,366.90 125.8,366.90 126.2,366.90 126.6,366.90 127.0,366.90 127.4,366.90 127.8,366.90 128.2,366.90 128.6,366.90 129.0,366.90 129.4,366.90 129.8,366.90 130.2,366.90 130.6,366.90 131.0,366.90 131.4,366.90 131.8,366.90 132.2,366.90 132.6,366.90 133.0,366.90 133.4,366.90 133.8,366.90 134.2,366.90 134.6,366.90 135.0,366.90 135.4,366.90 135.8,366.90 136.2,366.90 136.6,366.90 137.0,366.90 137.4,366.90 137.8,366.90 138.2,366.90 138.6,366.90 139.0,366.90 139.4,366.90 139.8,366.90 140.2,366.90 140.6,366.90 141.0,366.90 141.4,366.90 141.8,366.90 142.2,366.90 142.6,366.90 143.0,366.90 143.4,366.90 143.8,366.90 144.2,366.90 144.6,366.90 145.0,366.90 145.4,366.90 145.8,366.90 146.2,366.90 146.6,366.90 147.0,366.90 147.4,366.90 147.8,366.90 148.2,366.90 148.6,366.90 149.0,366.90 149.4,366.90 149.8,366.90 150.2,366.90 150.6,366.90 151.0,366.90 151.4,366.90 151.8,366.90 152.2,366.90 152.6,366.90 153.0,366.90 153.4,366.90 153.8,366.90 154.2,366.90 154.6,366.90 155.0,366.90 155.4,366.90 155.8,366.90 156.2,366.90 156.6,366.90 157.0,366.90 157.4,366.90 157.8,366.90 158.2,366.90 158.6,366.90 159.0,366.90 159.4,366.90 159.8,366.90 160.2,366.90 160.6,366.90 161.0,366.90 161.4,366.90 161.8,366.90 162.2,366.90 162.6,366.90 163.0,366.90 163.4,366.90 163.8,366.90 164.2,366.90 164.6,366.90 165.0,366.90 165.4,366.90 165.8,366.90 166.2,366.90 166.6,366.90 167.0,366.90 167.4,366.90 167.8,366.90 168.2,366.90 168.6,366.90 169.0,366.90 169.4,366.90 169.8,366.90 170.2,366.90 170.6,366.90 171.0,366.90 171.4,366.90 171.8,366.90 172.2,366.90 172.6,366.90 173.0,366.90 173.4,366.90 173.8,366.90 174.2,366.90 174.6,366.90 175.0,366.90 175.4,366.90 175.8,366.90 176.2,366.90 176.6,366.90 177.0,366.90 177.4,366.90 177.8,366.90 178.2,366.90 178.6,366.90 179.0,366.90 179.4,366.90 179.8,366.90 180.2,366.90 180.6,366.90 181.0,366.90 181.4,366.90 181.8,366.90 182.2,366.90 182.6,366.90 183.0,366.90 183.4,366.90 183.8,366.90 184.2,366.90 184.6,366.90 185.0,366.90 185.4,366.90 185.8,366.90 186.2,366.90 186.6,366.90 187.0,366.90 187.4,366.90 187.8,366.90 188.2,366.90 188.6,366.90 189.0,366.90 189.4,366.90 189.8,366.90 190.2,366.90 190.6,366.90 191.0,366.90 191.4,366.90 191.8,366.90 192.2,366.90 192.6,366.90 193.0,366.90 193.4,366.90 193.8,366.90 194.2,366.90 194.6,366.90 195.0,366.90 195.4,366.90 195.8,366.90 196.2,366.90 196.6,366.90 197.0,366.90 197.4,366.90 197.8,366.90 198.2,366.90 198.6,366.90 199.0,366.90 199.4,366.90 199.8,366.90 200.2,366.90 200.6,366.90 201.0,366.90 201.4,366.90 201.8,366.90 202.2,366.90 202.6,366.90 203.0,366.90 203.4,366.90 203.8,366.90 204.2,366.90 204.6,366.90 205.0,366.90 205.4,366.90 205.8,366.90 206.2,366.90 206.6,366.90 207.0,366.90 207.4,366.90 207.8,366.90 208.2,366.90 208.6,366.90 209.0,366.90 209.4,366.90 209.8,366.90 210.2,366.90 210.6,366.90 211.0,366.90 211.4,366.90 211.8,366.90 212.2,366.90 212.6,366.90 213.0,366.90 213.4,366.90 213.8,366.90 214.2,366.90 214.6,366.90 215.0,366.90 215.4,366.90 215.8,366.90 216.2,366.90 216.6,366.90 217.0,366.90 217.4,366.90 217.8,366.90 218.2,366.90 218.6,366.90 219.0,366.90 219.4,366.90 219.8,366.90 220.2,366.90 220.6,366.90 221.0,366.90 221.4,366.90 221.8,366.90 222.2,366.90 222.6,366.90 223.0,366.90 223.4,366.90 223.8,366.90 224.2,366.90 224.6,366.90 225.0,366.90 225.4,366.89 225.8,366.85 226.2,366.72 226.6,366.51 227.0,366.40 227.4,366.51 227.8,366.72 228.2,366.85 228.6,366.89 229.0,366.90 229.4,366.90 229.8,366.90 230.2,366.90 230.6,366.90 231.0,366.90 231.4,366.90 231.8,366.90 232.2,366.90 232.6,366.90 233.0,366.90 233.4,366.90 233.8,366.90 234.2,366.90 234.6,366.90 235.0,366.90 235.4,366.90 235.8,366.90 236.2,366.90 236.6,366.90 237.0,366.90 237.4,366.90 237.8,366.90 238.2,366.90 238.6,366.90 239.0,366.90 239.4,366.90 239.8,366.90 240.2,366.90 240.6,366.90 241.0,366.90 241.4,366.90 241.8,366.90 242.2,366.90 242.6,366.90 243.0,366.90 243.4,366.88 243.8,366.39 244.2,364.44 244.6,364.44 245.0,366.39 245.4,366.88 245.8,366.90 246.2,366.90 246.6,366.90 247.0,366.90 247.4,366.90 247.8,366.90 248.2,366.90 248.6,366.90 249.0,366.90 249.4,366.90 249.8,366.90 250.2,366.90 250.6,366.90 251.0,366.90 251.4,366.90 251.8,366.90 252.2,366.90 252.6,366.90 253.0,366.90 253.4,366.90 253.8,366.90 254.2,366.90 254.6,366.90 255.0,366.90 255.4,366.90 255.8,366.90 256.2,366.90 256.6,366.90 257.0,366.90 257.4,366.89 257.8,366.85 258.2,366.72 258.6,366.51 259.0,366.40 259.4,366.51 259.8,366.72 260.2,366.85 260.6,366.89 261.0,366.90 261.4,366.90 261.8,366.90 262.2,366.90 262.6,366.90 263.0,366.90 263.4,366.90 263.8,366.90 264.2,366.90 264.6,366.90 265.0,366.90 265.4,366.90 265.8,366.90 266.2,366.90 266.6,366.90 267.0,366.90 267.4,366.90 267.8,366.90 268.2,366.90 268.6,366.90 269.0,366.90 269.4,366.90 269.8,366.90 270.2,366.90 270.6,366.90 271.0,366.90 271.4,366.90 271.8,366.90 272.2,366.90 272.6,366.90 273.0,366.90 273.4,366.90 273.8,366.90 274.2,366.90 274.6,366.90 275.0,366.90 275.4,366.90 275.8,366.90 276.2,366.90 276.6,366.90" fill="#1f4a86"/>
<line x1="13" y1="366.9" x2="276.6" y2="366.9" stroke="#1f4a86" stroke-width="0.5" stroke-opacity="0.6"/>
<polygon points="13.0,374.40 13.0,374.40 13.4,374.40 13.8,374.40 14.2,374.40 14.6,374.40 15.0,374.40 15.4,374.40 15.8,374.40 16.2,374.40 16.6,374.40 17.0,374.40 17.4,374.40 17.8,374.40 18.2,374.40 18.6,374.40 19.0,374.40 19.4,374.40 19.8,374.40 20.2,374.40 20.6,374.40 21.0,374.40 21.4,374.40 21.8,374.40 22.2,374.40 22.6,374.40 23.0,374.40 23.4,374.40 23.8,374.40 24.2,374.40 24.6,374.40 25.0,374.40 25.4,374.40 25.8,374.40 26.2,374.40 26.6,374.40 27.0,374.40 27.4,374.40 27.8,374.40 28.2,374.40 28.6,374.40 29.0,374.40 29.4,374.40 29.8,374.40 30.2,374.40 30.6,374.40 31.0,374.40 31.4,374.40 31.8,374.40 32.2,374.40 32.6,374.40 33.0,374.40 33.4,374.40 33.8,374.40 34.2,374.40 34.6,374.40 35.0,374.40 35.4,374.40 35.8,374.39 36.2,374.36 36.6,374.25 37.0,374.09 37.4,374.00 37.8,374.09 38.2,374.25 38.6,374.36 39.0,374.39 39.4,374.40 39.8,374.40 40.2,374.40 40.6,374.40 41.0,374.40 41.4,374.40 41.8,374.40 42.2,374.40 42.6,374.40 43.0,374.40 43.4,374.40 43.8,374.40 44.2,374.40 44.6,374.40 45.0,374.40 45.4,374.37 45.8,374.23 46.2,373.81 46.6,373.15 47.0,372.80 47.4,373.15 47.8,373.81 48.2,374.23 48.6,374.37 49.0,374.40 49.4,374.40 49.8,374.40 50.2,374.40 50.6,374.40 51.0,374.40 51.4,374.40 51.8,374.40 52.2,374.40 52.6,374.40 53.0,374.40 53.4,374.40 53.8,374.40 54.2,374.40 54.6,374.40 55.0,374.40 55.4,374.40 55.8,374.40 56.2,374.40 56.6,374.40 57.0,374.40 57.4,374.40 57.8,374.40 58.2,374.40 58.6,374.40 59.0,374.40 59.4,374.40 59.8,374.40 60.2,374.40 60.6,374.40 61.0,374.40 61.4,374.40 61.8,374.39 62.2,374.36 62.6,374.23 63.0,373.94 63.4,373.65 63.8,373.65 64.2,373.94 64.6,374.23 65.0,374.36 65.4,374.39 65.8,374.40 66.2,374.40 66.6,374.40 67.0,374.40 67.4,374.40 67.8,374.39 68.2,374.32 68.6,374.03 69.0,373.40 69.4,372.75 69.8,372.73 70.2,373.32 70.6,373.72 71.0,373.56 71.4,373.29 71.8,373.43 72.2,373.88 72.6,374.23 73.0,374.37 73.4,374.40 73.8,374.40 74.2,374.40 74.6,374.40 75.0,374.40 75.4,374.40 75.8,374.40 76.2,374.40 76.6,374.40 77.0,374.40 77.4,374.40 77.8,374.40 78.2,374.40 78.6,374.40 79.0,374.40 79.4,374.40 79.8,374.40 80.2,374.40 80.6,374.40 81.0,374.40 81.4,374.40 81.8,374.40 82.2,374.40 82.6,374.40 83.0,374.40 83.4,374.39 83.8,374.34 84.2,374.19 84.6,373.96 85.0,373.84 85.4,373.96 85.8,374.19 86.2,374.34 86.6,374.39 87.0,374.40 87.4,374.40 87.8,374.38 88.2,374.35 88.6,374.26 89.0,374.09 89.4,373.81 89.8,373.44 90.2,373.07 90.6,372.83 91.0,372.83 91.4,373.07 91.8,373.44 92.2,373.81 92.6,374.09 93.0,374.26 93.4,374.35 93.8,374.38 94.2,374.40 94.6,374.40 95.0,374.40 95.4,374.40 95.8,374.40 96.2,374.40 96.6,374.40 97.0,374.40 97.4,374.40 97.8,374.40 98.2,374.40 98.6,374.40 99.0,374.40 99.4,374.40 99.8,374.39 100.2,374.33 100.6,374.18 101.0,373.87 101.4,373.47 101.8,373.21 102.2,373.30 102.6,373.66 103.0,374.04 103.4,374.27 103.8,374.37 104.2,374.39 104.6,374.40 105.0,374.40 105.4,374.39 105.8,374.35 106.2,374.22 106.6,374.03 107.0,373.92 107.4,374.03 107.8,374.22 108.2,374.35 108.6,374.39 109.0,374.40 109.4,374.40 109.8,374.40 110.2,374.38 110.6,374.30 111.0,374.13 111.4,373.95 111.8,373.95 112.2,374.13 112.6,374.30 113.0,374.38 113.4,374.40 113.8,374.40 114.2,374.40 114.6,374.40 115.0,374.40 115.4,374.40 115.8,374.40 116.2,374.40 116.6,374.40 117.0,374.40 117.4,374.40 117.8,374.40 118.2,374.40 118.6,374.40 119.0,374.40 119.4,374.40 119.8,374.40 120.2,374.40 120.6,374.40 121.0,374.40 121.4,374.40 121.8,374.40 122.2,374.39 122.6,374.06 123.0,371.91 123.4,371.91 123.8,374.06 124.2,374.39 124.6,374.40 125.0,374.40 125.4,374.40 125.8,374.40 126.2,374.40 126.6,374.40 127.0,374.40 127.4,374.40 127.8,374.40 128.2,374.40 128.6,374.40 129.0,374.40 129.4,374.40 129.8,374.40 130.2,374.40 130.6,374.40 131.0,374.40 131.4,374.40 131.8,374.40 132.2,374.40 132.6,374.40 133.0,374.40 133.4,374.40 133.8,374.40 134.2,374.40 134.6,374.40 135.0,374.40 135.4,374.40 135.8,374.40 136.2,374.40 136.6,374.40 137.0,374.40 137.4,374.40 137.8,374.40 138.2,374.40 138.6,374.40 139.0,374.40 139.4,374.40 139.8,374.40 140.2,374.40 140.6,374.40 141.0,374.40 141.4,374.40 141.8,374.40 142.2,374.40 142.6,374.40 143.0,374.40 143.4,374.40 143.8,374.40 144.2,374.40 144.6,374.40 145.0,374.40 145.4,374.40 145.8,374.40 146.2,374.40 146.6,374.40 147.0,374.40 147.4,374.40 147.8,374.40 148.2,374.40 148.6,374.40 149.0,374.40 149.4,374.40 149.8,374.40 150.2,374.40 150.6,374.40 151.0,374.40 151.4,374.40 151.8,374.40 152.2,374.40 152.6,374.40 153.0,374.40 153.4,374.40 153.8,374.40 154.2,374.40 154.6,374.40 155.0,374.40 155.4,374.40 155.8,374.40 156.2,374.40 156.6,374.40 157.0,374.40 157.4,374.40 157.8,374.40 158.2,374.40 158.6,374.40 159.0,374.40 159.4,374.40 159.8,374.40 160.2,374.40 160.6,374.40 161.0,374.40 161.4,374.40 161.8,374.40 162.2,374.40 162.6,374.40 163.0,374.40 163.4,374.40 163.8,374.40 164.2,374.40 164.6,374.40 165.0,374.40 165.4,374.40 165.8,374.40 166.2,374.40 166.6,374.40 167.0,374.40 167.4,374.40 167.8,374.40 168.2,374.40 168.6,374.40 169.0,374.40 169.4,374.40 169.8,374.40 170.2,374.40 170.6,374.40 171.0,374.40 171.4,374.40 171.8,374.40 172.2,374.40 172.6,374.40 173.0,374.40 173.4,374.40 173.8,374.40 174.2,374.40 174.6,374.40 175.0,374.40 175.4,374.40 175.8,374.40 176.2,374.40 176.6,374.40 177.0,374.40 177.4,374.40 177.8,374.40 178.2,374.40 178.6,374.40 179.0,374.40 179.4,374.40 179.8,374.40 180.2,374.40 180.6,374.40 181.0,374.40 181.4,374.40 181.8,374.40 182.2,374.40 182.6,374.40 183.0,374.40 183.4,374.40 183.8,374.40 184.2,374.40 184.6,374.40 185.0,374.40 185.4,374.40 185.8,374.40 186.2,374.40 186.6,374.40 187.0,374.40 187.4,374.40 187.8,374.40 188.2,374.40 188.6,374.40 189.0,374.40 189.4,374.40 189.8,374.40 190.2,374.40 190.6,374.40 191.0,374.40 191.4,374.40 191.8,374.40 192.2,374.40 192.6,374.40 193.0,374.40 193.4,374.40 193.8,374.40 194.2,374.40 194.6,374.40 195.0,374.40 195.4,374.40 195.8,374.40 196.2,374.40 196.6,374.40 197.0,374.40 197.4,374.40 197.8,374.40 198.2,374.40 198.6,374.40 199.0,374.40 199.4,374.40 199.8,374.40 200.2,374.40 200.6,374.40 201.0,374.40 201.4,374.40 201.8,374.40 202.2,374.40 202.6,374.40 203.0,374.40 203.4,374.40 203.8,374.40 204.2,374.40 204.6,374.40 205.0,374.40 205.4,374.40 205.8,374.40 206.2,374.40 206.6,374.40 207.0,374.40 207.4,374.40 207.8,374.40 208.2,374.40 208.6,374.40 209.0,374.40 209.4,374.40 209.8,374.40 210.2,374.40 210.6,374.40 211.0,374.40 211.4,374.40 211.8,374.40 212.2,374.40 212.6,374.40 213.0,374.40 213.4,374.40 213.8,374.40 214.2,374.40 214.6,374.40 215.0,374.40 215.4,374.40 215.8,374.40 216.2,374.40 216.6,374.40 217.0,374.40 217.4,374.40 217.8,374.40 218.2,374.40 218.6,374.40 219.0,374.40 219.4,374.40 219.8,374.40 220.2,374.40 220.6,374.40 221.0,374.40 221.4,374.40 221.8,374.40 222.2,374.40 222.6,374.40 223.0,374.40 223.4,374.40 223.8,374.40 224.2,374.40 224.6,374.40 225.0,374.40 225.4,374.39 225.8,374.36 226.2,374.25 226.6,374.09 227.0,374.00 227.4,374.09 227.8,374.25 228.2,374.36 228.6,374.39 229.0,374.40 229.4,374.40 229.8,374.40 230.2,374.40 230.6,374.40 231.0,374.40 231.4,374.40 231.8,374.40 232.2,374.40 232.6,374.40 233.0,374.40 233.4,374.40 233.8,374.40 234.2,374.40 234.6,374.40 235.0,374.40 235.4,374.40 235.8,374.40 236.2,374.40 236.6,374.40 237.0,374.40 237.4,374.40 237.8,374.40 238.2,374.40 238.6,374.40 239.0,374.40 239.4,374.40 239.8,374.40 240.2,374.40 240.6,374.40 241.0,374.40 241.4,374.40 241.8,374.40 242.2,374.40 242.6,374.40 243.0,374.40 243.4,374.38 243.8,373.99 244.2,372.43 244.6,372.43 245.0,373.99 245.4,374.38 245.8,374.40 246.2,374.40 246.6,374.40 247.0,374.40 247.4,374.40 247.8,374.40 248.2,374.40 248.6,374.40 249.0,374.40 249.4,374.40 249.8,374.40 250.2,374.40 250.6,374.40 251.0,374.40 251.4,374.40 251.8,374.40 252.2,374.40 252.6,374.40 253.0,374.40 253.4,374.40 253.8,374.40 254.2,374.40 254.6,374.40 255.0,374.40 255.4,374.40 255.8,374.40 256.2,374.40 256.6,374.40 257.0,374.40 257.4,374.39 257.8,374.36 258.2,374.25 258.6,374.09 259.0,374.00 259.4,374.09 259.8,374.25 260.2,374.36 260.6,374.39 261.0,374.40 261.4,374.40 261.8,374.40 262.2,374.40 262.6,374.40 263.0,374.40 263.4,374.40 263.8,374.40 264.2,374.40 264.6,374.40 265.0,374.40 265.4,374.40 265.8,374.40 266.2,374.40 266.6,374.40 267.0,374.40 267.4,374.40 267.8,374.40 268.2,374.40 268.6,374.40 269.0,374.40 269.4,374.40 269.8,374.40 270.2,374.40 270.6,374.40 271.0,374.40 271.4,374.40 271.8,374.40 272.2,374.40 272.6,374.40 273.0,374.40 273.4,374.40 273.8,374.40 274.2,374.40 274.6,374.40 275.0,374.40 275.4,374.40 275.8,374.40 276.2,374.40 276.6,374.40" fill="#3aa83a"/>
<line x1="13" y1="374.4" x2="276.6" y2="374.4" stroke="#3aa83a" stroke-width="0.5" stroke-opacity="0.6"/>
<text x="153.7" y="358.0" font-size="7.4" text-anchor="start" fill="#d0364c" stroke="#d0364c" stroke-width="0.18">Control</text>
<text x="153.7" y="366.5" font-size="7.4" text-anchor="start" fill="#38649e" stroke="#38649e" stroke-width="0.18">GFP−</text>
<text x="153.7" y="374.20000000000005" font-size="7.4" text-anchor="start" fill="#4cae48" stroke="#4cae48" stroke-width="0.18">GFP+</text>
<text x="11.4" y="365" font-size="5.0" text-anchor="middle" fill="#444" font-weight="bold" transform="rotate(-90 11.4 365)">[0 - 2.91]</text>
<text x="143" y="390.4" font-size="7.4" text-anchor="start" fill="#222" stroke="#222" stroke-width="0.18">LYZ</text>
<line x1="67.4" y1="394.2" x2="221.5" y2="394.2" stroke="#5a78a8" stroke-width="0.6"/>
<line x1="69.4" y1="394.2" x2="221.5" y2="394.2" stroke="#1f3f7a" stroke-width="1.5" stroke-dasharray="0.6,4.6" stroke-opacity="0.55"/>
<rect x="67.5" y="393.00" width="4.5" height="2.4" fill="#1f3f7a"/>
<rect x="114.6" y="393.10" width="4.6" height="2.2" fill="#1f3f7a"/>
<rect x="190.0" y="393.20" width="1.2" height="2" fill="#1f3f7a"/>
<rect x="217.0" y="393.00" width="4.0" height="2.4" fill="#1f3f7a"/>
<polygon points="13.0,407.20 13.0,407.20 13.5,407.20 14.0,407.20 14.5,407.20 15.0,407.20 15.5,407.20 16.0,407.20 16.5,407.20 17.0,407.20 17.5,407.20 18.0,407.20 18.5,407.20 19.0,407.20 19.5,407.20 20.0,407.20 20.5,407.20 21.0,407.20 21.5,407.20 22.0,407.20 22.5,407.20 23.0,407.20 23.5,407.20 24.0,407.20 24.5,407.20 25.0,407.20 25.5,407.20 26.0,407.20 26.5,407.20 27.0,407.20 27.5,407.20 28.0,407.20 28.5,407.20 29.0,407.20 29.5,407.20 30.0,407.20 30.5,407.18 31.0,407.15 31.5,407.12 32.0,407.10 32.5,407.07 33.0,407.05 33.5,407.02 34.0,407.00 34.5,406.97 35.0,406.95 35.5,406.93 36.0,406.90 36.5,406.89 37.0,406.88 37.5,406.87 38.0,406.86 38.5,406.84 39.0,406.83 39.5,406.82 40.0,406.81 40.5,406.80 41.0,406.79 41.5,406.78 42.0,406.77 42.5,406.76 43.0,406.74 43.5,406.73 44.0,406.72 44.5,406.71 45.0,406.70 45.5,406.70 46.0,406.70 46.5,406.70 47.0,406.70 47.5,406.70 48.0,406.70 48.5,406.70 49.0,406.70 49.5,406.70 50.0,406.70 50.5,406.70 51.0,406.70 51.5,406.70 52.0,406.70 52.5,406.69 53.0,406.68 53.5,406.68 54.0,406.67 54.5,406.66 55.0,406.65 55.5,406.64 56.0,406.63 56.5,406.62 57.0,406.62 57.5,406.61 58.0,406.60 58.5,406.50 59.0,406.40 59.5,406.30 60.0,406.20 60.5,406.10 61.0,406.00 61.5,405.60 62.0,405.20 62.5,404.80 63.0,404.40 63.5,404.12 64.0,403.85 64.5,403.57 65.0,403.30 65.5,403.30 66.0,403.30 66.5,403.30 67.0,403.30 67.5,403.30 68.0,403.62 68.5,403.95 69.0,404.27 69.5,404.60 70.0,405.00 70.5,405.40 71.0,405.80 71.5,405.83 72.0,405.87 72.5,405.90 73.0,405.93 73.5,405.97 74.0,406.00 74.5,405.90 75.0,405.80 75.5,405.70 76.0,405.60 76.5,405.43 77.0,405.25 77.5,405.07 78.0,404.90 78.5,404.88 79.0,404.86 79.5,404.84 80.0,404.82 80.5,404.80 81.0,405.00 81.5,405.20 82.0,405.40 82.5,405.60 83.0,405.76 83.5,405.92 84.0,406.08 84.5,406.24 85.0,406.40 85.5,406.48 86.0,406.57 86.5,406.65 87.0,406.73 87.5,406.82 88.0,406.90 88.5,406.94 89.0,406.97 89.5,407.01 90.0,407.05 90.5,407.09 91.0,407.12 91.5,407.16 92.0,407.20 92.5,407.20 93.0,407.20 93.5,407.20 94.0,407.20 94.5,407.20 95.0,407.20 95.5,407.20 96.0,407.20 96.5,407.20 97.0,407.20 97.5,407.20 98.0,407.20 98.5,407.20 99.0,407.20 99.5,407.20 100.0,407.20 100.5,407.20 101.0,407.20 101.5,407.20 102.0,407.20 102.5,407.20 103.0,407.20 103.5,407.20 104.0,407.20 104.5,407.20 105.0,407.20 105.5,407.20 106.0,407.20 106.5,407.20 107.0,407.20 107.5,407.20 108.0,407.20 108.5,407.20 109.0,407.20 109.5,407.20 110.0,407.20 110.5,407.20 111.0,407.20 111.5,407.20 112.0,407.20 112.5,407.20 113.0,407.20 113.5,407.20 114.0,407.20 114.5,407.20 115.0,407.20 115.5,407.20 116.0,407.20 116.5,407.20 117.0,407.20 117.5,407.20 118.0,407.20 118.5,407.20 119.0,407.20 119.5,407.20 120.0,407.20 120.5,407.20 121.0,407.20 121.5,407.20 122.0,407.20 122.5,407.20 123.0,407.20 123.5,407.20 124.0,407.20 124.5,407.20 125.0,407.20 125.5,407.20 126.0,407.20 126.5,407.20 127.0,407.20 127.5,407.20 128.0,407.20 128.5,407.20 129.0,407.20 129.5,407.20 130.0,407.20 130.5,407.16 131.0,407.12 131.5,407.07 132.0,407.03 132.5,406.99 133.0,406.95 133.5,406.91 134.0,406.87 134.5,406.82 135.0,406.78 135.5,406.74 136.0,406.70 136.5,406.69 137.0,406.68 137.5,406.68 138.0,406.67 138.5,406.66 139.0,406.65 139.5,406.64 140.0,406.63 140.5,406.62 141.0,406.62 141.5,406.61 142.0,406.60 142.5,406.59 143.0,406.58 143.5,406.57 144.0,406.57 144.5,406.56 145.0,406.55 145.5,406.54 146.0,406.53 146.5,406.52 147.0,406.52 147.5,406.51 148.0,406.50 148.5,406.48 149.0,406.46 149.5,406.44 150.0,406.42 150.5,406.40 151.0,406.38 151.5,406.36 152.0,406.34 152.5,406.32 153.0,406.30 153.5,406.27 154.0,406.23 154.5,406.20 155.0,406.17 155.5,406.13 156.0,406.10 156.5,406.15 157.0,406.20 157.5,406.25 158.0,406.30 158.5,406.35 159.0,406.40 159.5,406.36 160.0,406.32 160.5,406.29 161.0,406.25 161.5,406.21 162.0,406.18 162.5,406.14 163.0,406.10 163.5,406.17 164.0,406.23 164.5,406.30 165.0,406.37 165.5,406.43 166.0,406.50 166.5,406.59 167.0,406.68 167.5,406.76 168.0,406.85 168.5,406.94 169.0,407.02 169.5,407.11 170.0,407.20 170.5,407.20 171.0,407.20 171.5,407.20 172.0,407.20 172.5,407.20 173.0,407.20 173.5,407.20 174.0,407.20 174.5,407.20 175.0,407.20 175.5,407.20 176.0,407.20 176.5,407.20 177.0,407.20 177.5,407.20 178.0,407.20 178.5,407.20 179.0,407.20 179.5,407.20 180.0,407.20 180.5,407.20 181.0,407.20 181.5,407.20 182.0,407.20 182.5,407.20 183.0,407.20 183.5,407.20 184.0,407.20 184.5,407.20 185.0,407.20 185.5,407.20 186.0,407.20 186.5,407.20 187.0,407.20 187.5,407.20 188.0,407.20 188.5,407.20 189.0,407.20 189.5,407.20 190.0,407.20 190.5,407.20 191.0,407.20 191.5,407.20 192.0,407.20 192.5,407.20 193.0,407.20 193.5,407.20 194.0,407.20 194.5,407.20 195.0,407.20 195.5,407.20 196.0,407.20 196.5,407.20 197.0,407.20 197.5,407.20 198.0,407.20 198.5,407.20 199.0,407.20 199.5,407.20 200.0,407.20 200.5,407.20 201.0,407.20 201.5,407.20 202.0,407.20 202.5,407.20 203.0,407.20 203.5,407.20 204.0,407.20 204.5,407.20 205.0,407.20 205.5,407.20 206.0,407.20 206.5,407.20 207.0,407.20 207.5,407.20 208.0,407.20 208.5,407.20 209.0,407.20 209.5,407.20 210.0,407.20 210.5,407.20 211.0,407.20 211.5,407.20 212.0,407.20 212.5,407.20 213.0,407.20 213.5,407.20 214.0,407.20 214.5,407.20 215.0,407.20 215.5,407.20 216.0,407.20 216.5,407.20 217.0,407.20 217.5,407.20 218.0,407.20 218.5,407.20 219.0,407.20 219.5,407.20 220.0,407.20 220.5,407.20 221.0,407.20 221.5,407.20 222.0,407.20 222.5,407.20 223.0,407.20 223.5,407.20 224.0,407.20 224.5,407.20 225.0,407.20 225.5,407.20 226.0,407.20 226.5,407.20 227.0,407.20 227.5,407.20 228.0,407.20 228.5,407.20 229.0,407.20 229.5,407.20 230.0,407.20 230.5,407.20 231.0,407.20 231.5,407.20 232.0,407.20 232.5,407.20 233.0,407.20 233.5,407.20 234.0,407.20 234.5,407.20 235.0,407.20 235.5,407.20 236.0,407.20 236.5,407.20 237.0,407.20 237.5,407.20 238.0,407.20 238.5,407.20 239.0,407.20 239.5,407.20 240.0,407.20 240.5,407.17 241.0,407.13 241.5,407.10 242.0,407.07 242.5,407.03 243.0,407.00 243.5,406.97 244.0,406.93 244.5,406.90 245.0,406.87 245.5,406.83 246.0,406.80 246.5,406.79 247.0,406.78 247.5,406.77 248.0,406.77 248.5,406.76 249.0,406.75 249.5,406.74 250.0,406.73 250.5,406.72 251.0,406.72 251.5,406.71 252.0,406.70 252.5,406.69 253.0,406.68 253.5,406.68 254.0,406.67 254.5,406.66 255.0,406.65 255.5,406.64 256.0,406.63 256.5,406.62 257.0,406.62 257.5,406.61 258.0,406.60 258.5,406.57 259.0,406.55 259.5,406.52 260.0,406.50 260.5,406.47 261.0,406.45 261.5,406.43 262.0,406.40 262.5,406.41 263.0,406.42 263.5,406.43 264.0,406.43 264.5,406.44 265.0,406.45 265.5,406.46 266.0,406.47 266.5,406.47 267.0,406.48 267.5,406.49 268.0,406.50 268.5,406.52 269.0,406.54 269.5,406.56 270.0,406.57 270.5,406.59 271.0,406.61 271.5,406.63 272.0,406.65 272.5,406.67 273.0,406.69 273.5,406.71 274.0,406.72 274.5,406.74 275.0,406.76 275.5,406.78 276.0,407.20 276.5,407.20 276.6,407.20" fill="#c8283c"/>
<line x1="13" y1="407.2" x2="276.6" y2="407.2" stroke="#c8283c" stroke-width="0.9" stroke-opacity="1.0"/>
<polygon points="13.0,415.00 13.0,415.00 13.5,415.00 14.0,415.00 14.5,415.00 15.0,415.00 15.5,415.00 16.0,415.00 16.5,415.00 17.0,415.00 17.5,415.00 18.0,415.00 18.5,415.00 19.0,415.00 19.5,415.00 20.0,415.00 20.5,415.00 21.0,415.00 21.5,415.00 22.0,415.00 22.5,415.00 23.0,415.00 23.5,415.00 24.0,415.00 24.5,415.00 25.0,415.00 25.5,415.00 26.0,415.00 26.5,415.00 27.0,415.00 27.5,415.00 28.0,415.00 28.5,415.00 29.0,415.00 29.5,415.00 30.0,415.00 30.5,414.96 31.0,414.93 31.5,414.89 32.0,414.86 32.5,414.82 33.0,414.79 33.5,414.75 34.0,414.72 34.5,414.69 35.0,414.65 35.5,414.62 36.0,414.58 36.5,414.56 37.0,414.55 37.5,414.53 38.0,414.52 38.5,414.50 39.0,414.49 39.5,414.47 40.0,414.46 40.5,414.44 41.0,414.42 41.5,414.41 42.0,414.39 42.5,414.38 43.0,414.36 43.5,414.35 44.0,414.33 44.5,414.32 45.0,414.30 45.5,414.30 46.0,414.30 46.5,414.30 47.0,414.30 47.5,414.30 48.0,414.30 48.5,414.30 49.0,414.30 49.5,414.30 50.0,414.30 50.5,414.30 51.0,414.30 51.5,414.30 52.0,414.30 52.5,414.29 53.0,414.28 53.5,414.26 54.0,414.25 54.5,414.24 55.0,414.23 55.5,414.22 56.0,414.21 56.5,414.19 57.0,414.18 57.5,414.17 58.0,414.16 58.5,414.02 59.0,413.88 59.5,413.74 60.0,413.60 60.5,413.46 61.0,413.32 61.5,412.76 62.0,412.20 62.5,411.64 63.0,411.08 63.5,410.69 64.0,410.31 64.5,409.93 65.0,409.54 65.5,409.54 66.0,409.54 66.5,409.54 67.0,409.54 67.5,409.54 68.0,410.00 68.5,410.45 69.0,410.90 69.5,411.36 70.0,411.92 70.5,412.48 71.0,413.04 71.5,413.09 72.0,413.13 72.5,413.18 73.0,413.23 73.5,413.27 74.0,413.32 74.5,413.18 75.0,413.04 75.5,412.90 76.0,412.76 76.5,412.51 77.0,412.27 77.5,412.02 78.0,411.78 78.5,411.75 79.0,411.72 79.5,411.70 80.0,411.67 80.5,411.64 81.0,411.92 81.5,412.20 82.0,412.48 82.5,412.76 83.0,412.98 83.5,413.21 84.0,413.43 84.5,413.66 85.0,413.88 85.5,414.00 86.0,414.11 86.5,414.23 87.0,414.35 87.5,414.46 88.0,414.58 88.5,414.63 89.0,414.69 89.5,414.74 90.0,414.79 90.5,414.84 91.0,414.89 91.5,414.95 92.0,415.00 92.5,415.00 93.0,415.00 93.5,415.00 94.0,415.00 94.5,415.00 95.0,415.00 95.5,415.00 96.0,415.00 96.5,415.00 97.0,415.00 97.5,415.00 98.0,415.00 98.5,415.00 99.0,415.00 99.5,415.00 100.0,415.00 100.5,415.00 101.0,415.00 101.5,415.00 102.0,415.00 102.5,415.00 103.0,415.00 103.5,415.00 104.0,415.00 104.5,415.00 105.0,415.00 105.5,415.00 106.0,415.00 106.5,415.00 107.0,415.00 107.5,415.00 108.0,415.00 108.5,415.00 109.0,415.00 109.5,415.00 110.0,415.00 110.5,415.00 111.0,415.00 111.5,415.00 112.0,415.00 112.5,415.00 113.0,415.00 113.5,415.00 114.0,415.00 114.5,415.00 115.0,415.00 115.5,415.00 116.0,415.00 116.5,415.00 117.0,415.00 117.5,415.00 118.0,415.00 118.5,415.00 119.0,415.00 119.5,415.00 120.0,415.00 120.5,415.00 121.0,415.00 121.5,415.00 122.0,415.00 122.5,415.00 123.0,415.00 123.5,415.00 124.0,415.00 124.5,415.00 125.0,415.00 125.5,415.00 126.0,415.00 126.5,415.00 127.0,415.00 127.5,415.00 128.0,415.00 128.5,415.00 129.0,415.00 129.5,415.00 130.0,415.00 130.5,414.94 131.0,414.88 131.5,414.82 132.0,414.77 132.5,414.71 133.0,414.65 133.5,414.59 134.0,414.53 134.5,414.48 135.0,414.42 135.5,414.36 136.0,414.30 136.5,414.29 137.0,414.28 137.5,414.26 138.0,414.25 138.5,414.24 139.0,414.23 139.5,414.22 140.0,414.21 140.5,414.19 141.0,414.18 141.5,414.17 142.0,414.16 142.5,414.15 143.0,414.14 143.5,414.12 144.0,414.11 144.5,414.10 145.0,414.09 145.5,414.08 146.0,414.07 146.5,414.06 147.0,414.04 147.5,414.03 148.0,414.02 148.5,413.99 149.0,413.96 149.5,413.94 150.0,413.91 150.5,413.88 151.0,413.85 151.5,413.82 152.0,413.80 152.5,413.77 153.0,413.74 153.5,413.69 154.0,413.65 154.5,413.60 155.0,413.55 155.5,413.51 156.0,413.46 156.5,413.53 157.0,413.60 157.5,413.67 158.0,413.74 158.5,413.81 159.0,413.88 159.5,413.83 160.0,413.77 160.5,413.72 161.0,413.67 161.5,413.62 162.0,413.56 162.5,413.51 163.0,413.46 163.5,413.55 164.0,413.65 164.5,413.74 165.0,413.83 165.5,413.93 166.0,414.02 166.5,414.14 167.0,414.26 167.5,414.39 168.0,414.51 168.5,414.63 169.0,414.75 169.5,414.88 170.0,415.00 170.5,415.00 171.0,415.00 171.5,415.00 172.0,415.00 172.5,415.00 173.0,415.00 173.5,415.00 174.0,415.00 174.5,415.00 175.0,415.00 175.5,415.00 176.0,415.00 176.5,415.00 177.0,415.00 177.5,415.00 178.0,415.00 178.5,415.00 179.0,415.00 179.5,415.00 180.0,415.00 180.5,415.00 181.0,415.00 181.5,415.00 182.0,415.00 182.5,415.00 183.0,415.00 183.5,415.00 184.0,415.00 184.5,415.00 185.0,415.00 185.5,415.00 186.0,415.00 186.5,415.00 187.0,415.00 187.5,415.00 188.0,415.00 188.5,415.00 189.0,415.00 189.5,415.00 190.0,415.00 190.5,415.00 191.0,415.00 191.5,415.00 192.0,415.00 192.5,415.00 193.0,415.00 193.5,415.00 194.0,415.00 194.5,415.00 195.0,415.00 195.5,415.00 196.0,415.00 196.5,415.00 197.0,415.00 197.5,415.00 198.0,415.00 198.5,415.00 199.0,415.00 199.5,415.00 200.0,415.00 200.5,415.00 201.0,415.00 201.5,415.00 202.0,415.00 202.5,415.00 203.0,415.00 203.5,415.00 204.0,415.00 204.5,415.00 205.0,415.00 205.5,415.00 206.0,415.00 206.5,415.00 207.0,415.00 207.5,415.00 208.0,415.00 208.5,415.00 209.0,415.00 209.5,415.00 210.0,415.00 210.5,415.00 211.0,415.00 211.5,415.00 212.0,415.00 212.5,415.00 213.0,415.00 213.5,415.00 214.0,415.00 214.5,415.00 215.0,415.00 215.5,415.00 216.0,415.00 216.5,415.00 217.0,415.00 217.5,415.00 218.0,415.00 218.5,415.00 219.0,415.00 219.5,415.00 220.0,415.00 220.5,415.00 221.0,415.00 221.5,415.00 222.0,415.00 222.5,415.00 223.0,415.00 223.5,415.00 224.0,415.00 224.5,415.00 225.0,415.00 225.5,415.00 226.0,415.00 226.5,415.00 227.0,415.00 227.5,415.00 228.0,415.00 228.5,415.00 229.0,415.00 229.5,415.00 230.0,415.00 230.5,415.00 231.0,415.00 231.5,415.00 232.0,415.00 232.5,415.00 233.0,415.00 233.5,415.00 234.0,415.00 234.5,415.00 235.0,415.00 235.5,415.00 236.0,415.00 236.5,415.00 237.0,415.00 237.5,415.00 238.0,415.00 238.5,415.00 239.0,415.00 239.5,415.00 240.0,415.00 240.5,414.95 241.0,414.91 241.5,414.86 242.0,414.81 242.5,414.77 243.0,414.72 243.5,414.67 244.0,414.63 244.5,414.58 245.0,414.53 245.5,414.49 246.0,414.44 246.5,414.43 247.0,414.42 247.5,414.40 248.0,414.39 248.5,414.38 249.0,414.37 249.5,414.36 250.0,414.35 250.5,414.33 251.0,414.32 251.5,414.31 252.0,414.30 252.5,414.29 253.0,414.28 253.5,414.26 254.0,414.25 254.5,414.24 255.0,414.23 255.5,414.22 256.0,414.21 256.5,414.19 257.0,414.18 257.5,414.17 258.0,414.16 258.5,414.12 259.0,414.09 259.5,414.06 260.0,414.02 260.5,413.99 261.0,413.95 261.5,413.92 262.0,413.88 262.5,413.89 263.0,413.90 263.5,413.92 264.0,413.93 264.5,413.94 265.0,413.95 265.5,413.96 266.0,413.97 266.5,413.99 267.0,414.00 267.5,414.01 268.0,414.02 268.5,414.05 269.0,414.07 269.5,414.10 270.0,414.12 270.5,414.15 271.0,414.18 271.5,414.20 272.0,414.23 272.5,414.26 273.0,414.28 273.5,414.31 274.0,414.33 274.5,414.36 275.0,414.39 275.5,414.41 276.0,415.00 276.5,415.00 276.6,415.00" fill="#1f4a86"/>
<line x1="13" y1="415.0" x2="276.6" y2="415.0" stroke="#1f4a86" stroke-width="0.9" stroke-opacity="1.0"/>
<polygon points="13.0,422.80 13.0,422.80 13.5,422.80 14.0,422.80 14.5,422.80 15.0,422.80 15.5,422.80 16.0,422.80 16.5,422.80 17.0,422.80 17.5,422.80 18.0,422.80 18.5,422.80 19.0,422.80 19.5,422.80 20.0,422.80 20.5,422.80 21.0,422.80 21.5,422.80 22.0,422.80 22.5,422.80 23.0,422.80 23.5,422.80 24.0,422.80 24.5,422.80 25.0,422.80 25.5,422.80 26.0,422.80 26.5,422.80 27.0,422.80 27.5,422.80 28.0,422.80 28.5,422.80 29.0,422.80 29.5,422.80 30.0,422.80 30.5,422.77 31.0,422.73 31.5,422.70 32.0,422.67 32.5,422.63 33.0,422.60 33.5,422.56 34.0,422.53 34.5,422.50 35.0,422.46 35.5,422.43 36.0,422.40 36.5,422.38 37.0,422.37 37.5,422.35 38.0,422.34 38.5,422.32 39.0,422.31 39.5,422.29 40.0,422.28 40.5,422.26 41.0,422.25 41.5,422.23 42.0,422.22 42.5,422.20 43.0,422.19 43.5,422.17 44.0,422.16 44.5,422.14 45.0,422.12 45.5,422.12 46.0,422.12 46.5,422.12 47.0,422.12 47.5,422.12 48.0,422.12 48.5,422.12 49.0,422.12 49.5,422.12 50.0,422.12 50.5,422.12 51.0,422.12 51.5,422.12 52.0,422.12 52.5,422.11 53.0,422.10 53.5,422.09 54.0,422.08 54.5,422.07 55.0,422.06 55.5,422.05 56.0,422.04 56.5,422.02 57.0,422.01 57.5,422.00 58.0,421.99 58.5,421.86 59.0,421.72 59.5,421.59 60.0,421.45 60.5,421.31 61.0,421.18 61.5,420.64 62.0,420.10 62.5,419.56 63.0,419.02 63.5,418.65 64.0,418.28 64.5,417.91 65.0,417.54 65.5,417.54 66.0,417.54 66.5,417.54 67.0,417.54 67.5,417.54 68.0,417.97 68.5,418.41 69.0,418.85 69.5,419.29 70.0,419.83 70.5,420.37 71.0,420.91 71.5,420.95 72.0,421.00 72.5,421.05 73.0,421.09 73.5,421.13 74.0,421.18 74.5,421.05 75.0,420.91 75.5,420.78 76.0,420.64 76.5,420.40 77.0,420.17 77.5,419.93 78.0,419.69 78.5,419.67 79.0,419.64 79.5,419.61 80.0,419.59 80.5,419.56 81.0,419.83 81.5,420.10 82.0,420.37 82.5,420.64 83.0,420.86 83.5,421.07 84.0,421.29 84.5,421.50 85.0,421.72 85.5,421.83 86.0,421.94 86.5,422.06 87.0,422.17 87.5,422.28 88.0,422.40 88.5,422.45 89.0,422.50 89.5,422.55 90.0,422.60 90.5,422.65 91.0,422.70 91.5,422.75 92.0,422.80 92.5,422.80 93.0,422.80 93.5,422.80 94.0,422.80 94.5,422.80 95.0,422.80 95.5,422.80 96.0,422.80 96.5,422.80 97.0,422.80 97.5,422.80 98.0,422.80 98.5,422.80 99.0,422.80 99.5,422.80 100.0,422.80 100.5,422.80 101.0,422.80 101.5,422.80 102.0,422.80 102.5,422.80 103.0,422.80 103.5,422.80 104.0,422.80 104.5,422.80 105.0,422.80 105.5,422.80 106.0,422.80 106.5,422.80 107.0,422.80 107.5,422.80 108.0,422.80 108.5,422.80 109.0,422.80 109.5,422.80 110.0,422.80 110.5,422.80 111.0,422.80 111.5,422.80 112.0,422.80 112.5,422.80 113.0,422.80 113.5,422.80 114.0,422.80 114.5,422.80 115.0,422.80 115.5,422.80 116.0,422.80 116.5,422.80 117.0,422.80 117.5,422.80 118.0,422.80 118.5,422.80 119.0,422.80 119.5,422.80 120.0,422.80 120.5,422.80 121.0,422.80 121.5,422.80 122.0,422.80 122.5,422.80 123.0,422.80 123.5,422.80 124.0,422.80 124.5,422.80 125.0,422.80 125.5,422.80 126.0,422.80 126.5,422.80 127.0,422.80 127.5,422.80 128.0,422.80 128.5,422.80 129.0,422.80 129.5,422.80 130.0,422.80 130.5,422.74 131.0,422.69 131.5,422.63 132.0,422.57 132.5,422.52 133.0,422.46 133.5,422.41 134.0,422.35 134.5,422.29 135.0,422.24 135.5,422.18 136.0,422.12 136.5,422.11 137.0,422.10 137.5,422.09 138.0,422.08 138.5,422.07 139.0,422.06 139.5,422.05 140.0,422.04 140.5,422.02 141.0,422.01 141.5,422.00 142.0,421.99 142.5,421.98 143.0,421.97 143.5,421.96 144.0,421.94 144.5,421.93 145.0,421.92 145.5,421.91 146.0,421.90 146.5,421.89 147.0,421.88 147.5,421.87 148.0,421.86 148.5,421.83 149.0,421.80 149.5,421.77 150.0,421.75 150.5,421.72 151.0,421.69 151.5,421.67 152.0,421.64 152.5,421.61 153.0,421.59 153.5,421.54 154.0,421.50 154.5,421.45 155.0,421.41 155.5,421.36 156.0,421.31 156.5,421.38 157.0,421.45 157.5,421.52 158.0,421.59 158.5,421.65 159.0,421.72 159.5,421.67 160.0,421.62 160.5,421.57 161.0,421.52 161.5,421.47 162.0,421.42 162.5,421.37 163.0,421.31 163.5,421.41 164.0,421.50 164.5,421.59 165.0,421.68 165.5,421.76 166.0,421.86 166.5,421.97 167.0,422.09 167.5,422.21 168.0,422.33 168.5,422.45 169.0,422.56 169.5,422.68 170.0,422.80 170.5,422.80 171.0,422.80 171.5,422.80 172.0,422.80 172.5,422.80 173.0,422.80 173.5,422.80 174.0,422.80 174.5,422.80 175.0,422.80 175.5,422.80 176.0,422.80 176.5,422.80 177.0,422.80 177.5,422.80 178.0,422.80 178.5,422.80 179.0,422.80 179.5,422.80 180.0,422.80 180.5,422.80 181.0,422.80 181.5,422.80 182.0,422.80 182.5,422.80 183.0,422.80 183.5,422.80 184.0,422.80 184.5,422.80 185.0,422.80 185.5,422.80 186.0,422.80 186.5,422.80 187.0,422.80 187.5,422.80 188.0,422.80 188.5,422.80 189.0,422.80 189.5,422.80 190.0,422.80 190.5,422.80 191.0,422.80 191.5,422.80 192.0,422.80 192.5,422.80 193.0,422.80 193.5,422.80 194.0,422.80 194.5,422.80 195.0,422.80 195.5,422.80 196.0,422.80 196.5,422.80 197.0,422.80 197.5,422.80 198.0,422.80 198.5,422.80 199.0,422.80 199.5,422.80 200.0,422.80 200.5,422.80 201.0,422.80 201.5,422.80 202.0,422.80 202.5,422.80 203.0,422.80 203.5,422.80 204.0,422.80 204.5,422.80 205.0,422.80 205.5,422.80 206.0,422.80 206.5,422.80 207.0,422.80 207.5,422.80 208.0,422.80 208.5,422.80 209.0,422.80 209.5,422.80 210.0,422.80 210.5,422.80 211.0,422.80 211.5,422.80 212.0,422.80 212.5,422.80 213.0,422.80 213.5,422.80 214.0,422.80 214.5,422.80 215.0,422.80 215.5,422.80 216.0,422.80 216.5,422.80 217.0,422.80 217.5,422.80 218.0,422.80 218.5,422.80 219.0,422.80 219.5,422.80 220.0,422.80 220.5,422.80 221.0,422.80 221.5,422.80 222.0,422.80 222.5,422.80 223.0,422.80 223.5,422.80 224.0,422.80 224.5,422.80 225.0,422.80 225.5,422.80 226.0,422.80 226.5,422.80 227.0,422.80 227.5,422.80 228.0,422.80 228.5,422.80 229.0,422.80 229.5,422.80 230.0,422.80 230.5,422.80 231.0,422.80 231.5,422.80 232.0,422.80 232.5,422.80 233.0,422.80 233.5,422.80 234.0,422.80 234.5,422.80 235.0,422.80 235.5,422.80 236.0,422.80 236.5,422.80 237.0,422.80 237.5,422.80 238.0,422.80 238.5,422.80 239.0,422.80 239.5,422.80 240.0,422.80 240.5,422.75 241.0,422.71 241.5,422.67 242.0,422.62 242.5,422.57 243.0,422.53 243.5,422.49 244.0,422.44 244.5,422.40 245.0,422.35 245.5,422.31 246.0,422.26 246.5,422.25 247.0,422.24 247.5,422.23 248.0,422.22 248.5,422.20 249.0,422.19 249.5,422.18 250.0,422.17 250.5,422.16 251.0,422.15 251.5,422.14 252.0,422.12 252.5,422.11 253.0,422.10 253.5,422.09 254.0,422.08 254.5,422.07 255.0,422.06 255.5,422.05 256.0,422.04 256.5,422.02 257.0,422.01 257.5,422.00 258.0,421.99 258.5,421.96 259.0,421.92 259.5,421.89 260.0,421.86 260.5,421.82 261.0,421.79 261.5,421.75 262.0,421.72 262.5,421.73 263.0,421.74 263.5,421.75 264.0,421.76 264.5,421.78 265.0,421.79 265.5,421.80 266.0,421.81 266.5,421.82 267.0,421.83 267.5,421.84 268.0,421.86 268.5,421.88 269.0,421.91 269.5,421.93 270.0,421.96 270.5,421.98 271.0,422.01 271.5,422.03 272.0,422.06 272.5,422.08 273.0,422.11 273.5,422.13 274.0,422.16 274.5,422.18 275.0,422.21 275.5,422.23 276.0,422.80 276.5,422.80 276.6,422.80" fill="#3aa83a"/>
<line x1="13" y1="422.8" x2="276.6" y2="422.8" stroke="#3aa83a" stroke-width="0.9" stroke-opacity="1.0"/>
<text x="179.8" y="406.90000000000003" font-size="7.4" text-anchor="start" fill="#d0364c" stroke="#d0364c" stroke-width="0.18">Control</text>
<text x="179.8" y="414.20000000000005" font-size="7.4" text-anchor="start" fill="#38649e" stroke="#38649e" stroke-width="0.18">GFP−</text>
<text x="179.8" y="421.8" font-size="7.4" text-anchor="start" fill="#4cae48" stroke="#4cae48" stroke-width="0.18">GFP+</text>
<text x="11.4" y="414.6" font-size="5.0" text-anchor="middle" fill="#444" font-weight="bold" transform="rotate(-90 11.4 414.6)">[0 - 2.26]</text>
<path d="M0,0.5H520M0.5,0V431M519.4,0V431M0,430.3H520" fill="none" stroke="#444" stroke-width="1.1"/>
</svg>
</body></html>
